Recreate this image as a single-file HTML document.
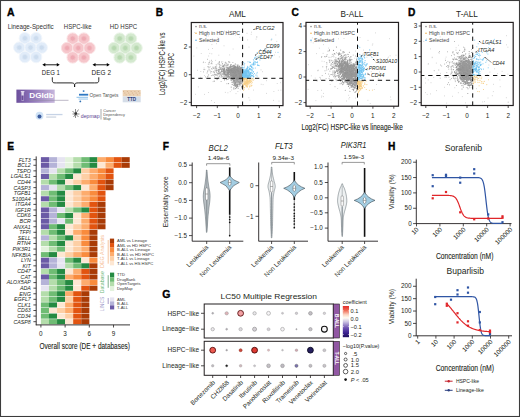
<!DOCTYPE html>
<html><head><meta charset="utf-8"><style>
html,body{margin:0;padding:0;background:#fff;}
svg{display:block;}
text{font-family:"Liberation Sans", sans-serif;}
</style></head><body>
<svg width="520" height="417" viewBox="0 0 520 417" font-family='"Liberation Sans", sans-serif'>
<rect x="0" y="0" width="520" height="417" fill="#fff"/>
<text x="7.00" y="16.00" font-size="10.4" fill="#000" font-weight="bold" stroke="#000" stroke-width="0.35">A</text>
<text x="7.70" y="28.60" font-size="6.6" fill="#333" textLength="46" lengthAdjust="spacingAndGlyphs">Lineage-Specific</text>
<text x="63.80" y="28.60" font-size="6.6" fill="#333" textLength="27.8" lengthAdjust="spacingAndGlyphs">HSPC-like</text>
<text x="109.80" y="28.60" font-size="6.6" fill="#333" textLength="27.5" lengthAdjust="spacingAndGlyphs">HD HSPC</text>
<circle cx="24.9" cy="38.2" r="5.7" fill="#e1ecf9" stroke="#f1f6fc" stroke-width="1.0"/>
<circle cx="36.1" cy="38.2" r="5.7" fill="#e1ecf9" stroke="#f1f6fc" stroke-width="1.0"/>
<circle cx="19.3" cy="47.6" r="5.7" fill="#e1ecf9" stroke="#f1f6fc" stroke-width="1.0"/>
<circle cx="30.5" cy="47.6" r="5.7" fill="#e1ecf9" stroke="#f1f6fc" stroke-width="1.0"/>
<circle cx="41.7" cy="47.6" r="5.7" fill="#e1ecf9" stroke="#f1f6fc" stroke-width="1.0"/>
<circle cx="24.9" cy="57.0" r="5.7" fill="#e1ecf9" stroke="#f1f6fc" stroke-width="1.0"/>
<circle cx="36.1" cy="57.0" r="5.7" fill="#e1ecf9" stroke="#f1f6fc" stroke-width="1.0"/>
<circle cx="24.9" cy="38.2" r="2.5" fill="#ccdcee" stroke="#dbe6f4" stroke-width="0.8"/>
<circle cx="36.1" cy="38.2" r="2.5" fill="#ccdcee" stroke="#dbe6f4" stroke-width="0.8"/>
<circle cx="19.3" cy="47.6" r="2.5" fill="#ccdcee" stroke="#dbe6f4" stroke-width="0.8"/>
<circle cx="30.5" cy="47.6" r="2.5" fill="#ccdcee" stroke="#dbe6f4" stroke-width="0.8"/>
<circle cx="41.7" cy="47.6" r="2.5" fill="#ccdcee" stroke="#dbe6f4" stroke-width="0.8"/>
<circle cx="24.9" cy="57.0" r="2.5" fill="#ccdcee" stroke="#dbe6f4" stroke-width="0.8"/>
<circle cx="36.1" cy="57.0" r="2.5" fill="#ccdcee" stroke="#dbe6f4" stroke-width="0.8"/>
<circle cx="72.7" cy="38.6" r="5.7" fill="#f6c6cb" stroke="#fbe1e3" stroke-width="1.0"/>
<circle cx="83.9" cy="38.6" r="5.7" fill="#f6c6cb" stroke="#fbe1e3" stroke-width="1.0"/>
<circle cx="67.1" cy="48.0" r="5.7" fill="#f6c6cb" stroke="#fbe1e3" stroke-width="1.0"/>
<circle cx="78.3" cy="48.0" r="5.7" fill="#f6c6cb" stroke="#fbe1e3" stroke-width="1.0"/>
<circle cx="89.5" cy="48.0" r="5.7" fill="#f6c6cb" stroke="#fbe1e3" stroke-width="1.0"/>
<circle cx="72.7" cy="57.4" r="5.7" fill="#f6c6cb" stroke="#fbe1e3" stroke-width="1.0"/>
<circle cx="83.9" cy="57.4" r="5.7" fill="#f6c6cb" stroke="#fbe1e3" stroke-width="1.0"/>
<circle cx="72.7" cy="38.6" r="2.5" fill="#eeaab3" stroke="#f3bec4" stroke-width="0.8"/>
<circle cx="83.9" cy="38.6" r="2.5" fill="#eeaab3" stroke="#f3bec4" stroke-width="0.8"/>
<circle cx="67.1" cy="48.0" r="2.5" fill="#eeaab3" stroke="#f3bec4" stroke-width="0.8"/>
<circle cx="78.3" cy="48.0" r="2.5" fill="#eeaab3" stroke="#f3bec4" stroke-width="0.8"/>
<circle cx="89.5" cy="48.0" r="2.5" fill="#eeaab3" stroke="#f3bec4" stroke-width="0.8"/>
<circle cx="72.7" cy="57.4" r="2.5" fill="#eeaab3" stroke="#f3bec4" stroke-width="0.8"/>
<circle cx="83.9" cy="57.4" r="2.5" fill="#eeaab3" stroke="#f3bec4" stroke-width="0.8"/>
<circle cx="119.7" cy="38.6" r="5.7" fill="#d4e9cf" stroke="#e9f4e6" stroke-width="1.0"/>
<circle cx="130.9" cy="38.6" r="5.7" fill="#d4e9cf" stroke="#e9f4e6" stroke-width="1.0"/>
<circle cx="114.1" cy="48.0" r="5.7" fill="#d4e9cf" stroke="#e9f4e6" stroke-width="1.0"/>
<circle cx="125.3" cy="48.0" r="5.7" fill="#d4e9cf" stroke="#e9f4e6" stroke-width="1.0"/>
<circle cx="136.5" cy="48.0" r="5.7" fill="#d4e9cf" stroke="#e9f4e6" stroke-width="1.0"/>
<circle cx="119.7" cy="57.4" r="5.7" fill="#d4e9cf" stroke="#e9f4e6" stroke-width="1.0"/>
<circle cx="130.9" cy="57.4" r="5.7" fill="#d4e9cf" stroke="#e9f4e6" stroke-width="1.0"/>
<circle cx="119.7" cy="38.6" r="2.5" fill="#b7d8b0" stroke="#c9e2c3" stroke-width="0.8"/>
<circle cx="130.9" cy="38.6" r="2.5" fill="#b7d8b0" stroke="#c9e2c3" stroke-width="0.8"/>
<circle cx="114.1" cy="48.0" r="2.5" fill="#b7d8b0" stroke="#c9e2c3" stroke-width="0.8"/>
<circle cx="125.3" cy="48.0" r="2.5" fill="#b7d8b0" stroke="#c9e2c3" stroke-width="0.8"/>
<circle cx="136.5" cy="48.0" r="2.5" fill="#b7d8b0" stroke="#c9e2c3" stroke-width="0.8"/>
<circle cx="119.7" cy="57.4" r="2.5" fill="#b7d8b0" stroke="#c9e2c3" stroke-width="0.8"/>
<circle cx="130.9" cy="57.4" r="2.5" fill="#b7d8b0" stroke="#c9e2c3" stroke-width="0.8"/>
<line x1="44.30" y1="64.80" x2="57.80" y2="64.80" stroke="#000" stroke-width="0.9"/>
<path d="M42.3 64.8 l3 -1.8 v3.6z M59.8 64.8 l-3 -1.8 v3.6z" fill="#000"/>
<line x1="94.50" y1="64.80" x2="107.80" y2="64.80" stroke="#000" stroke-width="0.9"/>
<path d="M92.5 64.8 l3 -1.8 v3.6z M109.8 64.8 l-3 -1.8 v3.6z" fill="#000"/>
<text x="41.80" y="74.80" font-size="6.6" fill="#222" textLength="18" lengthAdjust="spacingAndGlyphs">DEG 1</text>
<text x="91.60" y="74.80" font-size="6.6" fill="#222" textLength="19.4" lengthAdjust="spacingAndGlyphs">DEG 2</text>
<path d="M52.3 77.3 C52.3 82.9 52.3 82.9 56.5 82.9 L71 82.9 C74.6 82.9 74.6 84 74.6 87 C74.6 84 74.6 82.9 78.2 82.9 L94.6 82.9 C98.8 82.9 98.8 82.9 98.8 77.3" fill="none" stroke="#111" stroke-width="0.9"/>
<defs><linearGradient id="dg" x1="0" x2="1" y1="0" y2="0"><stop offset="0" stop-color="#6c4f9c"/><stop offset="0.35" stop-color="#8a6fb5"/><stop offset="1" stop-color="#c6b6dc"/></linearGradient></defs>
<rect x="16.40" y="89.60" width="38.30" height="13.20" fill="url(#dg)"/>
<path d="M20.8 91 h3.6 v1.2 h-0.6 v7.5 a1.2 1.2 0 0 1 -2.4 0 v-7.5 h-0.6z" fill="#ece6f4" opacity="0.9"/>
<path d="M21.4 95.5 h2.2 v4 a1.1 1.1 0 0 1 -2.2 0z" fill="#6c4f9c"/>
<text x="29.30" y="98.00" font-size="6.8" fill="#fff" font-weight="bold" textLength="24.5" lengthAdjust="spacingAndGlyphs">DGIdb</text>
<line x1="29.00" y1="100.30" x2="68.50" y2="100.30" stroke="#8e86a0" stroke-width="0.6"/>
<rect x="82.80" y="90.30" width="1.60" height="1.60" fill="#3a7fc4"/>
<rect x="79.00" y="93.80" width="9.20" height="1.80" fill="#2f78c2"/>
<rect x="76.50" y="96.80" width="11.50" height="1.00" fill="#8cc0ea"/>
<rect x="78.50" y="98.60" width="9.50" height="0.90" fill="#8cc0ea"/>
<circle cx="80.3" cy="101.4" r="0.9" fill="#2f6fb2"/>
<text x="89.50" y="97.40" font-size="4.6" fill="#555" textLength="28.8" lengthAdjust="spacingAndGlyphs">Open Targets</text>
<rect x="122.70" y="90.00" width="18.00" height="6.50" fill="#ecd2b4"/>
<circle cx="123.60" cy="91.50" r="0.5" fill="#c99b70" opacity="0.7"/>
<circle cx="124.85" cy="93.10" r="0.5" fill="#c99b70" opacity="0.7"/>
<circle cx="126.10" cy="94.70" r="0.5" fill="#c99b70" opacity="0.7"/>
<circle cx="127.35" cy="91.50" r="0.5" fill="#c99b70" opacity="0.7"/>
<circle cx="128.60" cy="93.10" r="0.5" fill="#c99b70" opacity="0.7"/>
<circle cx="129.85" cy="94.70" r="0.5" fill="#c99b70" opacity="0.7"/>
<circle cx="131.10" cy="91.50" r="0.5" fill="#c99b70" opacity="0.7"/>
<circle cx="132.35" cy="93.10" r="0.5" fill="#c99b70" opacity="0.7"/>
<circle cx="133.60" cy="94.70" r="0.5" fill="#c99b70" opacity="0.7"/>
<circle cx="134.85" cy="91.50" r="0.5" fill="#c99b70" opacity="0.7"/>
<circle cx="136.10" cy="93.10" r="0.5" fill="#c99b70" opacity="0.7"/>
<circle cx="137.35" cy="94.70" r="0.5" fill="#c99b70" opacity="0.7"/>
<circle cx="138.60" cy="91.50" r="0.5" fill="#c99b70" opacity="0.7"/>
<circle cx="139.85" cy="93.10" r="0.5" fill="#c99b70" opacity="0.7"/>
<rect x="122.70" y="96.50" width="18.00" height="5.80" fill="#d5dde8"/>
<text x="131.70" y="101.30" font-size="4.6" fill="#2c3f78" text-anchor="middle" font-weight="bold">TTD</text>
<circle cx="39.5" cy="115.7" r="3.9" fill="#cfe2f5"/>
<circle cx="39.5" cy="116.6" r="2.0" fill="#3d5d9e"/>
<rect x="46.20" y="113.90" width="16.30" height="1.30" fill="#c6d3e6"/>
<rect x="46.20" y="116.60" width="10.00" height="0.90" fill="#b8c3d3"/>
<g stroke="#444" stroke-width="0.6" fill="none"><path d="M72.5 111 l6 6 M78.5 109.5 l-5 7.5 M75.5 109 v9 M72.5 114 h7"/></g>
<circle cx="75.8" cy="113.5" r="1.3" fill="#333"/>
<text x="80.80" y="117.60" font-size="6.0" fill="#5b3f8f" textLength="18.8" lengthAdjust="spacingAndGlyphs">depmap</text>
<line x1="101.00" y1="109.00" x2="101.00" y2="119.50" stroke="#555" stroke-width="0.5"/>
<text x="103.20" y="112.30" font-size="3.9" fill="#555">Cancer</text>
<text x="103.20" y="116.30" font-size="3.9" fill="#555">Dependency</text>
<text x="103.20" y="120.30" font-size="3.9" fill="#555">Map</text>
<text x="155.80" y="15.80" font-size="10.2" fill="#000" font-weight="bold" stroke="#000" stroke-width="0.35">B</text>
<text x="237.50" y="17.40" font-size="8.2" fill="#231f20" text-anchor="middle">AML</text>
<path d="M277.2 83.5h0M217.9 37.9h0M208.5 49.4h0M243.3 54.1h0M206.3 36.8h0M253.4 90.1h0M204.1 68.0h0M279.3 56.9h0M240.2 89.8h0M195.4 94.3h0M261.2 84.3h0M223.4 66.4h0M275.8 35.0h0M200.5 77.3h0M276.8 41.4h0M209.8 64.1h0M262.5 71.7h0M251.2 34.3h0M210.8 73.3h0M256.8 37.2h0M201.2 53.5h0M229.7 54.9h0M208.2 35.9h0M249.9 100.2h0M248.9 97.7h0M204.4 75.5h0M225.3 92.4h0M245.8 75.4h0M273.5 100.4h0M205.3 62.5h0M200.8 71.5h0M213.0 81.6h0M224.5 31.1h0M271.2 39.7h0M216.8 68.5h0M198.3 86.9h0M256.1 39.1h0M247.7 39.9h0M239.8 37.3h0M218.0 63.4h0M241.1 78.3h0M274.6 55.0h0M224.0 45.8h0M258.0 57.3h0M211.9 44.6h0M230.2 91.6h0M231.7 90.0h0M234.6 73.0h0M215.7 60.4h0M256.8 36.7h0M233.1 49.0h0M218.8 55.2h0M210.7 72.6h0M196.8 47.9h0M216.4 43.7h0M266.5 80.7h0M271.2 40.2h0M209.8 53.4h0M237.9 91.5h0M266.5 93.4h0M194.8 32.5h0M222.8 61.8h0M193.9 56.1h0M204.5 94.4h0M211.8 53.8h0M208.6 92.5h0M203.2 62.6h0M212.6 48.5h0M280.5 82.7h0M257.9 56.5h0M279.0 101.1h0M249.0 47.1h0M197.6 70.3h0M236.0 93.6h0M280.9 90.2h0M214.5 102.5h0M247.0 33.3h0M211.5 100.6h0M263.1 84.6h0M251.4 32.2h0M275.5 52.3h0M261.0 69.9h0M236.1 69.0h0M273.9 91.5h0M227.9 92.8h0M208.7 56.0h0M221.4 33.9h0M228.5 30.7h0M278.3 90.3h0M235.3 35.0h0" stroke="#c4c4c4" stroke-width="0.9" stroke-linecap="round" fill="none" opacity="0.9"/>
<path d="M228.1 70.3h0M221.0 69.6h0M225.0 76.9h0M214.2 81.0h0M231.0 70.7h0M237.8 70.6h0M233.7 77.5h0M207.1 73.0h0M223.1 69.5h0M225.1 72.0h0M226.9 70.2h0M228.6 70.0h0M221.3 71.5h0M211.3 75.6h0M223.7 69.3h0M218.7 77.2h0M236.4 75.4h0M208.7 74.8h0M214.2 81.4h0M222.5 63.7h0M218.8 74.6h0M238.4 71.4h0M225.4 65.2h0M214.3 71.0h0M231.7 70.6h0M214.4 74.9h0M223.8 66.4h0M207.9 70.7h0M208.3 64.3h0M216.2 70.3h0M217.0 70.3h0M229.8 71.4h0M223.2 70.0h0M224.0 73.4h0M233.0 67.8h0M212.5 75.1h0M218.5 69.6h0M212.0 63.8h0M227.0 70.6h0M235.6 75.0h0M230.4 69.6h0M239.9 76.5h0M240.9 69.2h0M229.1 66.7h0M224.0 72.0h0M235.2 73.2h0M237.8 65.7h0M228.8 70.6h0M219.9 75.0h0M241.5 76.4h0M227.5 70.0h0M217.3 73.8h0M219.3 61.6h0M230.4 65.3h0M240.2 73.8h0M219.5 64.5h0M241.8 76.4h0M238.5 70.4h0M234.9 67.3h0M226.7 65.7h0M224.0 68.7h0M225.9 78.6h0M221.0 67.1h0M221.1 77.7h0M221.6 70.5h0M231.8 69.9h0M232.2 76.1h0M220.5 74.3h0M222.2 69.0h0M240.6 72.8h0M237.8 66.7h0M215.0 74.2h0M228.4 77.3h0M214.1 67.2h0M219.1 67.7h0M216.7 66.1h0M220.8 67.7h0M237.2 78.2h0M217.7 78.5h0M215.4 66.6h0M226.5 67.4h0M241.6 67.2h0M234.4 73.3h0M222.9 69.6h0M235.9 66.7h0M230.0 72.5h0M226.1 63.8h0M229.8 62.4h0M219.6 66.9h0M229.2 67.9h0M219.2 69.3h0M226.3 72.3h0M214.6 76.8h0M223.5 68.6h0M229.6 70.2h0M230.3 77.2h0M237.9 71.3h0M219.2 73.2h0M237.2 70.7h0M209.8 61.1h0M211.7 62.9h0M235.8 75.9h0M239.8 66.1h0M237.8 68.7h0M230.4 70.3h0M221.5 69.6h0M240.2 72.1h0M227.4 77.6h0M208.9 69.2h0M223.7 73.4h0M216.1 71.6h0M210.3 71.2h0M221.6 76.3h0M231.3 79.4h0M231.5 70.1h0M232.5 70.7h0M235.2 72.6h0M215.9 68.9h0M218.9 72.3h0M228.3 75.2h0M237.2 78.3h0M239.7 71.8h0M234.0 70.1h0M228.2 77.2h0M221.3 75.0h0M219.7 71.3h0M218.9 70.1h0M224.4 73.0h0M231.1 69.2h0M213.2 71.9h0M231.8 75.2h0M237.1 64.8h0M233.0 71.9h0M227.3 79.4h0M233.2 72.7h0M231.1 69.6h0M229.2 62.0h0M236.5 74.3h0M233.3 68.6h0M227.4 64.9h0M223.3 78.6h0M216.1 68.9h0M216.9 70.0h0M211.5 68.7h0M224.4 74.9h0M221.3 72.0h0M236.4 70.4h0M224.9 70.3h0M236.2 69.4h0M235.5 70.9h0M220.6 68.2h0M235.6 67.2h0M232.0 75.1h0M228.8 69.5h0M228.6 64.3h0M227.7 73.1h0M230.0 67.8h0M228.6 78.5h0M222.9 66.5h0M219.4 67.0h0M228.8 74.6h0M235.2 80.8h0M205.5 76.9h0M232.5 72.5h0M233.5 71.7h0M228.4 73.4h0M223.0 66.6h0M234.9 77.2h0M232.9 62.5h0M234.8 75.5h0M234.7 70.5h0M223.8 66.7h0M239.6 73.9h0M228.3 72.8h0M227.1 64.1h0M222.6 68.4h0M229.7 70.8h0M215.5 67.9h0M215.8 67.4h0M226.1 70.4h0M222.3 74.6h0M216.5 70.6h0M226.2 69.8h0M224.1 67.6h0M228.5 70.6h0M224.6 71.0h0M233.7 74.4h0M214.8 68.9h0M231.3 71.1h0M229.5 76.8h0M217.1 70.7h0M226.7 76.5h0M231.8 79.5h0M239.7 76.2h0M221.3 75.4h0M213.3 71.9h0M207.7 71.7h0M228.7 72.5h0M226.8 77.3h0M208.2 76.0h0M237.8 70.2h0M208.8 62.9h0M233.4 66.7h0M237.3 65.9h0M209.8 70.0h0M219.1 62.4h0M234.0 71.4h0M224.4 80.2h0M228.0 74.8h0M240.8 68.5h0M226.2 72.8h0M238.2 73.9h0M238.2 70.7h0M224.1 69.4h0M234.6 68.2h0M224.4 64.6h0M233.8 69.0h0M216.7 68.1h0M213.8 68.3h0M227.7 68.0h0M212.2 69.0h0M219.1 73.4h0M235.6 71.8h0M231.1 71.2h0M230.8 64.5h0M228.2 72.4h0M227.2 68.0h0M231.6 80.6h0M226.2 69.2h0M224.2 76.0h0M226.3 78.8h0M218.4 71.1h0M211.6 71.6h0M220.0 65.3h0M228.4 68.2h0M237.8 78.4h0M222.9 71.8h0M224.4 79.5h0M228.2 72.4h0M242.1 69.2h0M204.8 69.6h0M237.9 72.0h0M219.7 76.8h0M223.2 75.1h0M224.1 72.4h0M240.0 76.0h0M230.4 76.0h0M229.8 66.7h0M221.1 76.0h0M227.3 71.0h0M220.4 69.0h0M227.7 68.2h0M212.8 67.2h0M239.9 75.2h0M213.6 75.2h0M219.3 73.6h0M224.5 69.7h0M224.8 72.4h0M217.1 79.6h0M219.6 76.2h0M236.0 82.1h0M238.7 84.1h0M224.9 71.0h0M215.5 74.9h0M235.9 76.2h0M226.0 70.9h0M233.6 76.9h0M240.4 72.4h0M237.3 77.8h0M238.1 72.0h0M234.9 74.3h0M235.8 71.4h0M207.4 59.3h0M220.1 68.8h0M224.9 73.0h0M223.1 66.9h0M236.5 67.5h0M210.1 66.8h0M211.4 60.3h0M230.9 66.3h0M226.9 70.5h0M219.6 62.1h0M223.5 66.2h0M218.6 71.4h0M222.9 71.4h0M221.7 68.1h0M233.7 78.5h0M222.4 76.7h0M238.0 77.1h0M231.8 70.7h0M226.4 79.7h0M233.9 66.8h0M216.6 75.0h0M218.4 71.1h0M236.7 72.2h0M240.5 69.0h0M226.2 68.1h0M222.0 65.3h0M220.1 65.1h0M226.2 63.0h0M238.2 68.6h0M230.8 70.5h0M231.7 72.2h0M224.0 76.4h0M231.7 76.1h0M224.3 70.8h0M225.7 72.4h0M203.4 71.9h0M224.4 73.1h0M223.7 77.9h0M218.1 64.2h0M217.2 73.0h0M218.4 71.5h0M221.6 62.0h0M216.2 64.7h0M222.1 68.9h0M226.9 83.7h0M223.5 71.9h0M228.3 70.1h0M215.6 74.8h0M235.0 72.6h0M227.4 68.2h0M228.1 70.5h0M215.8 70.6h0M209.4 62.5h0M219.1 63.3h0M221.9 71.5h0M240.6 70.7h0M229.0 72.3h0M224.4 74.2h0M219.1 78.6h0M225.5 74.5h0M241.7 62.3h0M223.4 71.5h0M211.2 63.5h0M234.5 70.1h0M224.0 69.7h0M222.3 68.7h0M213.5 68.2h0M224.1 72.8h0M223.2 71.4h0M209.1 67.6h0M225.1 63.0h0M227.0 66.8h0M226.8 71.6h0M214.5 72.5h0M221.1 81.5h0M224.1 74.1h0M230.3 66.6h0M224.0 65.6h0M240.1 68.2h0M223.7 70.4h0M239.1 79.2h0M203.6 62.1h0M234.6 65.4h0M233.2 72.6h0M232.0 71.4h0M217.4 73.9h0M237.8 67.5h0M230.2 69.6h0M214.3 74.2h0M232.7 79.3h0M232.4 68.6h0M234.1 67.5h0M218.8 78.2h0M203.9 69.6h0M236.5 78.8h0M229.1 74.2h0M224.6 69.9h0M227.7 76.3h0M235.1 71.9h0M207.8 66.7h0M224.7 65.1h0M240.9 69.3h0M238.4 73.3h0M234.8 67.0h0M237.2 69.7h0M236.0 69.4h0M233.6 78.1h0M233.5 75.4h0M223.4 70.6h0M229.9 76.9h0M221.8 69.7h0M223.0 70.7h0M229.7 70.1h0M221.6 69.9h0M233.2 76.9h0M235.4 75.8h0M231.1 68.4h0M233.9 76.5h0M217.7 75.8h0M233.2 70.6h0M208.5 66.9h0M239.6 73.8h0M226.4 69.9h0M216.7 72.4h0M233.0 72.8h0M227.1 70.5h0M230.7 73.3h0M240.1 71.3h0M226.9 65.2h0M241.2 75.7h0M224.0 65.2h0M222.3 63.8h0M225.5 62.3h0M217.1 79.2h0M212.1 61.6h0M219.7 72.6h0M221.2 74.0h0M228.8 70.5h0M220.7 73.1h0M241.1 67.4h0M237.5 65.9h0M225.2 67.0h0M241.3 82.5h0M207.4 76.7h0M216.8 74.9h0M240.8 76.2h0M239.3 73.0h0M236.7 74.7h0" stroke="#a3a3a3" stroke-width="1.0" stroke-linecap="round" fill="none" opacity="0.9"/>
<path d="M230.9 71.3h0M230.3 72.5h0M240.8 70.4h0M231.0 76.2h0M242.1 72.5h0M237.4 74.0h0M233.5 76.1h0M238.6 73.0h0M236.0 73.2h0M239.6 71.5h0M227.6 69.9h0M229.8 72.7h0M229.5 72.2h0M233.5 72.1h0M236.3 71.1h0M237.5 72.2h0M238.6 76.4h0M241.3 76.1h0M242.0 73.8h0M238.8 75.7h0M242.5 72.5h0M241.2 72.2h0M239.6 72.9h0M239.1 75.2h0M232.1 73.7h0M241.4 69.3h0M242.5 71.8h0M239.1 71.2h0M234.0 67.0h0M239.4 70.6h0M239.0 71.2h0M238.7 76.0h0M237.4 72.1h0M238.3 69.4h0M233.6 70.4h0M227.6 74.6h0M239.4 71.9h0M238.0 71.4h0M237.1 80.2h0M235.6 72.3h0M238.7 68.8h0M237.5 67.8h0M234.0 74.2h0M242.2 69.7h0M241.8 72.9h0M227.4 74.0h0M234.5 74.4h0M241.4 74.8h0M242.6 73.7h0M236.1 72.7h0M240.5 71.1h0M235.2 73.6h0M230.1 67.5h0M235.2 76.6h0M239.0 72.8h0M233.5 79.9h0M228.7 71.6h0M228.7 61.8h0M237.0 79.5h0M237.3 77.8h0M241.5 80.1h0M232.7 69.0h0M229.1 69.6h0M234.0 74.8h0M231.1 74.4h0M237.2 76.1h0M237.3 77.1h0M227.7 69.9h0M233.8 72.5h0M235.8 76.3h0M228.2 76.4h0M238.0 72.9h0M235.2 68.7h0M239.0 71.7h0M226.6 69.6h0M234.0 68.9h0M240.0 70.6h0M242.4 80.0h0M242.2 75.8h0M233.6 74.0h0M242.5 71.3h0M234.6 79.9h0M237.4 71.5h0M233.6 72.0h0M239.3 70.5h0M233.2 75.1h0M233.6 67.6h0M239.3 73.1h0M239.2 74.1h0M236.1 76.8h0M234.3 68.0h0M241.1 73.5h0M236.8 73.0h0M240.0 75.5h0M239.1 72.8h0M233.7 75.1h0M232.2 75.7h0M236.5 74.9h0M234.4 72.6h0M237.2 75.0h0M237.3 70.5h0M235.7 76.4h0M230.7 75.6h0M229.9 69.0h0M240.1 74.3h0M242.4 71.5h0M229.0 76.7h0M232.6 69.9h0M235.7 74.6h0M236.1 78.4h0M232.2 76.2h0M240.8 67.5h0M228.0 73.2h0M232.6 66.7h0M241.3 75.9h0M228.6 73.6h0M236.6 73.1h0M238.8 74.4h0M239.1 75.2h0M232.8 68.2h0M240.1 72.3h0M228.8 72.6h0M240.3 74.0h0M239.3 69.9h0M235.7 68.4h0M233.5 75.5h0M242.1 77.0h0M235.9 70.4h0M240.9 68.1h0M234.5 73.7h0M231.3 73.2h0M236.9 73.6h0M229.6 69.1h0M231.8 73.8h0M237.2 74.2h0M232.2 73.3h0M237.2 69.9h0M242.3 71.6h0M233.0 72.3h0M240.9 69.9h0M240.7 74.4h0M238.2 74.0h0M239.4 71.5h0M236.0 75.5h0M233.0 69.4h0M238.0 71.4h0M231.9 73.1h0M233.7 70.6h0M234.6 73.2h0M240.3 69.6h0M233.4 75.5h0M240.6 75.3h0M237.4 78.6h0M242.1 75.3h0M232.8 66.5h0M242.1 63.5h0M240.4 74.7h0M238.6 68.7h0M237.8 72.0h0M241.0 76.4h0M238.7 74.9h0M230.8 69.8h0M241.9 73.6h0M232.7 78.5h0M240.8 74.0h0M228.2 72.2h0M229.2 72.2h0M238.8 72.4h0M239.3 73.0h0M231.4 73.6h0M235.0 73.6h0M239.6 71.7h0M240.3 74.2h0M228.4 70.9h0M235.0 70.0h0M231.9 72.8h0M237.2 73.5h0M234.6 78.3h0M240.7 70.7h0M237.6 76.3h0M239.2 71.8h0M237.0 73.2h0M234.8 78.5h0M233.9 75.0h0M232.4 74.6h0M237.3 66.7h0M237.6 78.4h0M240.3 76.4h0M234.6 77.6h0M238.6 76.4h0M237.6 74.4h0M234.4 70.1h0M232.8 75.8h0M239.6 66.5h0M235.4 75.3h0M234.0 76.0h0M232.4 73.2h0M235.0 77.7h0M239.2 73.6h0M230.9 75.6h0M237.8 70.3h0M241.6 73.2h0M236.1 72.1h0M237.9 66.9h0M231.4 73.5h0M238.8 74.5h0M230.0 75.1h0M241.5 71.0h0M241.3 70.7h0M236.5 73.8h0M230.3 73.0h0M234.8 71.1h0M233.8 75.9h0M236.1 68.5h0M237.7 72.8h0M238.1 72.5h0M228.5 68.0h0M238.0 74.3h0M232.0 71.1h0M242.3 74.2h0M224.5 72.6h0M236.9 76.4h0M235.7 73.9h0M233.5 75.0h0M238.5 72.5h0M235.1 73.2h0M229.9 70.7h0M233.7 72.1h0M232.7 74.1h0M239.2 77.1h0M237.6 75.4h0M239.7 77.6h0M235.1 71.1h0M235.0 76.4h0M231.1 74.7h0M238.1 75.2h0M238.1 65.1h0M240.0 73.3h0M237.2 70.1h0M236.1 74.0h0M235.8 73.3h0M230.2 73.6h0M233.4 70.3h0M239.3 70.9h0M237.6 78.9h0M240.6 73.0h0M240.9 77.5h0M238.5 75.4h0M234.0 71.7h0M240.0 76.2h0M228.1 79.3h0M234.7 69.6h0M237.7 79.9h0M233.0 71.4h0M240.1 73.0h0M231.9 73.8h0M236.1 75.3h0M238.4 74.5h0M240.0 69.3h0M242.3 72.6h0M236.6 77.6h0M237.3 71.6h0M232.2 68.8h0M236.1 72.0h0M236.1 76.8h0M239.6 75.9h0M235.6 70.3h0M238.1 70.5h0M234.3 70.7h0M233.5 70.9h0M240.5 70.1h0M240.1 77.1h0M241.9 77.1h0M242.4 69.4h0M241.5 75.4h0M230.8 73.4h0M238.7 74.4h0M228.2 73.5h0M240.1 73.0h0M237.0 79.5h0M235.4 74.8h0M239.8 68.6h0M228.2 72.7h0M233.9 71.1h0M230.8 72.2h0M236.3 77.7h0M242.0 77.7h0M229.0 72.8h0M240.0 76.5h0M235.1 72.1h0M237.0 82.2h0M235.5 71.7h0M239.7 70.6h0M234.0 65.3h0M238.6 75.2h0M227.0 75.1h0M240.7 73.4h0M239.6 71.6h0M238.8 68.8h0M234.6 74.0h0M239.9 71.4h0M242.6 69.5h0M235.2 69.5h0M240.7 76.7h0M237.2 67.1h0M242.6 75.3h0M224.1 73.7h0M233.9 72.6h0M239.8 76.3h0M231.1 73.0h0M235.3 64.1h0M235.7 74.8h0M230.8 68.6h0M236.2 77.0h0M239.9 72.1h0M236.0 71.0h0M226.1 78.8h0M237.3 69.6h0M242.0 72.7h0M237.5 74.5h0M231.5 72.1h0M241.1 75.7h0M239.5 76.5h0M240.2 74.2h0M239.8 75.3h0M231.2 73.4h0M236.1 70.7h0M242.4 72.7h0M229.0 71.2h0M232.4 69.1h0M242.6 72.1h0M223.3 69.6h0M242.1 77.6h0M236.9 75.3h0M232.1 73.8h0M239.2 75.4h0M234.4 74.5h0M232.9 70.1h0M236.4 70.6h0M231.3 69.7h0M237.8 71.3h0M237.4 75.9h0M237.1 75.8h0M239.2 74.6h0M239.6 72.5h0M234.0 77.0h0M240.5 70.9h0M242.0 77.2h0M241.5 72.6h0M239.6 72.3h0M236.1 72.4h0M229.7 72.5h0M239.1 78.9h0M234.1 71.1h0M237.1 72.9h0M230.7 69.7h0M233.8 76.2h0M233.4 69.1h0M242.4 72.1h0M227.8 72.3h0M241.6 77.4h0M233.9 70.0h0M235.6 78.5h0M242.5 67.2h0M235.3 74.4h0M241.8 72.7h0M230.1 74.4h0M231.6 66.5h0M233.8 70.2h0M230.8 73.4h0M233.8 73.6h0M241.2 77.4h0M235.0 66.8h0M238.4 69.5h0M239.8 75.2h0M235.8 73.4h0M241.6 73.4h0M235.3 75.1h0M233.5 77.0h0M232.3 69.9h0M238.3 73.9h0M240.0 70.4h0M241.6 71.5h0M234.8 73.7h0M233.5 73.0h0M233.3 73.8h0M237.0 73.8h0M236.5 74.6h0M232.1 72.0h0M231.7 75.7h0M238.5 78.3h0M219.3 70.0h0M232.8 70.9h0M226.5 74.4h0M231.0 73.0h0M226.6 69.2h0M237.2 72.3h0M236.1 79.3h0M237.1 77.2h0M238.1 75.8h0M236.2 73.7h0M242.5 71.6h0M232.2 72.6h0M233.8 73.1h0M236.0 70.3h0M238.2 72.2h0M232.1 77.7h0M228.8 69.6h0M239.7 68.7h0M226.6 74.4h0M238.2 73.4h0M238.2 70.9h0M237.1 72.2h0M233.7 71.1h0M236.5 73.6h0M235.6 69.8h0M234.1 72.5h0M234.3 66.4h0M241.0 74.9h0M240.8 76.0h0M234.5 72.5h0M240.4 69.6h0M242.3 68.2h0M240.6 73.2h0M237.2 75.7h0M237.3 74.8h0M233.4 79.3h0M235.8 72.6h0M238.8 70.9h0M237.1 75.1h0M239.8 71.6h0M232.8 77.1h0M232.1 69.4h0M238.6 70.9h0M236.6 69.0h0M231.4 71.1h0M236.3 73.3h0M234.2 74.2h0M237.9 68.0h0M242.1 72.6h0M238.2 75.6h0M236.7 69.5h0M239.5 73.6h0M228.6 70.9h0M228.0 67.5h0M234.3 72.8h0M230.2 73.7h0M232.6 69.3h0M239.4 77.0h0M226.8 72.0h0M235.2 76.2h0M241.4 74.3h0M238.6 75.1h0M234.7 74.2h0M228.7 70.2h0M240.3 78.7h0M238.6 70.0h0M239.4 69.7h0M236.4 73.1h0M230.5 75.0h0M227.4 74.6h0M239.4 72.0h0M232.3 71.3h0M237.2 67.9h0M231.4 74.0h0M239.1 75.6h0M241.0 71.7h0M232.9 75.1h0M237.3 69.3h0M240.1 71.6h0M235.3 71.4h0M239.7 73.7h0M228.2 71.7h0M241.2 73.9h0M228.8 70.8h0M242.2 73.3h0M240.5 74.7h0M234.2 71.3h0M235.9 72.5h0M238.8 78.2h0M238.6 71.2h0M233.9 73.5h0M224.9 70.0h0M234.5 70.8h0M236.8 74.0h0M233.1 68.9h0M229.3 68.6h0M230.6 68.8h0M239.2 70.8h0M241.0 70.3h0M240.0 71.9h0M239.4 70.3h0M235.7 70.0h0M240.6 75.2h0M236.3 72.3h0M236.0 75.7h0M237.8 72.7h0M239.9 71.5h0M227.7 67.8h0M237.0 75.5h0M235.8 71.7h0M238.9 78.1h0M239.0 73.8h0M235.5 70.4h0M233.5 68.2h0M236.1 73.2h0M234.6 71.5h0M241.2 73.3h0M236.8 73.6h0M235.7 70.1h0M235.0 73.4h0M236.8 75.4h0M236.7 77.5h0M240.4 72.0h0M236.3 68.5h0M233.3 71.1h0M240.8 75.3h0M236.6 70.5h0M238.4 72.5h0M228.3 74.2h0M231.8 78.3h0M239.9 69.2h0M230.8 78.7h0M240.9 75.3h0M236.3 74.0h0M232.8 71.3h0M234.8 69.8h0M237.4 71.5h0M232.6 70.7h0M242.3 70.1h0M238.2 72.0h0M234.7 70.3h0M242.5 70.7h0M235.8 76.6h0M237.6 73.9h0M233.7 71.0h0M232.4 74.3h0M236.0 71.0h0M237.4 68.9h0M240.6 70.6h0M227.2 76.8h0M233.1 69.7h0M232.4 75.5h0M232.9 71.0h0M236.2 67.6h0M242.1 75.8h0M239.4 73.9h0M242.5 71.3h0M236.0 70.5h0M241.3 74.0h0M239.5 71.5h0M236.2 75.0h0M234.6 71.5h0M229.6 72.0h0M230.3 73.5h0M227.9 74.1h0M231.1 67.4h0M234.4 68.5h0M235.0 77.2h0M242.4 70.4h0M230.5 72.1h0M234.8 71.1h0M238.0 77.0h0M238.4 71.1h0M236.4 71.5h0M235.0 73.1h0M240.0 73.1h0M238.9 76.8h0M239.3 74.2h0M237.8 69.8h0M239.7 76.4h0M237.1 75.4h0M236.9 75.7h0M233.1 68.4h0M232.5 73.9h0M235.8 77.0h0M242.0 71.8h0M236.0 74.9h0M238.4 72.9h0M226.2 75.4h0M241.1 74.0h0M235.7 75.9h0M234.1 75.0h0M239.3 72.9h0M235.9 68.4h0M240.9 73.8h0M237.4 72.6h0M231.6 73.4h0M234.5 71.0h0M241.5 79.1h0M236.8 70.3h0M230.7 75.7h0M235.5 76.5h0M239.0 75.0h0M239.3 72.2h0M242.0 74.8h0M235.1 72.8h0M237.5 72.7h0M235.0 73.6h0M234.7 74.6h0M238.9 70.1h0M235.0 71.2h0M240.0 73.2h0M241.9 75.4h0M241.2 72.9h0M218.3 69.7h0M241.4 68.1h0M232.0 72.2h0M240.0 76.4h0M233.5 76.2h0M235.7 66.1h0M227.7 70.0h0M237.4 75.1h0M241.5 73.5h0M239.7 72.7h0M231.9 68.7h0M235.4 69.7h0M242.0 73.7h0M238.8 73.5h0M227.6 72.9h0M240.5 78.3h0M229.6 69.1h0M240.7 73.8h0M236.8 75.3h0M239.1 73.8h0M234.3 73.8h0M233.7 70.9h0M232.2 77.0h0M232.5 69.4h0M235.1 71.0h0M242.2 75.3h0M242.3 72.4h0M237.8 75.3h0M237.7 77.0h0M236.5 74.8h0M240.5 72.6h0M234.4 70.3h0M233.8 71.3h0M224.1 73.2h0M241.4 67.9h0M233.8 68.3h0M224.5 68.3h0M239.1 70.5h0M237.0 75.0h0M236.7 68.8h0M240.2 71.1h0M241.3 73.9h0M234.3 75.0h0M235.5 74.6h0M229.0 76.2h0M230.5 72.4h0M235.6 76.0h0M234.9 75.6h0M234.9 71.5h0M231.9 74.8h0M236.5 73.2h0M233.6 75.0h0M231.5 74.7h0M241.0 74.4h0M220.1 69.2h0M237.6 75.8h0M236.5 82.0h0M228.5 68.6h0M233.8 72.6h0M242.5 77.5h0M240.0 77.0h0M240.1 73.6h0M238.0 68.0h0M231.1 71.4h0M240.5 75.1h0M236.5 68.9h0M239.6 76.9h0M238.5 68.1h0M226.0 73.7h0M239.0 75.1h0M236.2 72.1h0M240.7 72.4h0M229.4 68.5h0M228.7 76.4h0M240.2 69.6h0M240.8 69.5h0M237.1 73.0h0M235.3 70.8h0M234.8 74.6h0M230.9 75.1h0M239.3 72.1h0M235.8 76.1h0M240.0 72.5h0M235.6 71.5h0M237.5 76.0h0M235.8 70.2h0M228.4 69.6h0M232.6 70.8h0M224.2 71.8h0M232.9 68.9h0M238.7 69.5h0M235.4 67.1h0M235.4 67.3h0M235.2 75.9h0M237.7 77.3h0M236.0 72.7h0M233.9 71.6h0M224.6 68.9h0M235.6 68.6h0M236.0 75.0h0M235.4 72.1h0M241.5 75.1h0M233.3 71.4h0M231.9 74.5h0M231.5 69.1h0M235.4 75.3h0M232.6 72.1h0M233.1 72.1h0M234.2 76.4h0M242.0 77.6h0M231.9 82.3h0M231.1 69.9h0M241.5 65.0h0M239.4 70.8h0M241.6 71.5h0M237.9 74.5h0M242.2 70.2h0M231.2 75.8h0M237.8 67.9h0M236.8 78.2h0M231.0 73.2h0M235.8 69.7h0M239.7 72.6h0M233.2 72.9h0M238.7 75.6h0M236.3 72.6h0M239.3 70.3h0M232.0 73.7h0M239.6 74.6h0M240.0 75.0h0M231.4 70.2h0M237.3 73.0h0M237.1 77.8h0M242.0 70.8h0M240.8 73.4h0M233.3 65.4h0M231.0 76.9h0M242.0 72.8h0M234.8 69.9h0M231.1 77.5h0M225.5 71.7h0M234.1 71.3h0M237.7 75.6h0M233.9 70.5h0M232.6 72.2h0M232.2 71.2h0M232.4 73.5h0M238.5 72.0h0M234.5 71.0h0M233.8 72.6h0M238.0 76.7h0M238.7 73.5h0M225.7 75.9h0M232.8 69.7h0M234.7 71.0h0M232.0 75.0h0M235.3 69.8h0M228.3 72.5h0M240.4 73.2h0M237.9 71.0h0M239.7 76.5h0M241.7 76.1h0M236.1 68.7h0M240.5 75.9h0M233.6 67.8h0M240.0 77.7h0M225.4 73.8h0M237.2 73.7h0M237.5 73.4h0M237.5 76.3h0M230.9 80.0h0M240.0 74.2h0M239.2 76.6h0M238.1 76.2h0M232.1 71.5h0M241.8 72.1h0M237.8 74.4h0M234.3 76.0h0M240.2 72.6h0M232.7 65.8h0M225.8 74.2h0M239.5 70.5h0M227.2 73.2h0M236.6 73.0h0M232.9 71.4h0M231.9 78.5h0M229.1 72.0h0M230.3 69.0h0M241.9 70.4h0M239.6 70.9h0M240.8 71.3h0M232.1 74.5h0M232.2 70.1h0M241.0 76.0h0M232.3 74.3h0M236.6 75.2h0M237.3 68.5h0M234.0 73.8h0M231.4 69.2h0M230.7 70.7h0M223.3 74.3h0M233.8 72.6h0M238.1 74.7h0M234.1 67.4h0M231.3 74.0h0M236.3 71.6h0M238.9 74.7h0M238.9 75.5h0M240.2 70.1h0M235.7 74.0h0M238.7 77.3h0M235.9 75.7h0M235.1 67.3h0M237.3 75.5h0M238.0 72.7h0M233.7 73.3h0M236.8 71.0h0M242.5 71.4h0M237.3 70.8h0M236.8 69.7h0M240.4 74.9h0M232.4 74.9h0M237.3 76.9h0M231.0 78.0h0M238.7 75.7h0M231.4 68.5h0M238.7 70.2h0M231.6 69.0h0M233.1 73.8h0M239.6 66.3h0M236.8 74.1h0M240.2 74.4h0M235.3 73.6h0M239.4 74.3h0M236.9 74.1h0M235.7 73.2h0M234.4 73.2h0M232.7 73.1h0M234.2 72.8h0M236.3 76.0h0M235.7 72.9h0M230.6 72.0h0M241.2 71.9h0M233.4 68.8h0M230.6 74.8h0M231.9 75.2h0M240.3 74.1h0M223.4 72.3h0M240.8 73.4h0M239.5 73.4h0M242.3 77.8h0M230.4 72.8h0M238.5 78.7h0M240.2 73.6h0M242.3 81.6h0M241.0 76.3h0M235.3 70.6h0M237.4 69.3h0M232.8 73.1h0M235.1 75.8h0M239.2 67.4h0M239.5 72.0h0M237.9 69.9h0M239.1 76.1h0M238.6 69.1h0M237.5 69.7h0M237.6 67.2h0M239.7 71.6h0M236.4 70.6h0M236.7 77.5h0M239.8 77.1h0M238.1 71.3h0M222.9 66.8h0M234.3 70.8h0M235.6 72.0h0M240.5 78.6h0M232.6 68.2h0M234.5 71.2h0M230.1 75.0h0M227.4 71.1h0M236.4 72.4h0M240.8 74.5h0M241.3 67.9h0M230.7 66.6h0M241.6 74.4h0M236.0 72.0h0M236.0 66.2h0M241.3 72.9h0M236.9 72.4h0M236.7 71.4h0M230.7 73.3h0M238.5 77.0h0M240.3 74.0h0M238.4 72.2h0M234.4 68.2h0M240.8 71.4h0M233.6 73.8h0M242.1 81.5h0M230.4 71.3h0M241.7 76.5h0M239.3 73.6h0M238.5 76.4h0M241.3 73.2h0M242.4 69.6h0M238.3 72.8h0M240.0 68.4h0M229.6 72.2h0M234.4 72.4h0M242.4 73.3h0M233.9 74.7h0M230.0 71.6h0M235.8 70.5h0M231.7 70.7h0M233.0 72.0h0M241.6 74.9h0M240.5 74.8h0M221.3 71.6h0M237.1 71.4h0M237.3 75.4h0M235.1 73.8h0M242.5 74.7h0M233.7 69.7h0M224.9 71.5h0M232.4 72.8h0M237.1 69.4h0M233.6 75.2h0M229.8 71.7h0M235.7 72.6h0M239.3 75.5h0M237.6 66.9h0M231.9 72.6h0M224.8 74.0h0M231.4 72.2h0M235.2 67.5h0M232.7 72.7h0M239.3 71.6h0M233.9 77.6h0M235.5 78.2h0M239.1 75.2h0M239.9 75.9h0M238.5 66.8h0M232.3 68.2h0M228.2 76.2h0M241.5 75.6h0M241.5 69.6h0M238.9 82.0h0M235.9 74.1h0M237.7 74.3h0M240.6 79.5h0M225.4 74.6h0M233.7 75.4h0M234.0 71.0h0M241.4 73.5h0M239.2 75.5h0M232.3 76.8h0M235.6 76.3h0M236.1 70.9h0M241.2 69.8h0M232.6 79.1h0M231.6 66.6h0M242.1 75.1h0M235.7 70.9h0M231.4 72.9h0M231.6 73.2h0M237.9 75.5h0M240.4 69.9h0M238.3 70.7h0M239.7 73.1h0M233.6 69.9h0M232.9 71.1h0M238.6 70.1h0M240.9 74.1h0M230.0 70.4h0M238.6 77.1h0M229.4 77.6h0M241.6 75.1h0M218.7 73.4h0M234.3 73.2h0M238.2 74.3h0M242.3 70.9h0M236.7 68.5h0M237.3 75.8h0M238.9 77.7h0M236.3 76.2h0M235.5 72.4h0M223.8 70.3h0M239.5 74.2h0M242.1 72.9h0M235.9 76.0h0M242.2 71.6h0M229.4 74.3h0M231.1 70.0h0M234.6 76.6h0M239.3 72.8h0M236.9 73.1h0M235.3 72.7h0M230.3 72.0h0M231.3 64.7h0M241.6 72.1h0M240.1 67.8h0M232.1 72.7h0M228.3 68.4h0M237.5 68.0h0M236.4 76.2h0M233.9 70.4h0M233.2 71.9h0M233.8 74.9h0M234.7 68.1h0M231.7 71.6h0M229.2 67.7h0M231.0 69.8h0M237.7 75.7h0M235.7 80.1h0M233.2 76.3h0M230.3 70.6h0M239.5 68.5h0M222.3 73.3h0M233.0 68.8h0M238.5 75.7h0M234.9 74.3h0M223.2 65.8h0M242.2 67.7h0M232.0 70.0h0M235.7 77.9h0M237.8 77.2h0M237.9 68.7h0M231.3 73.8h0M241.1 73.9h0M239.0 76.0h0M235.9 80.2h0M236.9 69.4h0M231.3 73.0h0M242.0 70.3h0M235.4 67.8h0M235.2 72.1h0M232.9 74.7h0M220.5 72.7h0M225.0 74.7h0M232.1 68.6h0M242.4 72.8h0M234.8 77.1h0M240.7 76.2h0M237.2 70.5h0M236.8 73.3h0M232.0 69.5h0M241.0 71.7h0M238.0 71.5h0M239.8 72.7h0M240.6 78.3h0M237.4 69.8h0M237.5 73.9h0M240.2 69.1h0M236.4 75.6h0M240.9 75.1h0M233.0 72.2h0M228.1 70.1h0M230.8 74.1h0M242.1 74.0h0M239.4 69.5h0M234.6 70.2h0M228.1 69.7h0M240.6 71.2h0M236.9 75.2h0M238.8 70.6h0M239.2 68.8h0M230.6 73.4h0M239.4 73.0h0M227.9 65.2h0M228.7 75.5h0M240.5 73.1h0M240.1 71.5h0M233.5 76.7h0M235.1 70.0h0M236.2 69.4h0M234.6 70.7h0M238.0 70.9h0M237.9 72.8h0M235.1 69.3h0M237.7 71.8h0M241.7 76.5h0M233.0 72.8h0M231.9 75.5h0M235.6 76.2h0M233.1 71.1h0M231.5 72.5h0M231.0 73.0h0M240.9 79.8h0M238.2 72.7h0M237.5 72.5h0M240.3 77.6h0M237.2 71.3h0M234.4 77.0h0M237.8 76.5h0M232.1 70.3h0M241.9 72.8h0M233.0 72.9h0M242.5 76.6h0M240.3 73.7h0M239.0 73.5h0M241.4 71.4h0M236.2 74.2h0M225.3 74.3h0M229.0 70.2h0M231.6 74.6h0M241.0 70.8h0M239.3 70.3h0M232.9 73.4h0M230.8 74.3h0M242.1 73.6h0M235.8 74.7h0M230.7 65.9h0M235.5 73.5h0M235.0 74.7h0M241.7 78.1h0M238.1 74.3h0M240.5 72.1h0M241.4 73.4h0M223.6 70.2h0M236.1 71.0h0M239.7 75.2h0M232.7 75.7h0M239.6 73.9h0M232.7 73.7h0M240.0 75.6h0M237.2 75.1h0M222.8 71.1h0M238.3 71.0h0M241.4 73.0h0M238.4 70.9h0M234.0 74.9h0M236.6 76.5h0M232.7 70.2h0M239.3 73.3h0M236.4 71.6h0M227.3 75.5h0M240.9 70.5h0M228.1 72.0h0M234.1 73.7h0M241.4 69.4h0M241.7 73.4h0M227.1 70.7h0M231.0 75.7h0M238.6 78.1h0M240.1 72.2h0M239.4 73.3h0M242.1 75.9h0M239.5 73.0h0M242.5 77.2h0M239.4 73.9h0M241.6 72.2h0M239.0 72.1h0M240.5 69.6h0M239.7 72.0h0M232.5 73.2h0M242.4 70.8h0M232.3 72.7h0M236.4 73.0h0M235.2 74.2h0M237.6 72.9h0M232.4 70.3h0M240.9 74.3h0M231.2 69.3h0M231.7 69.2h0M239.4 74.0h0M237.0 70.8h0M238.0 78.5h0M233.9 79.1h0M240.3 70.9h0M237.3 79.1h0M232.9 69.6h0M227.2 74.8h0M229.8 78.5h0M241.6 71.4h0M235.2 73.6h0M238.4 74.4h0M234.8 74.6h0M234.5 69.2h0M240.3 70.6h0M237.6 70.5h0M236.7 74.9h0M240.3 75.2h0M233.1 73.6h0M238.3 73.3h0M235.2 64.0h0M236.6 74.0h0M237.1 75.3h0M228.8 71.6h0M233.5 71.5h0M234.0 71.3h0M237.7 76.6h0M236.7 74.7h0M241.1 81.3h0M240.3 69.7h0M235.9 79.3h0M235.3 83.4h0M233.9 87.7h0M236.6 84.7h0M239.3 81.7h0M232.6 79.6h0M234.1 83.5h0M234.5 85.0h0M235.6 86.3h0M235.2 83.1h0M238.9 79.7h0M241.5 87.8h0M236.1 78.0h0M234.3 82.8h0M238.9 76.8h0M238.5 81.0h0M236.7 80.0h0M237.3 81.0h0M235.5 82.6h0M234.9 86.0h0M235.0 85.1h0M235.4 84.2h0M233.3 81.1h0M237.8 76.8h0M231.2 87.1h0M234.6 85.2h0M237.2 85.2h0M235.1 79.7h0M236.6 87.8h0M239.4 74.4h0M239.9 82.8h0M240.4 82.5h0M236.2 81.3h0M240.3 81.8h0M236.3 87.0h0M237.5 85.9h0M236.8 87.0h0M234.9 85.6h0M235.4 86.2h0M240.1 79.5h0M236.2 85.8h0M239.8 83.1h0M238.5 78.7h0M236.0 80.7h0M238.2 83.7h0M236.6 84.4h0M228.6 83.6h0M241.1 78.7h0M239.2 84.4h0M235.2 85.2h0M238.2 79.5h0M232.3 79.8h0M239.3 79.5h0M233.9 81.5h0M237.8 86.8h0M234.2 74.6h0M235.4 83.9h0M232.2 84.4h0M240.4 80.9h0M234.9 82.1h0M237.9 80.2h0M234.6 80.9h0M235.4 84.0h0M234.9 85.0h0M238.2 88.3h0M237.5 72.8h0M234.8 83.2h0M236.9 76.9h0M233.5 80.3h0M236.8 75.5h0M236.5 75.4h0M234.6 81.0h0M234.3 84.3h0M233.9 83.6h0M240.9 84.1h0M237.8 82.2h0M237.8 84.8h0M238.5 81.9h0M232.2 82.1h0M238.4 82.1h0M237.8 82.2h0M235.8 78.6h0M240.5 83.3h0M239.0 86.0h0M240.1 85.1h0M237.1 79.0h0M235.8 82.1h0M239.5 84.1h0M237.9 78.5h0M237.6 84.9h0M236.0 83.1h0M237.1 80.1h0M233.2 82.5h0M237.5 77.1h0M233.4 85.3h0M239.2 82.4h0M239.7 82.4h0M235.4 82.4h0M240.0 79.8h0M237.5 81.8h0M239.6 80.1h0M237.6 79.8h0M237.3 86.1h0M239.2 78.1h0M240.4 82.5h0M234.1 80.9h0M235.6 88.6h0M237.4 84.9h0M237.2 83.9h0M239.0 79.3h0M238.2 78.2h0M235.7 74.2h0M232.8 79.7h0M239.5 83.6h0M237.3 86.3h0M235.9 81.3h0M233.9 88.9h0M236.1 85.1h0M242.4 82.6h0M242.3 86.3h0M242.5 78.2h0M239.7 81.4h0M242.6 84.4h0M241.4 83.3h0M241.8 81.3h0M241.4 86.3h0" stroke="#8e8e8e" stroke-width="1.1" stroke-linecap="round" fill="none" opacity="0.9"/>
<path d="M243.8 75.6h0M246.9 71.6h0M252.9 76.1h0M244.4 73.5h0M257.1 76.0h0M242.9 77.9h0M248.8 76.2h0M243.5 75.8h0M243.8 74.4h0M245.3 72.4h0M247.5 75.7h0M243.7 71.0h0M248.3 75.6h0M243.1 77.3h0M252.1 69.9h0M244.5 72.1h0M244.4 75.0h0M247.0 77.5h0M242.7 67.1h0M243.8 76.8h0M252.4 73.4h0M246.4 74.9h0M250.6 74.3h0M246.2 73.8h0M244.5 72.5h0M247.5 78.1h0M242.9 76.9h0M245.2 72.2h0M249.9 75.1h0M246.3 71.9h0M245.7 73.6h0M245.1 76.7h0M244.3 74.5h0M244.5 73.9h0M246.5 76.4h0M245.5 77.9h0M244.1 75.2h0M253.8 76.4h0M243.4 72.4h0M242.7 77.7h0M244.4 75.3h0M244.9 74.9h0M244.9 74.9h0M250.7 76.8h0M245.4 71.4h0M243.0 71.5h0M242.7 77.2h0M251.2 72.3h0M246.2 77.7h0M248.4 75.3h0M247.5 78.2h0M243.4 73.8h0M246.3 74.4h0M245.3 75.1h0M246.3 74.5h0M250.8 73.1h0M243.7 75.1h0M243.4 69.9h0M251.9 75.6h0M249.3 71.9h0M248.6 75.4h0M252.3 75.3h0M247.2 70.4h0M248.3 77.7h0M245.5 72.0h0M247.7 71.1h0M243.3 75.7h0M249.3 77.3h0M244.9 73.7h0M246.2 75.3h0M245.1 72.1h0M243.9 70.3h0M246.5 75.3h0M243.1 75.5h0M246.0 75.5h0M242.6 73.0h0M244.3 71.3h0M243.9 72.8h0M251.4 72.9h0M244.5 73.9h0M242.8 76.5h0M243.8 70.0h0M248.8 74.7h0M245.4 75.4h0M244.0 69.4h0M243.6 73.8h0M255.9 75.1h0M245.0 75.5h0M243.4 75.5h0M248.2 75.2h0M243.2 73.7h0M243.4 69.8h0M244.0 76.2h0M243.8 70.4h0M245.0 74.5h0M249.1 69.2h0M246.3 69.6h0M245.8 70.5h0M251.7 75.7h0M245.6 75.3h0M246.5 73.0h0M246.4 71.4h0M243.1 71.4h0M246.4 77.7h0M250.2 73.7h0M247.5 78.1h0M243.8 76.7h0M245.7 76.3h0M252.0 70.6h0M242.8 68.2h0M244.7 73.8h0M249.4 72.0h0M242.9 73.3h0M247.1 71.6h0M242.8 70.1h0M243.5 72.9h0M256.9 73.7h0M245.9 74.8h0M243.7 73.3h0M243.1 77.0h0M242.9 76.1h0M246.7 74.6h0M243.0 75.1h0M248.4 71.6h0M246.1 73.7h0M242.8 74.3h0M243.3 72.9h0M243.4 72.9h0M244.4 73.0h0M243.3 73.6h0M243.8 76.5h0M247.3 76.3h0M245.3 74.2h0M243.1 74.5h0M248.5 75.9h0M245.2 71.5h0M242.8 71.8h0M244.1 69.1h0M246.7 73.1h0M243.7 74.4h0M244.9 72.9h0M243.6 75.0h0M244.8 74.0h0M251.3 69.6h0M242.8 74.8h0M243.1 77.2h0M246.3 70.7h0M250.3 68.5h0M248.1 76.8h0M244.3 77.5h0M244.6 72.5h0M244.1 78.1h0M243.2 73.4h0M253.5 71.5h0M244.7 77.5h0M245.4 75.8h0M246.9 74.6h0M243.0 70.7h0M243.2 75.2h0M248.0 71.0h0M242.7 72.5h0M246.1 73.8h0M253.6 76.9h0M243.8 74.2h0M243.9 72.8h0M242.8 71.7h0M249.4 74.2h0M249.6 77.0h0M243.3 73.6h0M245.8 71.0h0M243.3 71.3h0M244.9 74.9h0M244.1 69.6h0M243.8 73.2h0M247.9 70.3h0M245.1 75.5h0M248.5 73.0h0M244.6 72.8h0M243.9 73.9h0M252.3 70.9h0M247.2 72.8h0M245.7 73.1h0M246.9 76.5h0M246.2 70.7h0M246.4 70.2h0M245.5 71.3h0M243.1 74.3h0M248.0 72.5h0M243.4 75.8h0M246.8 73.5h0M247.4 76.1h0M246.8 75.9h0M250.8 72.7h0M244.5 75.4h0M248.6 70.2h0M243.0 74.1h0M245.4 73.6h0M246.8 74.9h0M244.2 78.2h0M245.3 74.9h0M252.7 78.3h0M250.6 77.0h0M244.7 73.8h0M247.9 74.1h0M246.7 72.1h0M244.8 73.9h0M251.0 76.7h0M243.8 70.4h0M243.7 70.7h0M244.9 77.4h0M244.1 75.1h0M243.1 71.5h0M244.1 75.7h0M243.1 67.4h0M242.9 73.7h0M243.7 76.7h0M248.4 77.0h0M245.2 71.7h0M244.8 74.2h0M243.7 72.2h0M242.6 74.4h0M250.8 75.9h0M244.9 73.7h0M245.6 76.1h0M245.9 72.6h0M250.7 69.7h0M244.7 77.9h0M245.7 75.5h0M247.7 75.8h0M249.3 73.5h0M245.9 75.7h0M246.7 73.1h0M243.2 72.7h0M248.9 76.4h0M242.6 76.2h0M248.1 75.4h0M244.0 73.8h0M245.1 72.8h0M244.7 76.9h0M246.8 68.3h0M245.5 76.6h0M246.6 73.1h0M248.3 72.5h0M246.9 73.9h0M245.4 77.5h0M247.5 77.4h0M245.1 74.9h0M245.0 76.8h0M246.8 72.3h0M248.1 73.5h0M245.5 76.5h0M243.0 77.8h0M246.6 75.0h0M244.3 72.9h0M243.6 74.3h0M248.2 71.9h0M248.3 72.9h0M243.9 76.6h0M243.9 78.1h0M250.3 69.6h0M250.0 76.5h0M249.1 74.8h0M243.2 74.0h0M244.9 72.5h0M247.6 67.7h0M246.3 74.8h0M244.5 67.0h0M257.2 72.3h0M245.1 75.0h0M244.2 71.3h0M248.9 75.9h0M242.9 76.5h0M253.6 74.8h0M243.2 62.6h0M251.2 75.0h0M244.3 75.8h0M247.3 71.0h0M244.5 72.5h0M244.7 63.3h0M245.0 72.0h0M246.7 68.7h0M253.2 72.3h0M246.9 77.2h0M247.2 69.7h0M244.2 64.9h0M242.8 67.9h0M247.1 70.5h0M243.7 73.4h0M245.1 70.6h0M244.3 75.4h0M243.1 76.7h0M250.4 62.4h0M254.8 61.7h0M242.6 75.4h0M252.0 67.4h0M248.5 72.3h0M246.0 78.0h0M242.8 77.7h0M249.6 75.5h0M257.8 64.3h0M245.1 76.0h0M245.5 76.4h0M261.2 54.2h0M246.0 73.1h0M251.5 66.8h0M252.0 70.9h0M269.5 51.1h0M248.5 70.0h0M245.4 73.6h0M252.7 64.2h0M250.1 66.4h0M251.8 66.2h0M253.7 64.6h0M246.0 71.5h0M243.8 73.8h0M254.5 73.5h0M250.6 74.1h0M255.3 68.0h0M254.1 63.5h0M247.8 66.2h0M248.5 71.2h0M253.8 62.1h0M266.0 51.6h0M247.4 68.8h0M265.9 50.0h0M256.3 59.5h0M256.9 59.1h0M253.8 60.0h0M248.8 70.9h0M257.2 52.5h0M254.9 57.4h0M256.1 56.9h0M245.9 75.1h0M250.3 65.6h0M253.0 68.0h0M248.0 61.7h0M259.1 65.6h0M253.0 65.0h0M249.6 69.5h0M254.2 64.3h0M249.5 62.1h0M244.5 72.2h0M245.6 69.3h0M260.1 57.1h0M249.4 68.0h0M247.5 75.5h0M246.8 75.2h0M246.6 70.7h0M243.7 74.2h0M260.4 49.7h0M251.3 66.2h0M278.0 52.2h0M258.7 57.2h0M247.4 67.0h0M255.5 64.0h0M253.0 68.7h0M246.9 74.0h0M273.7 44.8h0M255.9 62.3h0M254.5 58.3h0M253.1 64.0h0M257.4 61.7h0M258.3 65.5h0M251.9 67.4h0M248.3 67.8h0M251.5 67.7h0M255.1 61.9h0M255.6 62.0h0M250.3 72.2h0M253.8 63.1h0M247.4 70.3h0M244.3 76.0h0M253.4 59.8h0M257.5 65.2h0M261.5 56.8h0M259.9 59.9h0M259.1 57.2h0M257.0 62.4h0M246.3 76.2h0M253.0 64.9h0M254.0 65.0h0M244.2 75.8h0M248.3 71.0h0M248.2 74.7h0M266.7 48.0h0M271.8 39.0h0M251.2 64.2h0M248.1 74.8h0M253.8 62.6h0M260.3 58.0h0M249.7 68.4h0M253.2 63.4h0M262.1 58.5h0M243.6 74.1h0M249.5 69.6h0M250.0 72.7h0M257.3 62.6h0M253.0 64.6h0M250.8 65.9h0M245.5 70.9h0M247.1 75.9h0M272.2 47.8h0M247.9 71.4h0M244.0 76.4h0M259.1 55.7h0M248.6 72.8h0" stroke="#5cbcf0" stroke-width="1.1" stroke-linecap="round" fill="none" opacity="0.85"/>
<path d="M243.9 79.0h0M243.2 81.0h0M245.0 79.5h0M243.0 79.8h0M247.5 82.1h0M250.0 78.3h0M244.4 78.4h0M244.1 79.5h0M244.1 78.6h0M253.2 80.3h0M244.0 79.0h0M250.8 79.1h0M252.6 78.5h0M251.8 81.8h0M243.0 78.5h0M244.0 78.7h0M243.1 78.6h0M253.9 79.0h0M250.3 82.1h0M242.6 78.4h0M245.3 78.5h0M242.8 79.1h0M249.4 79.1h0M247.8 80.3h0M248.6 78.7h0M245.2 78.7h0M246.5 79.8h0M247.9 80.0h0M253.0 80.1h0M242.9 78.6h0M243.3 78.6h0M242.8 79.0h0M247.4 79.5h0M242.8 79.3h0M246.7 78.5h0M245.5 78.4h0M251.1 81.2h0M248.6 81.5h0M246.4 79.8h0M246.1 80.2h0M247.3 78.8h0M244.8 78.8h0M252.9 79.9h0M244.5 78.4h0M244.0 78.7h0M243.8 82.0h0M244.5 80.2h0M246.3 79.3h0M246.2 82.9h0M248.9 83.6h0M246.7 86.3h0M247.4 83.5h0M252.2 82.3h0M244.1 79.7h0M247.2 82.8h0M250.3 80.8h0M251.9 85.5h0M245.1 83.5h0M246.8 86.5h0M247.1 87.1h0M244.8 84.0h0M247.0 82.4h0M244.3 82.3h0M247.1 83.5h0M246.4 84.7h0M251.1 79.5h0M247.0 79.6h0M243.9 84.7h0M245.4 82.1h0M245.4 85.8h0M248.8 82.0h0M245.0 84.6h0M245.8 83.2h0M245.3 83.4h0M248.4 80.8h0M244.5 83.7h0M244.3 84.5h0M246.0 84.2h0M247.9 85.8h0M247.3 81.3h0M245.4 84.2h0M247.9 84.3h0M245.4 82.7h0M246.9 81.7h0M247.5 81.8h0M244.7 84.5h0M250.4 82.5h0M249.6 87.0h0M247.4 84.8h0M244.9 79.8h0M243.5 85.9h0M244.4 83.9h0M246.4 82.1h0M249.6 82.0h0M251.0 80.4h0M247.7 83.7h0M250.0 84.1h0M248.9 83.2h0M244.8 81.5h0M248.1 82.4h0M249.2 83.0h0M244.3 83.1h0M251.3 85.9h0M243.6 79.6h0M246.7 85.8h0M246.1 85.9h0M247.6 80.7h0M249.5 80.4h0M246.2 80.0h0M247.6 86.8h0M249.9 85.7h0M244.7 87.5h0M244.1 89.1h0M243.0 85.6h0M243.1 84.3h0M248.4 84.1h0M247.4 80.2h0M244.7 79.2h0M246.2 83.4h0M247.2 79.6h0M243.1 80.7h0M245.0 83.0h0M243.6 90.2h0M249.4 81.2h0M243.5 85.8h0M243.1 83.4h0M251.7 83.7h0M243.9 87.6h0M247.3 83.3h0M246.7 81.3h0M248.8 89.0h0M246.7 80.1h0M249.6 86.1h0M247.3 83.8h0M248.5 83.8h0M242.9 86.3h0M245.7 81.0h0M250.2 86.0h0M247.5 83.5h0M243.2 86.5h0" stroke="#f6c570" stroke-width="1.1" stroke-linecap="round" fill="none" opacity="0.85"/>
<rect x="191.30" y="22.50" width="91.70" height="83.10" fill="none" stroke="#231f20" stroke-width="1.2"/>
<line x1="242.60" y1="22.50" x2="242.60" y2="105.60" stroke="#111" stroke-width="1.0" stroke-dasharray="4.3 3.8" stroke-dashoffset="2"/>
<line x1="191.30" y1="78.30" x2="283.00" y2="78.30" stroke="#111" stroke-width="1.0" stroke-dasharray="4.3 3.8" stroke-dashoffset="1.1"/>
<line x1="196.60" y1="105.60" x2="196.60" y2="108.10" stroke="#231f20" stroke-width="0.8"/>
<text x="196.60" y="117.80" font-size="6.4" fill="#231f20" text-anchor="middle">−2</text>
<line x1="217.30" y1="105.60" x2="217.30" y2="108.10" stroke="#231f20" stroke-width="0.8"/>
<text x="217.30" y="117.80" font-size="6.4" fill="#231f20" text-anchor="middle">−1</text>
<line x1="238.00" y1="105.60" x2="238.00" y2="108.10" stroke="#231f20" stroke-width="0.8"/>
<text x="238.00" y="117.80" font-size="6.4" fill="#231f20" text-anchor="middle">0</text>
<line x1="258.70" y1="105.60" x2="258.70" y2="108.10" stroke="#231f20" stroke-width="0.8"/>
<text x="258.70" y="117.80" font-size="6.4" fill="#231f20" text-anchor="middle">1</text>
<line x1="279.40" y1="105.60" x2="279.40" y2="108.10" stroke="#231f20" stroke-width="0.8"/>
<text x="279.40" y="117.80" font-size="6.4" fill="#231f20" text-anchor="middle">2</text>
<line x1="188.80" y1="47.00" x2="191.30" y2="47.00" stroke="#231f20" stroke-width="0.8"/>
<text x="187.30" y="49.20" font-size="6.4" fill="#231f20" text-anchor="end">2</text>
<line x1="188.80" y1="74.70" x2="191.30" y2="74.70" stroke="#231f20" stroke-width="0.8"/>
<text x="187.30" y="76.90" font-size="6.4" fill="#231f20" text-anchor="end">0</text>
<line x1="188.80" y1="102.40" x2="191.30" y2="102.40" stroke="#231f20" stroke-width="0.8"/>
<text x="187.30" y="104.60" font-size="6.4" fill="#231f20" text-anchor="end">−2</text>
<path d="M196.0 26.6h0" stroke="#8f8f8f" stroke-width="1.6" stroke-linecap="round" fill="none" opacity="1.0"/>
<path d="M196.0 33.3h0" stroke="#f3b24a" stroke-width="1.6" stroke-linecap="round" fill="none" opacity="1.0"/>
<path d="M196.0 40.2h0" stroke="#5aaee8" stroke-width="1.6" stroke-linecap="round" fill="none" opacity="1.0"/>
<text x="199.00" y="28.30" font-size="5.0" fill="#444">n.s.</text>
<text x="199.00" y="35.00" font-size="5.0" fill="#444" textLength="41" lengthAdjust="spacingAndGlyphs">High in HD HSPC</text>
<text x="199.00" y="41.90" font-size="5.0" fill="#444" textLength="20" lengthAdjust="spacingAndGlyphs">Selected</text>
<text x="255.50" y="30.00" font-size="5.2" fill="#231f20" font-style="italic" textLength="19" lengthAdjust="spacingAndGlyphs">PLCG2</text>
<line x1="255.00" y1="28.50" x2="254.00" y2="29.50" stroke="#222" stroke-width="0.5"/>
<path d="M254.0 29.5h0" stroke="#222" stroke-width="1.2" stroke-linecap="round" fill="none" opacity="1.0"/>
<text x="266.00" y="48.30" font-size="5.2" fill="#231f20" font-style="italic" textLength="13.5" lengthAdjust="spacingAndGlyphs">CD99</text>
<line x1="265.50" y1="48.00" x2="264.00" y2="51.00" stroke="#222" stroke-width="0.5"/>
<path d="M264.0 51.0h0" stroke="#222" stroke-width="1.2" stroke-linecap="round" fill="none" opacity="1.0"/>
<text x="258.60" y="53.90" font-size="5.2" fill="#231f20" font-style="italic" textLength="13" lengthAdjust="spacingAndGlyphs">CD44</text>
<line x1="258.00" y1="53.00" x2="255.50" y2="55.00" stroke="#222" stroke-width="0.5"/>
<path d="M255.5 55.0h0" stroke="#222" stroke-width="1.2" stroke-linecap="round" fill="none" opacity="1.0"/>
<text x="259.50" y="58.60" font-size="5.2" fill="#231f20" font-style="italic" textLength="13" lengthAdjust="spacingAndGlyphs">CD47</text>
<line x1="259.00" y1="57.50" x2="256.00" y2="59.00" stroke="#222" stroke-width="0.5"/>
<path d="M256.0 59.0h0" stroke="#222" stroke-width="1.2" stroke-linecap="round" fill="none" opacity="1.0"/>
<text x="291.50" y="15.80" font-size="10.2" fill="#000" font-weight="bold" stroke="#000" stroke-width="0.35">C</text>
<text x="352.00" y="17.40" font-size="8.2" fill="#231f20" text-anchor="middle">B-ALL</text>
<path d="M349.7 97.5h0M376.1 74.4h0M324.2 61.6h0M360.0 37.5h0M311.1 41.9h0M355.6 51.1h0M315.2 78.1h0M378.8 78.7h0M362.6 80.2h0M374.3 89.5h0M319.3 48.2h0M318.2 70.1h0M351.4 81.1h0M335.6 79.6h0M388.5 57.2h0M338.5 34.0h0M312.3 37.9h0M375.5 32.9h0M316.4 53.6h0M366.9 57.2h0M323.4 44.6h0M330.2 84.5h0M363.5 50.1h0M363.5 77.9h0M367.6 73.2h0M321.6 97.1h0M350.8 87.2h0M350.0 59.4h0M317.8 90.5h0M356.6 56.9h0M322.0 61.2h0M368.0 40.4h0M308.1 89.4h0M390.6 97.0h0M311.3 75.8h0M313.2 42.9h0M379.6 71.9h0M357.2 64.3h0M344.0 38.5h0M321.4 90.3h0M372.8 43.9h0M371.3 56.6h0M375.4 61.9h0M331.2 102.6h0M358.7 71.1h0M389.4 38.7h0M376.4 84.5h0M348.7 95.3h0M390.9 99.8h0M359.6 60.3h0M323.1 53.4h0M337.7 88.5h0M353.1 74.5h0M390.1 55.8h0M323.6 96.6h0M353.8 81.6h0M333.3 67.4h0M379.9 63.0h0M363.1 53.6h0M371.2 71.7h0M336.3 46.6h0M315.2 40.4h0M355.6 98.1h0M357.7 104.0h0M372.3 45.1h0M387.5 58.2h0M315.9 100.6h0M348.9 98.9h0M323.6 93.4h0M331.0 57.4h0M343.8 79.6h0M396.0 55.2h0M370.0 80.4h0M346.4 101.0h0M339.4 34.5h0M354.8 58.2h0M380.2 58.7h0M341.3 53.5h0M321.9 96.0h0M377.7 68.2h0M317.1 81.3h0M328.7 48.1h0M331.9 68.4h0M339.8 54.4h0M370.2 103.5h0M338.6 38.8h0M325.7 34.5h0M308.6 64.7h0M367.9 100.3h0M333.4 74.2h0" stroke="#c4c4c4" stroke-width="0.9" stroke-linecap="round" fill="none" opacity="0.9"/>
<path d="M338.9 58.2h0M333.4 67.2h0M350.4 65.8h0M339.5 78.0h0M341.0 70.6h0M345.9 68.1h0M335.9 75.9h0M339.1 68.4h0M345.8 66.4h0M339.1 65.1h0M355.5 77.5h0M356.4 66.2h0M334.3 75.9h0M336.8 65.6h0M342.5 73.8h0M339.4 64.0h0M341.6 65.0h0M338.3 68.9h0M354.3 85.7h0M336.8 65.7h0M326.1 78.6h0M335.4 72.9h0M334.3 72.8h0M342.1 68.9h0M346.8 72.7h0M344.1 73.5h0M338.0 70.6h0M332.4 62.5h0M335.5 60.7h0M356.0 66.7h0M342.0 78.2h0M338.3 75.2h0M325.4 73.4h0M338.9 68.6h0M342.9 65.4h0M343.1 75.6h0M332.9 64.6h0M346.8 65.0h0M329.0 78.4h0M325.3 56.8h0M334.9 64.0h0M346.3 69.4h0M342.3 71.3h0M337.8 75.9h0M343.0 70.1h0M351.6 68.7h0M344.1 67.4h0M346.2 56.0h0M350.1 62.3h0M333.5 76.7h0M333.1 66.8h0M335.3 71.3h0M343.6 69.2h0M346.9 73.2h0M345.9 82.3h0M341.2 68.3h0M351.4 62.3h0M333.6 55.1h0M336.3 79.2h0M341.9 68.7h0M339.4 79.5h0M355.2 67.2h0M337.9 75.6h0M342.2 69.1h0M332.1 56.4h0M321.8 56.6h0M343.0 53.2h0M332.9 75.1h0M348.5 54.6h0M350.6 64.6h0M347.5 65.9h0M351.3 76.7h0M339.3 72.1h0M352.5 76.2h0M338.3 76.0h0M340.1 56.9h0M331.7 68.8h0M344.8 75.4h0M320.0 77.4h0M344.7 62.4h0M354.9 65.4h0M341.7 67.7h0M339.3 78.9h0M331.3 68.5h0M342.1 65.9h0M328.4 69.2h0M334.3 62.4h0M337.8 63.8h0M333.0 72.5h0M351.9 73.8h0M336.6 70.9h0M346.0 62.2h0M341.5 67.5h0M339.0 66.9h0M344.3 81.4h0M336.4 70.4h0M339.2 76.5h0M333.2 61.2h0M335.6 76.8h0M345.3 64.2h0M351.4 75.2h0M327.1 54.6h0M344.8 70.7h0M322.8 66.8h0M338.7 71.0h0M345.4 72.8h0M346.6 74.0h0M339.1 73.1h0M335.9 57.8h0M329.9 61.8h0M343.6 71.5h0M335.6 63.3h0M334.3 67.8h0M343.1 71.7h0M326.4 68.0h0M334.7 72.1h0M335.0 86.7h0M334.5 61.1h0M326.8 70.0h0M329.5 76.2h0M345.6 76.8h0M335.0 66.5h0M347.4 72.5h0M348.1 67.1h0M328.0 51.2h0M342.4 74.9h0M351.0 73.4h0M324.6 56.6h0M337.4 71.3h0M344.3 68.3h0M339.2 52.5h0M325.0 70.8h0M343.7 61.2h0M343.2 55.8h0M355.0 68.7h0M350.0 67.4h0M350.9 63.2h0M330.4 65.2h0M343.3 67.6h0M344.9 64.2h0M339.4 61.5h0M317.9 70.7h0M330.8 68.9h0M326.8 62.5h0M336.3 80.7h0M329.0 57.3h0M346.8 68.4h0M335.1 72.0h0M353.7 65.8h0M348.0 74.0h0M343.1 79.2h0M326.8 56.2h0M333.9 56.8h0M342.3 74.1h0M332.3 54.4h0M336.8 66.4h0M331.0 60.2h0M344.1 63.9h0M332.5 74.1h0M341.3 72.4h0M335.3 68.2h0M355.2 74.1h0M338.4 67.5h0M357.1 68.9h0M331.7 74.5h0M334.6 75.9h0M335.4 76.6h0M340.9 64.8h0M331.2 63.9h0M356.4 68.1h0M345.4 73.3h0M349.3 64.0h0M353.4 68.2h0M331.1 68.3h0M347.2 67.1h0M338.6 55.2h0M342.3 66.1h0M334.9 78.0h0M353.5 64.4h0M347.8 70.5h0M329.5 60.6h0M347.3 66.4h0M335.8 59.3h0M331.9 81.4h0M344.6 77.6h0M347.4 64.9h0M337.1 66.6h0M347.8 64.1h0M337.3 72.3h0M349.7 69.8h0M355.7 72.4h0M353.3 64.2h0M337.1 67.1h0M329.2 60.0h0M326.5 56.4h0M339.7 74.2h0M321.6 57.3h0M337.0 70.1h0M336.1 64.6h0M340.4 58.4h0M336.5 47.3h0M330.8 69.3h0M337.6 70.6h0M336.4 75.9h0M337.6 69.3h0M326.8 66.4h0M336.8 60.4h0M343.1 70.4h0M329.7 62.3h0M347.2 63.8h0M350.6 72.1h0M336.5 62.7h0M335.7 60.2h0M334.8 59.7h0M330.8 74.6h0M342.9 73.4h0M350.0 68.2h0M336.0 65.5h0M331.6 66.0h0M334.3 70.9h0M338.6 66.2h0M347.0 62.5h0M353.2 55.1h0M357.2 54.2h0M343.8 76.4h0M331.5 64.0h0M337.0 62.7h0M335.3 61.8h0M344.5 79.1h0M338.4 58.5h0M337.5 64.6h0M341.6 70.7h0M336.4 52.7h0M349.1 71.2h0M351.7 74.8h0M348.1 75.3h0M342.3 81.0h0M320.6 79.0h0M342.6 60.3h0M341.5 67.2h0M326.9 64.0h0M350.2 75.1h0M328.7 74.1h0M341.2 71.7h0M357.3 62.6h0M344.4 63.1h0M339.2 75.4h0M338.4 70.6h0M335.6 65.0h0M338.8 72.7h0M351.6 71.2h0M345.3 74.0h0M357.0 74.7h0M352.4 74.1h0M344.3 75.5h0M337.5 71.5h0M342.4 63.4h0M355.6 76.7h0M352.0 59.6h0M332.5 68.5h0M337.9 65.2h0M341.5 83.6h0M334.0 65.2h0M341.9 65.1h0M342.4 81.1h0M339.2 70.3h0M347.0 77.3h0M345.4 80.9h0M343.3 59.2h0M326.3 66.9h0M335.0 72.1h0M345.2 70.4h0M352.7 70.7h0M343.8 65.3h0M340.6 72.5h0M339.6 62.6h0M349.5 79.3h0M339.3 62.3h0M354.1 76.1h0M341.5 67.2h0M339.7 71.8h0M335.0 74.6h0M350.0 71.4h0M351.2 81.7h0M343.5 64.5h0M322.2 75.6h0M349.7 74.4h0M336.4 70.2h0M341.2 60.9h0M340.3 71.2h0M329.9 71.2h0M356.1 79.9h0M355.9 73.4h0" stroke="#a3a3a3" stroke-width="1.0" stroke-linecap="round" fill="none" opacity="0.9"/>
<path d="M350.7 75.3h0M343.9 72.9h0M345.9 71.3h0M351.0 67.7h0M350.0 66.7h0M351.2 73.6h0M347.4 77.8h0M339.7 67.6h0M347.6 70.2h0M350.4 81.4h0M344.6 76.9h0M354.1 76.9h0M349.2 78.6h0M341.4 71.8h0M347.9 69.6h0M340.0 65.5h0M343.7 72.9h0M346.6 74.1h0M351.0 69.0h0M350.4 77.1h0M350.8 71.9h0M353.3 74.1h0M339.5 71.7h0M346.2 65.8h0M347.7 66.8h0M350.1 80.8h0M348.7 69.6h0M350.7 83.0h0M350.8 77.7h0M336.7 68.8h0M337.5 73.5h0M356.5 63.0h0M354.4 73.8h0M343.0 84.0h0M353.5 89.4h0M332.5 66.7h0M348.8 78.1h0M354.3 76.9h0M349.6 70.8h0M345.2 69.4h0M349.4 70.1h0M345.5 71.1h0M338.9 69.4h0M348.8 66.1h0M353.8 79.5h0M342.3 57.8h0M353.5 87.3h0M346.6 77.0h0M345.1 80.9h0M346.2 74.3h0M347.2 65.5h0M349.8 80.8h0M338.8 69.8h0M355.1 71.0h0M345.3 63.6h0M351.0 77.8h0M351.0 74.6h0M342.3 71.4h0M349.5 65.2h0M342.8 67.6h0M348.8 73.0h0M341.8 60.7h0M356.0 67.5h0M351.3 65.3h0M351.7 68.4h0M346.8 70.1h0M346.9 77.9h0M346.2 77.9h0M342.4 71.1h0M345.3 57.9h0M353.2 80.6h0M350.3 82.4h0M345.2 73.3h0M346.6 66.1h0M344.3 55.1h0M345.8 65.6h0M339.8 61.5h0M341.8 67.1h0M348.7 67.5h0M352.2 72.4h0M347.9 60.1h0M346.1 70.9h0M346.1 70.1h0M343.3 71.7h0M351.6 77.9h0M351.4 77.8h0M356.8 78.4h0M348.0 66.3h0M355.4 67.4h0M356.7 72.0h0M342.1 62.8h0M348.3 69.8h0M356.0 81.4h0M356.3 62.6h0M351.9 76.5h0M356.6 76.3h0M354.7 68.6h0M340.2 65.3h0M340.1 71.5h0M352.2 82.0h0M344.6 72.9h0M350.5 71.6h0M351.3 77.2h0M344.5 67.4h0M343.8 74.5h0M352.7 79.9h0M343.6 62.5h0M348.4 86.1h0M344.4 58.0h0M352.7 70.6h0M350.5 84.9h0M354.3 74.4h0M347.3 81.7h0M345.1 71.1h0M347.2 70.4h0M346.5 65.2h0M352.2 81.9h0M345.2 67.9h0M345.5 62.2h0M345.6 69.2h0M352.1 81.7h0M355.7 78.3h0M344.6 74.4h0M339.0 75.0h0M357.1 78.7h0M347.0 70.5h0M351.9 79.5h0M347.4 70.2h0M354.4 74.7h0M346.7 79.9h0M348.4 68.6h0M347.2 72.8h0M343.1 72.8h0M346.1 71.6h0M354.7 73.3h0M353.8 68.7h0M346.0 62.9h0M348.9 80.8h0M345.2 71.1h0M339.9 53.2h0M348.3 67.3h0M341.8 67.8h0M350.1 78.2h0M350.0 73.6h0M350.7 81.3h0M351.5 76.2h0M343.8 83.0h0M347.5 74.3h0M357.0 70.3h0M350.9 72.6h0M351.4 83.4h0M356.6 79.6h0M344.4 70.1h0M333.0 71.1h0M341.9 78.1h0M351.8 65.0h0M348.6 74.7h0M350.4 76.9h0M349.3 70.7h0M347.2 74.4h0M348.9 72.6h0M352.3 84.2h0M342.2 71.7h0M351.2 82.3h0M355.3 68.2h0M344.3 63.3h0M336.7 66.0h0M339.4 60.5h0M353.2 72.6h0M345.1 77.6h0M350.8 77.3h0M352.2 84.8h0M350.8 71.1h0M335.5 72.5h0M344.4 73.9h0M338.6 66.6h0M341.9 69.3h0M338.0 73.6h0M352.2 85.7h0M348.1 63.9h0M352.8 83.7h0M353.5 70.2h0M346.5 67.8h0M332.7 62.6h0M349.2 75.5h0M348.9 66.8h0M353.6 79.9h0M352.7 68.5h0M348.9 70.9h0M334.4 73.8h0M350.4 83.2h0M353.0 68.7h0M342.7 76.4h0M347.1 70.8h0M352.8 77.1h0M348.4 79.0h0M349.8 78.5h0M353.9 72.1h0M338.9 65.0h0M342.0 63.1h0M342.3 61.6h0M354.2 64.7h0M350.0 73.7h0M355.0 84.6h0M347.9 74.6h0M347.8 82.3h0M338.7 77.4h0M356.4 80.0h0M351.7 75.8h0M346.8 64.1h0M335.1 66.1h0M343.7 75.7h0M339.0 76.5h0M341.4 62.0h0M344.2 73.3h0M347.1 68.5h0M354.0 75.3h0M348.1 69.7h0M343.6 68.8h0M343.3 79.2h0M348.4 69.3h0M345.7 73.4h0M354.8 76.8h0M352.1 77.5h0M355.5 71.9h0M347.3 76.0h0M342.7 84.6h0M352.0 74.9h0M347.7 81.8h0M348.3 77.7h0M341.6 70.2h0M349.9 74.8h0M345.4 66.6h0M349.6 75.9h0M351.5 73.0h0M353.4 71.0h0M352.4 79.0h0M355.6 71.4h0M345.2 63.4h0M348.8 79.2h0M348.0 80.4h0M354.6 84.3h0M356.5 83.1h0M347.5 64.7h0M350.2 83.9h0M347.5 83.3h0M352.0 81.3h0M347.8 73.3h0M339.9 65.6h0M345.1 68.6h0M355.1 82.3h0M349.4 71.3h0M354.2 81.4h0M340.7 72.8h0M350.4 77.9h0M345.4 70.9h0M344.3 73.9h0M349.6 75.9h0M350.4 67.7h0M354.6 76.1h0M353.4 65.0h0M349.5 68.5h0M345.8 74.5h0M349.6 70.5h0M350.5 70.0h0M350.3 74.3h0M345.1 71.2h0M348.8 73.0h0M342.5 61.4h0M354.6 75.1h0M345.9 64.5h0M347.3 73.3h0M351.8 78.0h0M349.3 76.0h0M351.9 72.2h0M352.5 72.5h0M350.4 71.5h0M353.0 81.1h0M342.1 68.2h0M349.5 74.7h0M356.9 75.0h0M355.6 76.4h0M341.1 76.1h0M354.6 76.1h0M346.0 63.4h0M355.7 78.8h0M343.5 79.2h0M354.7 85.5h0M346.5 70.8h0M351.9 85.6h0M347.4 76.6h0M356.6 78.7h0M345.1 60.3h0M349.5 68.5h0M350.4 74.7h0M352.7 79.4h0M341.1 71.8h0M352.1 77.0h0M354.5 72.0h0M349.8 66.8h0M350.8 72.0h0M347.2 72.3h0M348.3 66.2h0M357.3 71.6h0M350.0 74.2h0M350.1 76.8h0M348.6 74.5h0M348.5 86.4h0M348.7 68.8h0M342.8 58.7h0M349.5 76.4h0M356.4 83.0h0M353.8 67.4h0M352.5 74.2h0M344.9 71.1h0M349.9 67.6h0M336.7 61.5h0M342.6 72.4h0M348.2 76.0h0M352.0 84.2h0M351.3 80.2h0M346.7 71.8h0M341.0 65.4h0M343.8 60.8h0M346.7 76.1h0M349.6 73.8h0M343.2 71.8h0M354.7 81.8h0M349.9 69.7h0M350.0 79.0h0M350.1 65.6h0M351.2 67.0h0M346.1 66.4h0M347.3 75.9h0M345.3 63.5h0M351.9 75.6h0M347.3 67.0h0M346.3 64.5h0M350.4 77.0h0M347.7 78.1h0M342.9 71.9h0M346.0 73.1h0M344.6 74.0h0M350.5 81.5h0M334.9 54.1h0M349.3 71.9h0M355.0 69.9h0M356.6 71.9h0M352.9 72.4h0M348.0 72.9h0M329.2 50.8h0M348.1 78.0h0M355.0 80.6h0M350.8 78.9h0M342.4 62.1h0M349.5 82.2h0M352.3 69.5h0M347.2 67.5h0M355.8 70.1h0M352.2 70.2h0M347.3 73.3h0M348.9 83.5h0M348.5 73.6h0M348.3 67.7h0M356.8 76.3h0M344.4 72.9h0M348.8 76.9h0M348.3 69.3h0M349.9 61.4h0M339.7 66.2h0M354.5 82.7h0M339.4 54.5h0M354.0 72.7h0M355.3 82.6h0M342.5 59.5h0M349.3 82.5h0M348.0 62.9h0M342.8 78.4h0M335.9 65.6h0M348.1 76.2h0M345.6 72.4h0M345.2 73.9h0M354.0 75.8h0M351.5 85.4h0M343.6 63.5h0M349.5 67.0h0M340.6 63.8h0M345.5 70.6h0M344.8 75.9h0M342.8 69.8h0M354.4 82.5h0M345.4 76.4h0M344.0 65.8h0M346.2 76.8h0M352.5 73.0h0M350.6 73.0h0M345.4 65.8h0M345.2 69.2h0M349.5 66.4h0M347.8 67.3h0M339.3 66.0h0M349.7 72.7h0M337.5 61.4h0M345.2 74.5h0M357.2 79.3h0M353.8 86.0h0M352.5 73.8h0M350.3 79.3h0M350.6 75.0h0M356.1 80.3h0M339.9 60.9h0M342.8 70.2h0M352.8 65.3h0M351.8 70.3h0M349.7 72.5h0M348.4 70.5h0M343.8 68.3h0M355.1 75.7h0M347.9 67.7h0M344.0 70.9h0M352.9 75.9h0M344.8 76.8h0M348.9 65.0h0M348.4 67.4h0M347.2 71.0h0M350.9 56.5h0M349.5 78.3h0M353.9 75.8h0M351.8 78.7h0M353.7 79.7h0M351.0 76.2h0M344.8 66.6h0M351.1 85.9h0M352.7 70.2h0M349.8 71.2h0M350.4 71.7h0M347.0 65.2h0M355.6 81.7h0M349.2 78.2h0M346.3 65.3h0M349.0 71.4h0M346.8 57.5h0M355.2 74.2h0M349.9 63.0h0M355.4 74.9h0M347.9 78.6h0M356.2 67.1h0M353.7 87.0h0M352.5 79.1h0M344.4 74.6h0M344.1 72.6h0M351.8 78.5h0M346.9 72.2h0M345.5 65.8h0M352.8 68.7h0M341.2 66.9h0M348.2 67.3h0M356.0 79.8h0M340.6 70.4h0M348.9 76.4h0M350.2 80.2h0M351.7 70.0h0M354.3 80.0h0M345.2 74.8h0M348.2 79.6h0M339.1 53.5h0M347.2 71.5h0M349.9 75.7h0M347.7 65.3h0M350.3 67.0h0M342.4 65.8h0M343.9 77.0h0M352.8 73.6h0M352.6 71.2h0M338.2 62.8h0M354.0 67.5h0M347.2 72.4h0M347.5 65.3h0M342.1 82.5h0M350.3 75.0h0M354.5 69.7h0M350.9 66.0h0M341.8 68.6h0M341.6 57.2h0M347.4 66.1h0M351.3 69.8h0M354.3 69.5h0M353.0 74.5h0M352.8 86.1h0M344.0 61.1h0M351.9 82.6h0M342.0 75.3h0M346.7 66.3h0M348.7 68.0h0M341.9 68.8h0M349.7 70.7h0M352.7 74.3h0M353.2 68.2h0M351.5 81.1h0M345.2 75.3h0M357.2 73.2h0M349.2 76.2h0M345.7 62.0h0M347.9 75.5h0M344.6 66.0h0M338.8 69.5h0M352.2 69.9h0M352.0 76.2h0M353.3 65.7h0M344.3 74.5h0M346.9 70.8h0M346.1 74.5h0M336.8 60.0h0M343.2 68.9h0M346.1 66.8h0M342.3 74.9h0M349.3 72.4h0M346.2 68.6h0M346.1 72.9h0M342.5 68.7h0M353.8 76.5h0M348.5 66.8h0M346.6 74.9h0M349.3 63.3h0M346.7 71.6h0M350.5 76.2h0M346.8 64.0h0M339.6 64.0h0M353.8 68.5h0M350.1 70.6h0M345.8 80.6h0M350.0 72.3h0M351.1 66.4h0M350.7 79.3h0M350.3 76.9h0M350.0 81.1h0M354.8 84.9h0M351.5 86.0h0M348.8 71.0h0M353.3 66.4h0M342.3 69.3h0M347.6 71.5h0M355.4 80.1h0M343.2 72.6h0M353.6 80.1h0M339.1 69.1h0M355.2 67.3h0M345.3 74.2h0M352.9 69.2h0M348.8 72.1h0M353.1 84.2h0M356.6 83.4h0M338.5 58.6h0M349.1 68.0h0M340.5 65.6h0M350.4 72.3h0M349.7 73.5h0M348.6 79.2h0M341.9 66.5h0M347.4 76.1h0M339.1 69.4h0M346.7 71.8h0M352.2 71.9h0M347.2 65.2h0M355.4 78.0h0M346.0 64.0h0M352.4 67.9h0M355.0 73.2h0M350.1 72.2h0M349.1 79.9h0M351.9 69.3h0M352.9 78.8h0M347.9 65.1h0M355.0 81.5h0M341.0 66.3h0M340.9 56.3h0M348.3 68.0h0M338.8 65.4h0M350.0 82.1h0M351.4 75.7h0M350.2 69.3h0M351.0 71.4h0M340.2 67.3h0M342.0 66.6h0M344.8 80.5h0M346.9 71.3h0M347.8 68.1h0M352.4 70.8h0M341.9 64.2h0M353.9 76.5h0M347.0 77.3h0M354.4 80.0h0M349.6 81.0h0M347.1 81.4h0M344.1 65.4h0M342.4 75.1h0M344.4 72.9h0M342.1 67.9h0M345.2 66.6h0M350.8 72.8h0M350.2 71.2h0M338.5 54.6h0M338.8 58.4h0M344.0 82.5h0M340.6 79.9h0M349.6 75.3h0M344.4 62.3h0M343.9 70.3h0M341.5 73.0h0M357.3 71.7h0M354.5 75.9h0M355.4 87.2h0M356.2 86.3h0M343.2 67.2h0M342.1 67.4h0M350.0 67.5h0M347.8 71.7h0M347.0 72.4h0M347.0 72.2h0M351.3 67.9h0M349.9 91.3h0M349.9 84.3h0M342.6 65.8h0M334.6 68.3h0M349.4 73.7h0M345.6 79.5h0M344.2 65.8h0M349.2 68.8h0M355.6 83.6h0M351.3 78.7h0M349.0 73.7h0M344.0 69.4h0M343.6 51.9h0M340.1 83.8h0M338.8 59.0h0M341.9 70.7h0M345.8 74.0h0M346.1 73.1h0M350.7 60.4h0M345.7 61.6h0M344.3 61.7h0M350.6 69.6h0M347.2 54.3h0M353.4 78.8h0M353.8 69.0h0M350.1 67.9h0M347.5 67.6h0M345.5 72.6h0M347.3 68.7h0M347.8 61.5h0M345.4 54.8h0M349.9 72.3h0M348.9 65.3h0M346.7 65.5h0M348.8 81.4h0M349.5 60.5h0M344.2 63.6h0M342.8 60.9h0M343.0 72.3h0M349.9 71.0h0M348.1 60.3h0M354.0 78.5h0M352.2 72.9h0M351.6 75.5h0M347.0 70.2h0M343.7 69.2h0M338.1 66.1h0M346.0 76.7h0M349.1 74.2h0M354.0 65.9h0M340.4 68.3h0M340.3 74.4h0M348.8 68.7h0M346.1 59.0h0M339.3 66.8h0M349.6 78.5h0M348.1 82.7h0M342.0 68.7h0M342.8 67.5h0M350.7 66.0h0M351.6 77.9h0M344.1 66.7h0M345.2 57.0h0M348.5 74.9h0M343.7 69.9h0M347.1 69.2h0M344.6 73.3h0M347.6 74.5h0M342.8 69.5h0M347.6 73.4h0M350.5 80.8h0M348.8 68.8h0M349.2 73.7h0M344.7 72.7h0M340.8 54.3h0M351.2 71.0h0M354.2 75.5h0M350.4 72.6h0M343.4 82.5h0M352.6 67.7h0M352.3 75.5h0M352.6 68.9h0M355.9 74.3h0M354.7 87.0h0M354.3 70.8h0M342.7 68.9h0M352.0 66.9h0M353.8 68.1h0M349.1 72.5h0M352.0 78.8h0M343.2 65.0h0M347.8 71.7h0M355.4 91.9h0M347.3 66.9h0M347.4 62.9h0M341.7 69.4h0M345.5 73.5h0M342.0 69.2h0M343.2 75.2h0M351.8 74.8h0M341.3 68.4h0M351.7 69.4h0M349.1 65.0h0M347.6 76.3h0M345.1 69.3h0M334.3 53.5h0M352.9 78.8h0M346.9 68.1h0M354.8 74.3h0M345.5 67.8h0M343.5 79.0h0M338.1 53.2h0M345.6 73.4h0M347.7 74.8h0M342.5 64.4h0M349.9 70.6h0M340.8 59.3h0M350.7 67.1h0M346.1 73.3h0M340.9 58.9h0M350.7 81.2h0M348.4 72.8h0M349.3 67.1h0M354.6 73.8h0M342.5 74.5h0M343.6 73.9h0M351.1 77.8h0M347.6 67.5h0M345.6 58.8h0M336.9 61.5h0M343.3 68.5h0M347.8 72.9h0M343.7 68.6h0M343.1 68.3h0M344.6 77.5h0M355.7 76.8h0M344.2 66.7h0M352.9 64.9h0M350.8 69.5h0M343.0 57.0h0M345.6 70.1h0M350.0 68.2h0M349.1 73.2h0M349.3 63.1h0M355.3 72.4h0M352.2 80.3h0M346.5 78.4h0M341.3 73.2h0M345.9 81.6h0M342.1 63.5h0M339.3 60.5h0M351.0 78.8h0M332.9 67.4h0M348.5 76.6h0M346.6 70.8h0M347.6 60.9h0M352.3 67.1h0M349.7 88.1h0M347.1 70.5h0M341.7 63.9h0M349.6 84.9h0M354.4 73.4h0M348.3 77.0h0M354.9 92.3h0M345.2 62.9h0M356.9 74.9h0M343.0 56.5h0M356.1 76.9h0M354.3 73.6h0M348.5 69.2h0M356.3 84.9h0M345.6 71.3h0M344.8 70.3h0M340.8 70.3h0M352.9 76.6h0M348.5 68.4h0M345.3 65.1h0M352.1 81.8h0M343.9 72.7h0M348.7 72.6h0M353.8 65.3h0M355.3 80.2h0M345.6 76.0h0M344.1 63.4h0M351.3 87.1h0M348.7 65.7h0M340.1 63.4h0M345.1 77.5h0M350.4 72.1h0M356.6 76.2h0M347.5 72.5h0M355.3 82.7h0M347.3 75.8h0M346.5 63.8h0M345.3 63.8h0M344.5 76.6h0M340.7 50.1h0M348.6 64.6h0M347.7 70.7h0M343.9 62.4h0M352.7 79.4h0M353.2 68.0h0M355.3 74.4h0M355.4 70.3h0M349.5 83.4h0M343.4 60.2h0M344.8 70.4h0M347.8 76.0h0M357.5 77.2h0M347.1 70.9h0M341.4 66.5h0M352.1 74.0h0M349.3 77.5h0M352.6 79.4h0M345.9 75.6h0M357.2 76.7h0M347.0 63.9h0M346.7 78.5h0M350.1 70.0h0M354.6 87.5h0M344.8 62.8h0M352.0 75.3h0M339.0 66.8h0M344.7 76.4h0M350.3 79.1h0M349.7 67.8h0M346.4 65.0h0M356.7 69.4h0M343.5 76.7h0M343.6 78.0h0M344.7 68.4h0M349.4 69.9h0M357.2 79.6h0M343.8 75.6h0M342.6 65.6h0M357.2 75.4h0M346.7 70.1h0M355.2 79.1h0M353.1 74.7h0M346.0 64.3h0M354.6 76.1h0M344.4 77.4h0M344.0 61.3h0M349.9 71.7h0M352.3 74.2h0M351.0 78.6h0M356.5 82.7h0M353.6 90.6h0M343.9 76.8h0M352.0 82.8h0M341.2 63.7h0M357.5 72.6h0M342.6 81.4h0M345.2 75.0h0M342.7 68.8h0M350.8 70.0h0M344.8 61.8h0M344.8 67.2h0M344.7 72.6h0M353.1 65.3h0M340.6 64.7h0M351.8 67.4h0M351.2 69.2h0M350.1 80.5h0M351.6 74.6h0M343.2 56.9h0M347.5 62.3h0M345.5 64.0h0M341.3 76.4h0M347.8 69.7h0M347.1 61.7h0M345.6 64.8h0M345.6 75.6h0M353.1 79.3h0M337.5 64.2h0M354.1 73.8h0M344.9 77.9h0M343.2 66.7h0M348.4 65.8h0M351.6 74.0h0M345.7 65.9h0M347.9 75.1h0M338.5 62.6h0M351.7 71.4h0M344.3 63.4h0M352.4 76.2h0M341.5 65.7h0M354.4 88.2h0M351.6 76.4h0M348.0 70.4h0M354.4 74.7h0M341.7 64.8h0M351.5 75.2h0M354.6 69.2h0M350.4 71.9h0M347.2 74.3h0M345.8 76.1h0M346.4 75.6h0M346.9 73.1h0M355.4 84.8h0M343.5 62.6h0M355.5 71.9h0M349.9 57.7h0M349.9 72.2h0M355.5 82.5h0M347.1 73.2h0M340.4 63.7h0M346.4 72.7h0M343.1 69.8h0M351.0 81.4h0M353.7 84.4h0M345.1 70.2h0M353.8 75.9h0M341.5 76.4h0M349.6 71.2h0M351.1 83.5h0M351.4 69.7h0M343.5 74.6h0M352.7 80.5h0M352.5 65.2h0M345.0 67.7h0M351.6 70.6h0M351.2 71.5h0M346.1 71.2h0M352.7 66.4h0M352.9 65.8h0M353.7 74.9h0M353.1 69.1h0M339.5 65.8h0M338.7 61.5h0M356.0 74.0h0M353.7 73.5h0M352.3 77.1h0M356.5 76.6h0M353.4 68.7h0M350.2 76.1h0M356.3 81.6h0M351.5 71.5h0M341.2 61.0h0M351.3 76.9h0M354.2 82.0h0M355.7 75.1h0M347.4 63.9h0M349.3 75.8h0M350.6 72.6h0M339.9 69.3h0M347.7 62.2h0M353.3 80.4h0M349.6 72.4h0M356.2 70.8h0M349.2 73.4h0M340.6 77.6h0M344.7 55.2h0M349.7 76.9h0M353.0 64.4h0M348.5 70.8h0M357.3 76.8h0M347.4 75.0h0M353.3 78.4h0M348.9 68.0h0M343.3 77.5h0M350.2 75.2h0M345.5 74.4h0M355.9 72.4h0M350.0 71.0h0M350.7 74.0h0M343.3 68.5h0M356.3 61.4h0M350.7 72.8h0M345.6 63.2h0M340.6 71.0h0M343.2 72.1h0M351.6 74.6h0M344.0 68.4h0M355.4 77.5h0M338.9 66.4h0M357.2 78.4h0M352.0 73.7h0M350.1 71.9h0M341.0 62.2h0M348.6 68.2h0M351.2 74.3h0M350.2 75.0h0M342.8 67.9h0M341.8 71.5h0M356.8 68.8h0M350.1 68.9h0M352.7 73.5h0M343.4 72.6h0M345.9 66.6h0M344.3 69.8h0M343.7 62.5h0M351.0 59.4h0M355.1 82.5h0M345.3 90.3h0M343.1 68.1h0M343.1 77.4h0M345.2 68.7h0M347.8 74.2h0M342.3 63.9h0M352.2 78.4h0M356.6 72.2h0M353.4 81.3h0M347.7 77.1h0M347.7 69.1h0M356.8 71.0h0M351.9 81.6h0M342.4 70.6h0M349.6 75.4h0M349.5 69.6h0M355.4 77.4h0M347.6 76.7h0M352.5 84.6h0M333.5 50.4h0M341.5 55.6h0M356.0 78.6h0M343.8 62.9h0M347.7 69.1h0M347.0 65.7h0M341.9 67.4h0M356.2 81.0h0M342.7 66.6h0M351.0 82.2h0M344.1 66.7h0M348.4 81.1h0M347.1 68.6h0M349.5 71.7h0M346.7 82.6h0M347.6 72.4h0M346.4 67.6h0M355.2 71.7h0M355.5 85.9h0M350.5 77.8h0M348.4 77.3h0M343.3 60.6h0M356.6 76.3h0M346.2 64.7h0M349.4 68.8h0M355.0 77.9h0M350.8 65.2h0M353.7 80.4h0M339.9 72.7h0M353.6 80.0h0M345.9 72.1h0M357.0 64.6h0M349.2 65.2h0M349.4 70.0h0M348.3 65.8h0M349.3 59.1h0M345.4 57.5h0M342.2 79.4h0M347.8 71.6h0M350.2 71.4h0M350.1 71.9h0M349.1 65.6h0M347.0 74.8h0M341.0 62.4h0M355.7 71.0h0M349.7 72.5h0M350.0 80.7h0M345.1 73.2h0M353.1 68.8h0M342.9 51.9h0M352.2 87.0h0M351.2 68.7h0M346.8 69.1h0M341.3 66.8h0M347.8 68.3h0M352.9 74.3h0M331.9 60.7h0M347.9 76.4h0M348.5 68.2h0M349.3 73.3h0M357.1 83.2h0M346.7 63.8h0M355.6 70.6h0M342.0 63.8h0M352.3 82.2h0M344.0 64.2h0M349.0 77.9h0M356.1 80.1h0M351.7 75.9h0M342.1 68.2h0M346.8 63.8h0M343.5 69.2h0M348.4 65.0h0M345.6 67.6h0M354.8 74.1h0M347.5 74.6h0M351.3 76.0h0M350.3 72.2h0M350.2 77.0h0M356.9 74.0h0M349.2 67.1h0M344.7 72.2h0M353.3 79.5h0M343.3 75.7h0M339.9 70.0h0M347.8 68.4h0M338.7 62.9h0M342.5 67.6h0M357.5 85.0h0M357.4 80.8h0M346.3 76.6h0M349.9 61.2h0M340.5 80.9h0M349.7 59.3h0M351.3 64.4h0M339.0 62.0h0M345.3 73.6h0M350.1 77.0h0M348.0 80.6h0M348.5 84.4h0M356.3 67.7h0M349.1 83.6h0M356.2 78.9h0M350.1 80.2h0M355.1 78.8h0M347.8 72.1h0M346.4 69.4h0M355.7 76.4h0M351.2 72.8h0M352.7 75.8h0M344.2 61.2h0M346.7 70.8h0M352.9 72.0h0M345.3 76.5h0M348.1 69.9h0M348.1 76.6h0M343.2 67.2h0M336.7 71.2h0M352.4 86.9h0M347.7 63.2h0M344.5 79.0h0M337.8 58.8h0M337.3 63.9h0M340.0 65.4h0M349.6 68.7h0M341.2 69.8h0M338.0 66.2h0M352.7 79.9h0M353.7 72.9h0M354.6 66.5h0M347.8 62.9h0M347.9 78.6h0M352.8 79.0h0M335.6 61.2h0M351.9 65.7h0M353.0 74.2h0M336.0 63.6h0M355.7 84.5h0M353.7 69.5h0M348.4 69.6h0M348.2 83.3h0M342.0 65.2h0M345.9 66.2h0M357.0 72.8h0M348.0 77.0h0M344.3 52.2h0M350.2 66.3h0M349.2 80.2h0M346.6 68.6h0M353.1 67.6h0M343.7 68.0h0M345.1 71.2h0M352.5 82.2h0M352.5 70.6h0M353.8 70.8h0M345.2 69.0h0M343.3 63.2h0M347.3 73.6h0M341.3 68.7h0M347.2 65.8h0M344.1 76.7h0M351.8 76.8h0M341.4 58.5h0M350.9 72.5h0M353.0 73.2h0M351.8 69.4h0M344.6 69.6h0M341.2 72.3h0M347.5 68.7h0M354.8 76.9h0M351.3 72.6h0M347.9 78.4h0M357.1 72.6h0M353.5 82.3h0M344.8 67.6h0M351.3 73.8h0M347.0 69.8h0M353.1 70.2h0M348.3 56.5h0M351.7 67.2h0M343.1 69.8h0M352.3 89.2h0M349.9 75.1h0M345.3 65.3h0M356.2 82.0h0M342.6 61.7h0M351.2 74.4h0M351.4 74.6h0M350.6 73.5h0M352.0 78.5h0M354.2 82.0h0M356.1 64.6h0M354.3 80.8h0M351.0 72.6h0M349.3 68.8h0M348.8 76.7h0M346.6 70.1h0M351.7 78.9h0M346.3 77.6h0M349.1 78.1h0M352.5 85.1h0M339.5 64.9h0M346.8 64.0h0M347.5 73.1h0M340.5 73.8h0M342.4 64.3h0M356.6 74.8h0M339.1 63.1h0M351.5 73.8h0M340.6 66.3h0M355.2 85.4h0M348.9 79.4h0M350.0 69.2h0M348.9 77.9h0M356.5 73.3h0M341.4 72.3h0M344.7 69.3h0M355.4 77.9h0M341.4 71.7h0M352.4 74.5h0M341.4 55.6h0M344.2 73.5h0M348.1 84.5h0M349.1 73.7h0M352.3 79.0h0M352.5 80.7h0M350.2 75.1h0M338.2 66.0h0M344.6 59.4h0M353.2 69.1h0M347.9 62.8h0M353.9 72.3h0M345.8 71.9h0M346.2 62.1h0M341.7 70.9h0M341.1 66.7h0M355.6 74.8h0M345.0 67.7h0M352.3 72.0h0M350.1 76.7h0M338.9 59.6h0M345.9 59.4h0M352.6 71.2h0M347.5 70.2h0M352.9 68.4h0M348.6 72.1h0M348.9 67.8h0M342.7 64.7h0M338.8 61.8h0M353.7 83.5h0M336.6 61.2h0M347.4 65.5h0M353.9 72.2h0M346.7 64.9h0M349.1 65.8h0M349.7 77.9h0M348.8 75.9h0M356.6 79.0h0M348.5 67.7h0M350.9 76.7h0M345.5 70.5h0M353.2 63.6h0M354.9 81.4h0M346.2 67.9h0M351.4 72.5h0M348.4 70.2h0M348.0 68.7h0M344.4 78.2h0M352.1 75.4h0M353.9 85.7h0M355.4 82.2h0M352.6 85.8h0M356.9 88.9h0M344.7 74.9h0M343.8 64.0h0M344.3 65.8h0M353.3 83.6h0M340.6 64.0h0M343.5 68.7h0M353.1 75.4h0M350.8 56.8h0M349.0 77.3h0M347.2 84.3h0M345.5 73.5h0M347.9 64.7h0M329.5 49.9h0M342.4 61.8h0M348.1 70.6h0M341.3 63.1h0M346.3 68.2h0M343.9 62.7h0M342.8 70.2h0M342.9 68.7h0M350.8 76.3h0M348.3 70.2h0M352.3 78.5h0M349.0 74.0h0M348.9 75.5h0M346.1 65.8h0M338.9 69.5h0M357.1 82.3h0M341.6 78.9h0M345.0 66.3h0M355.0 73.4h0M349.5 75.2h0M340.6 68.9h0M344.8 68.5h0M353.2 73.8h0M343.1 68.6h0M346.3 75.6h0M348.9 68.3h0M339.4 60.4h0M345.0 70.8h0M345.6 69.8h0M350.9 66.4h0M356.9 85.0h0M348.6 70.9h0M352.0 72.1h0M347.3 60.9h0M348.7 69.1h0M352.1 75.4h0M353.8 89.3h0M344.4 66.6h0M353.4 71.8h0M349.1 77.2h0M355.1 69.9h0M349.7 77.2h0M347.2 77.6h0M344.3 66.7h0M351.0 56.8h0M342.7 74.4h0M355.9 81.8h0M352.6 73.3h0M350.2 72.4h0M355.5 71.1h0M345.6 74.8h0M350.5 74.3h0M334.2 63.4h0M344.9 78.3h0M350.3 75.7h0M343.3 67.3h0M357.3 82.4h0M349.8 68.9h0M347.6 72.2h0M347.4 64.6h0M352.3 75.8h0M347.6 79.4h0M346.2 80.9h0M352.2 83.6h0M349.4 52.2h0M351.9 68.8h0M347.0 68.2h0M354.7 65.9h0M357.3 88.9h0M342.8 60.8h0M341.9 67.2h0M355.1 70.5h0M350.0 60.0h0M347.5 61.5h0M355.9 80.9h0M354.0 79.8h0M335.3 62.8h0M350.0 70.7h0M349.9 76.9h0M354.7 82.2h0M354.4 84.3h0M341.3 70.9h0M347.0 80.3h0M352.0 72.2h0M341.6 62.0h0M345.6 66.2h0M344.8 70.7h0M349.7 73.0h0M353.9 78.4h0M356.6 79.4h0M355.6 78.4h0M355.5 79.2h0M355.1 85.6h0M356.4 81.0h0M357.3 83.4h0M356.7 88.4h0M356.4 80.1h0M357.1 84.0h0M357.2 85.5h0M357.3 88.8h0M356.2 86.8h0M357.2 82.1h0M357.2 84.9h0M357.1 89.8h0M357.3 79.7h0M356.6 90.9h0M356.4 85.0h0M355.9 88.3h0M353.4 79.8h0M356.5 75.3h0M356.7 67.1h0M355.3 69.6h0M356.4 73.2h0M355.8 56.0h0M355.3 69.0h0M356.8 82.1h0M356.2 78.9h0M354.8 63.8h0M355.8 62.4h0M356.6 70.3h0M357.1 69.2h0M354.5 83.0h0M356.6 61.8h0M356.3 67.3h0M354.9 65.0h0M356.6 68.9h0M357.0 68.3h0M356.0 72.7h0M357.3 64.3h0M356.6 59.0h0M356.0 73.3h0M356.7 60.1h0M354.9 64.5h0M356.0 63.7h0" stroke="#8e8e8e" stroke-width="1.1" stroke-linecap="round" fill="none" opacity="0.9"/>
<path d="M359.0 77.2h0M358.7 72.3h0M358.7 75.8h0M358.0 79.8h0M362.1 69.1h0M358.1 76.2h0M358.1 76.0h0M357.6 76.9h0M361.2 75.5h0M361.7 78.8h0M359.8 74.8h0M357.9 79.0h0M359.7 80.0h0M359.1 77.9h0M362.4 78.0h0M358.1 77.1h0M359.0 78.7h0M357.6 79.6h0M357.7 76.1h0M361.4 78.1h0M361.4 74.7h0M357.8 71.7h0M364.7 79.3h0M357.5 79.9h0M357.9 73.5h0M363.7 75.4h0M362.4 77.6h0M357.8 78.3h0M358.3 79.4h0M360.6 70.1h0M359.8 76.7h0M360.4 73.7h0M357.6 79.0h0M362.8 76.2h0M357.9 76.6h0M361.5 70.3h0M362.1 76.8h0M358.1 76.9h0M357.9 75.3h0M361.1 77.9h0M362.4 74.3h0M357.8 74.9h0M358.0 75.4h0M361.5 74.3h0M362.6 78.1h0M358.7 77.5h0M359.4 62.6h0M359.1 73.0h0M359.1 68.6h0M359.7 75.9h0M358.0 73.1h0M359.2 64.7h0M359.3 62.8h0M363.9 77.1h0M369.9 55.5h0M366.4 65.1h0M361.3 71.5h0M362.2 71.3h0M363.4 66.3h0M359.5 72.0h0M366.9 63.7h0M373.4 59.4h0M364.3 68.2h0M359.5 74.6h0M359.1 71.0h0M362.5 65.0h0M364.4 64.7h0M372.0 57.5h0M358.2 72.2h0M360.5 76.6h0M361.5 69.4h0M359.3 73.8h0M363.5 68.5h0M361.3 76.5h0M360.6 74.5h0M361.9 69.7h0M362.4 74.8h0M360.7 65.8h0M369.7 49.9h0M362.6 67.9h0M374.2 52.5h0M359.6 75.8h0M365.1 60.6h0M359.9 73.1h0M362.3 67.3h0M363.5 69.6h0M364.6 68.1h0M359.6 64.9h0M358.7 67.5h0M358.3 74.3h0M360.1 68.3h0M361.9 67.4h0M365.7 65.6h0M360.0 70.1h0M364.2 70.1h0M360.8 72.8h0M358.2 75.3h0M363.1 76.1h0M367.3 63.9h0M364.2 55.4h0M360.9 80.2h0M357.9 77.3h0M360.5 78.4h0M358.8 78.6h0M357.6 79.3h0M358.5 77.8h0M364.6 80.2h0M359.2 80.1h0M358.8 79.8h0M359.6 77.9h0M362.9 66.8h0M359.4 71.1h0M359.5 67.6h0M359.2 70.8h0M360.9 57.6h0M357.8 63.0h0M359.7 68.0h0M362.8 64.3h0M358.9 66.8h0M357.5 71.6h0M360.2 64.6h0M363.6 76.4h0M360.8 62.1h0M361.7 69.8h0M359.9 71.8h0M360.9 78.2h0M358.2 46.1h0M358.2 65.1h0M357.9 60.1h0M362.7 61.2h0M361.5 72.6h0M363.9 56.8h0M359.7 71.0h0M364.7 57.5h0M358.8 64.0h0M358.4 67.4h0M361.4 68.0h0M362.0 58.4h0M361.6 71.0h0M360.1 61.3h0M357.8 71.3h0M359.6 64.4h0M360.8 71.7h0M364.0 77.4h0M364.4 68.0h0M361.9 58.2h0M360.1 70.7h0M357.9 64.2h0M362.8 66.9h0M367.0 69.9h0M360.0 62.0h0M359.1 79.9h0M358.8 73.7h0M365.2 77.9h0M362.8 73.1h0M357.8 72.1h0M362.3 61.7h0M361.2 71.5h0M358.8 66.3h0M362.4 74.8h0M359.8 58.7h0M362.5 65.2h0M358.9 64.6h0M359.6 66.1h0M362.0 58.4h0M359.0 71.7h0M359.5 72.7h0M358.5 67.5h0M360.9 57.2h0M360.0 69.4h0M361.0 71.8h0M361.8 65.4h0M359.0 73.8h0M359.8 65.5h0M363.9 63.6h0M362.5 59.6h0M363.5 74.8h0M363.9 63.7h0M360.3 61.4h0M362.0 63.0h0M360.1 67.0h0M359.8 69.9h0M361.0 75.8h0M358.4 69.0h0M361.9 69.1h0M361.2 61.9h0M363.4 68.0h0M358.1 71.4h0M358.7 62.2h0M357.6 64.1h0M359.8 59.9h0M359.9 67.7h0M359.9 68.0h0M357.8 66.7h0M359.3 58.0h0M362.0 65.4h0M360.0 58.8h0M362.9 69.6h0M359.8 47.2h0M364.7 57.9h0M358.4 59.5h0M358.1 58.4h0M358.5 71.0h0M361.0 70.8h0M359.2 69.8h0M360.8 58.2h0M362.5 58.2h0M364.2 77.7h0M362.1 60.2h0M363.3 70.6h0M358.7 64.6h0M359.8 54.5h0M362.1 71.8h0M359.5 67.6h0M361.5 59.7h0M361.2 75.2h0M360.3 67.5h0M362.2 72.3h0M357.7 62.6h0M358.9 65.0h0M358.7 69.1h0M357.6 71.0h0M365.9 64.2h0M357.9 63.9h0M362.3 70.9h0M362.2 63.6h0M360.3 56.1h0M361.4 68.6h0M360.8 68.4h0M365.5 73.2h0M360.1 60.6h0M361.9 72.5h0M359.8 67.5h0M359.7 70.4h0M357.8 68.1h0M359.3 65.8h0M361.3 66.8h0M363.8 70.2h0M359.7 73.7h0M364.2 55.8h0M361.1 60.3h0M364.9 74.2h0M361.5 59.8h0M362.7 62.4h0M358.6 57.2h0M363.5 71.5h0M361.0 64.8h0M359.5 61.4h0M365.4 74.6h0M365.8 66.1h0M360.7 75.4h0M361.0 61.7h0M358.3 75.5h0M359.1 65.6h0M358.5 61.7h0M360.8 58.0h0M357.9 74.6h0M361.2 66.2h0M362.1 74.2h0M364.2 68.7h0M360.3 70.0h0M362.9 59.3h0M361.6 56.7h0M360.8 65.6h0M360.1 60.4h0M359.5 64.8h0M364.8 62.4h0M362.0 55.5h0" stroke="#5cbcf0" stroke-width="1.1" stroke-linecap="round" fill="none" opacity="0.85"/>
<path d="M361.1 86.9h0M361.5 86.4h0M364.8 84.4h0M362.0 88.3h0M360.8 84.0h0M357.6 82.7h0M362.5 88.2h0M358.2 84.5h0M359.9 82.2h0M363.5 85.9h0M360.3 83.6h0M357.8 90.2h0M366.3 89.5h0M358.4 93.0h0M359.7 82.3h0M366.1 80.9h0M359.0 81.2h0M357.7 80.5h0M363.3 81.2h0M364.7 87.5h0M358.9 87.7h0M362.9 81.0h0M361.6 84.2h0M364.9 84.3h0M358.4 87.8h0M359.8 90.2h0M358.2 81.4h0M358.4 82.3h0M359.4 90.8h0M358.8 82.1h0M357.6 87.3h0M359.0 85.9h0M358.9 82.0h0M360.7 82.8h0M357.5 81.8h0M369.4 90.2h0M357.7 83.2h0M372.4 90.1h0M360.6 85.9h0M361.1 82.3h0M364.8 82.9h0M366.9 84.6h0M357.7 82.4h0M360.3 84.8h0M358.4 86.5h0M358.1 84.6h0M361.0 88.6h0M359.2 84.2h0M357.6 84.4h0M359.8 84.7h0M360.6 85.4h0M361.1 82.9h0M358.2 87.6h0M359.6 83.7h0M358.7 87.4h0M358.4 82.3h0M359.6 83.9h0M360.0 81.6h0M358.4 89.4h0M359.7 85.4h0M359.0 91.2h0M358.0 87.7h0M360.3 85.1h0M357.6 81.6h0M358.1 81.2h0M361.0 80.8h0M357.6 89.8h0M359.8 85.9h0M358.9 87.2h0M357.6 87.7h0M358.9 86.0h0M359.0 81.4h0M361.2 81.6h0M359.5 84.6h0M360.6 86.5h0M360.3 89.2h0M358.8 81.7h0M360.0 88.4h0M358.0 88.2h0M360.1 85.4h0M358.5 82.7h0M360.1 83.4h0M358.5 92.0h0M359.0 82.6h0M360.0 84.5h0M359.0 83.3h0M358.8 94.8h0M360.0 85.1h0M358.9 81.7h0M357.8 86.7h0M360.8 89.7h0M358.3 83.9h0M359.3 87.3h0M360.2 82.5h0M358.3 84.7h0M361.4 81.2h0M358.2 80.6h0M358.2 92.3h0M358.9 84.1h0M360.6 86.6h0M358.1 85.0h0M359.5 86.9h0M360.2 84.6h0M359.6 84.6h0M360.8 82.5h0M359.8 87.0h0M361.4 87.0h0M357.7 81.9h0M359.4 88.8h0M360.3 82.5h0M359.9 83.8h0M359.7 81.1h0M359.3 86.0h0M362.2 82.9h0M361.8 85.3h0M362.7 81.4h0M362.3 87.2h0" stroke="#f6c570" stroke-width="1.1" stroke-linecap="round" fill="none" opacity="0.85"/>
<rect x="306.00" y="22.40" width="92.50" height="83.80" fill="none" stroke="#231f20" stroke-width="1.2"/>
<line x1="357.50" y1="22.40" x2="357.50" y2="106.20" stroke="#111" stroke-width="1.0" stroke-dasharray="4.3 3.8" stroke-dashoffset="2"/>
<line x1="306.00" y1="80.30" x2="398.50" y2="80.30" stroke="#111" stroke-width="1.0" stroke-dasharray="4.3 3.8" stroke-dashoffset="1.1"/>
<line x1="310.20" y1="106.20" x2="310.20" y2="108.70" stroke="#231f20" stroke-width="0.8"/>
<text x="310.20" y="117.80" font-size="6.4" fill="#231f20" text-anchor="middle">−2</text>
<line x1="331.10" y1="106.20" x2="331.10" y2="108.70" stroke="#231f20" stroke-width="0.8"/>
<text x="331.10" y="117.80" font-size="6.4" fill="#231f20" text-anchor="middle">−1</text>
<line x1="352.00" y1="106.20" x2="352.00" y2="108.70" stroke="#231f20" stroke-width="0.8"/>
<text x="352.00" y="117.80" font-size="6.4" fill="#231f20" text-anchor="middle">0</text>
<line x1="372.90" y1="106.20" x2="372.90" y2="108.70" stroke="#231f20" stroke-width="0.8"/>
<text x="372.90" y="117.80" font-size="6.4" fill="#231f20" text-anchor="middle">1</text>
<line x1="393.80" y1="106.20" x2="393.80" y2="108.70" stroke="#231f20" stroke-width="0.8"/>
<text x="393.80" y="117.80" font-size="6.4" fill="#231f20" text-anchor="middle">2</text>
<line x1="303.50" y1="26.10" x2="306.00" y2="26.10" stroke="#231f20" stroke-width="0.8"/>
<text x="302.00" y="28.30" font-size="6.4" fill="#231f20" text-anchor="end">4</text>
<line x1="303.50" y1="51.60" x2="306.00" y2="51.60" stroke="#231f20" stroke-width="0.8"/>
<text x="302.00" y="53.80" font-size="6.4" fill="#231f20" text-anchor="end">2</text>
<line x1="303.50" y1="77.00" x2="306.00" y2="77.00" stroke="#231f20" stroke-width="0.8"/>
<text x="302.00" y="79.20" font-size="6.4" fill="#231f20" text-anchor="end">0</text>
<line x1="303.50" y1="102.60" x2="306.00" y2="102.60" stroke="#231f20" stroke-width="0.8"/>
<text x="302.00" y="104.80" font-size="6.4" fill="#231f20" text-anchor="end">−2</text>
<path d="M311.0 26.6h0" stroke="#8f8f8f" stroke-width="1.6" stroke-linecap="round" fill="none" opacity="1.0"/>
<path d="M311.0 33.3h0" stroke="#f3b24a" stroke-width="1.6" stroke-linecap="round" fill="none" opacity="1.0"/>
<path d="M311.0 40.2h0" stroke="#5aaee8" stroke-width="1.6" stroke-linecap="round" fill="none" opacity="1.0"/>
<text x="314.00" y="28.30" font-size="5.0" fill="#444">n.s.</text>
<text x="314.00" y="35.00" font-size="5.0" fill="#444" textLength="41" lengthAdjust="spacingAndGlyphs">High in HD HSPC</text>
<text x="314.00" y="41.90" font-size="5.0" fill="#444" textLength="20" lengthAdjust="spacingAndGlyphs">Selected</text>
<text x="363.40" y="55.60" font-size="5.2" fill="#231f20" font-style="italic" textLength="15.5" lengthAdjust="spacingAndGlyphs">TGFB1</text>
<line x1="363.00" y1="54.50" x2="361.50" y2="56.00" stroke="#222" stroke-width="0.5"/>
<path d="M361.5 56.0h0" stroke="#222" stroke-width="1.2" stroke-linecap="round" fill="none" opacity="1.0"/>
<text x="376.00" y="62.80" font-size="5.2" fill="#231f20" font-style="italic" textLength="21" lengthAdjust="spacingAndGlyphs">S100A10</text>
<line x1="375.00" y1="60.50" x2="373.50" y2="59.50" stroke="#222" stroke-width="0.5"/>
<path d="M373.5 59.5h0" stroke="#222" stroke-width="1.2" stroke-linecap="round" fill="none" opacity="1.0"/>
<text x="368.80" y="70.00" font-size="5.2" fill="#231f20" font-style="italic" textLength="17.4" lengthAdjust="spacingAndGlyphs">PROM1</text>
<line x1="368.00" y1="68.50" x2="366.00" y2="69.50" stroke="#222" stroke-width="0.5"/>
<path d="M366.0 69.5h0" stroke="#222" stroke-width="1.2" stroke-linecap="round" fill="none" opacity="1.0"/>
<text x="371.00" y="76.60" font-size="5.2" fill="#231f20" font-style="italic" textLength="13.4" lengthAdjust="spacingAndGlyphs">CD44</text>
<line x1="370.00" y1="75.00" x2="368.00" y2="74.00" stroke="#222" stroke-width="0.5"/>
<path d="M368.0 74.0h0" stroke="#222" stroke-width="1.2" stroke-linecap="round" fill="none" opacity="1.0"/>
<text x="408.00" y="15.80" font-size="10.2" fill="#000" font-weight="bold" stroke="#000" stroke-width="0.35">D</text>
<text x="467.00" y="17.40" font-size="8.2" fill="#231f20" text-anchor="middle">T-ALL</text>
<path d="M432.2 57.7h0M462.3 96.6h0M423.8 41.5h0M444.5 95.9h0M457.3 79.8h0M500.2 86.7h0M458.4 45.3h0M502.1 71.4h0M484.6 101.6h0M446.1 57.1h0M487.2 51.3h0M476.6 88.7h0M458.1 54.1h0M432.2 57.2h0M436.5 90.6h0M473.3 83.6h0M476.5 66.7h0M488.0 98.0h0M425.6 92.6h0M508.2 102.1h0M425.7 78.2h0M436.3 63.1h0M455.4 63.3h0M495.7 64.5h0M438.4 52.7h0M477.3 78.8h0M431.0 82.7h0M428.3 63.5h0M494.7 68.8h0M486.9 58.1h0M427.2 94.4h0M430.6 93.9h0M444.5 87.3h0M456.1 47.7h0M439.4 53.1h0M479.6 72.2h0M499.9 79.9h0M498.6 64.2h0M494.5 44.4h0M426.5 38.9h0M425.6 83.0h0M465.6 102.9h0M428.2 79.9h0M448.7 31.1h0M506.4 35.7h0M470.9 79.7h0M457.1 56.9h0M458.3 92.7h0M456.7 75.6h0M452.4 96.3h0M467.0 60.4h0M465.7 49.9h0M437.0 73.2h0M497.4 73.6h0M506.3 97.7h0M462.8 70.4h0M482.7 101.9h0M466.3 87.5h0M445.3 59.0h0M489.9 72.1h0M507.9 74.2h0M473.4 47.5h0M492.3 95.7h0M459.4 58.8h0M488.9 65.0h0M440.6 73.4h0M467.1 70.5h0M449.6 64.1h0M463.3 83.4h0M454.8 87.7h0M459.8 60.9h0M428.2 64.4h0M440.1 36.9h0M475.7 78.1h0M433.8 77.4h0M466.6 67.0h0M473.0 93.9h0M446.7 103.1h0M493.5 84.3h0M430.4 48.9h0M507.9 47.2h0M473.4 65.7h0M506.4 44.8h0M479.5 57.1h0M458.4 82.3h0M487.2 74.6h0M493.3 91.6h0M486.1 49.6h0M478.8 70.9h0M508.2 102.3h0" stroke="#c4c4c4" stroke-width="0.9" stroke-linecap="round" fill="none" opacity="0.9"/>
<path d="M462.1 68.5h0M463.5 73.3h0M467.2 73.9h0M453.8 63.7h0M470.0 67.2h0M459.9 69.0h0M456.1 64.7h0M459.9 69.1h0M460.5 70.6h0M452.6 61.5h0M464.9 70.7h0M468.3 76.2h0M464.8 65.6h0M459.9 73.3h0M457.7 66.1h0M454.3 78.9h0M466.6 76.3h0M456.7 72.9h0M450.1 79.7h0M464.2 58.1h0M448.8 69.2h0M455.3 81.6h0M465.9 73.1h0M451.5 66.3h0M461.0 60.9h0M470.1 71.5h0M469.2 74.2h0M463.2 72.6h0M464.9 75.2h0M461.0 69.4h0M469.6 75.8h0M451.6 78.5h0M452.4 65.9h0M463.4 47.2h0M472.2 61.0h0M454.0 63.2h0M466.0 82.7h0M462.6 77.1h0M467.5 71.4h0M456.5 69.1h0M451.7 69.0h0M459.3 62.3h0M462.8 79.4h0M466.8 60.4h0M466.1 81.7h0M467.7 58.5h0M445.4 60.5h0M446.4 77.0h0M471.5 84.4h0M453.7 59.2h0M454.6 54.9h0M460.6 63.3h0M462.3 67.4h0M454.9 64.6h0M466.5 80.7h0M467.7 73.8h0M449.4 62.8h0M451.4 71.1h0M466.4 76.9h0M466.5 73.7h0M470.8 80.6h0M471.8 75.7h0M461.6 80.2h0M463.0 67.3h0M467.7 74.8h0M448.2 65.5h0M459.1 60.9h0M464.8 79.0h0M461.7 65.4h0M465.3 74.6h0M460.7 56.3h0M457.2 65.7h0M458.6 67.9h0M459.0 73.6h0M461.3 59.2h0M462.5 75.0h0M446.4 66.5h0M463.1 85.2h0M466.8 70.7h0M457.7 53.3h0M469.8 75.6h0M457.1 73.2h0M453.8 67.4h0M470.3 65.0h0M461.9 70.0h0M456.3 67.0h0M449.3 62.2h0M469.4 66.0h0M472.5 54.0h0M462.0 77.4h0M470.5 71.0h0M463.2 71.0h0M459.9 69.4h0M462.9 62.3h0M458.3 71.1h0M449.0 66.1h0M469.1 55.4h0M454.1 63.0h0M453.6 69.5h0M459.5 75.3h0M457.5 68.2h0M459.9 69.0h0M465.8 77.4h0M463.0 79.3h0M469.6 78.4h0M461.3 73.4h0M446.6 62.7h0M445.5 75.9h0M467.3 87.6h0M463.9 55.2h0M454.4 41.5h0M461.7 66.6h0M456.8 62.5h0M463.3 68.0h0M451.1 67.8h0M463.1 79.7h0M457.2 74.4h0M440.4 65.0h0M458.3 65.8h0M459.1 72.7h0M462.7 66.7h0M470.0 68.1h0M464.1 68.0h0M461.2 69.6h0M456.0 50.2h0M439.4 51.5h0M441.7 66.0h0M459.3 75.4h0M464.2 50.8h0M467.4 75.3h0M445.0 77.2h0M454.5 57.9h0M457.5 59.7h0M456.5 69.7h0M458.3 71.8h0M447.5 65.7h0M468.0 70.8h0M453.9 59.3h0M459.3 63.8h0M453.4 78.4h0M458.6 65.1h0M451.2 69.4h0M455.3 65.5h0M452.2 75.2h0M458.1 73.3h0M463.0 69.1h0M434.2 70.7h0M457.3 77.4h0M454.4 71.9h0M467.5 61.0h0M464.3 72.7h0M461.9 76.8h0M469.9 69.0h0M458.4 65.5h0M469.8 87.7h0M456.2 59.4h0M451.0 66.8h0M447.4 84.4h0M459.5 63.0h0M457.8 66.2h0M447.6 51.8h0M452.3 62.9h0M459.5 66.1h0M455.5 70.9h0M468.5 75.4h0M440.2 78.2h0M464.1 61.9h0M452.6 59.1h0M449.0 77.2h0M466.3 63.1h0M448.4 82.6h0M463.9 73.0h0M448.5 66.8h0M454.8 75.8h0M468.6 59.5h0M465.8 73.1h0M472.4 54.6h0M459.5 66.7h0M458.2 73.7h0M460.5 69.5h0M465.4 72.8h0M438.8 70.0h0M450.7 74.1h0M447.9 61.4h0M460.0 69.2h0M462.6 59.3h0M454.0 54.3h0M448.1 67.5h0M471.5 63.9h0M460.1 72.9h0M451.0 62.1h0M451.4 55.6h0M455.2 72.8h0M463.3 78.2h0M462.5 71.9h0M465.2 74.7h0M460.7 58.8h0M456.4 52.8h0M460.5 83.6h0M458.2 52.4h0M455.2 80.2h0M452.9 65.8h0M452.5 72.1h0M462.5 77.5h0M452.8 52.2h0M457.6 53.4h0M466.8 69.1h0M460.5 61.0h0M453.1 51.8h0M454.4 71.5h0M459.7 69.0h0M472.0 57.3h0M464.0 69.8h0M469.0 83.2h0M446.8 72.6h0M455.9 59.0h0M449.5 84.8h0M451.7 73.4h0M453.1 66.1h0M467.3 70.0h0M452.8 52.9h0M471.5 49.6h0M466.2 57.5h0M456.4 74.9h0M451.3 72.7h0M466.7 76.2h0M454.0 75.1h0M459.6 76.4h0M456.6 85.5h0M463.9 78.7h0M458.3 64.4h0M444.7 64.1h0M467.0 61.3h0M471.1 79.5h0M472.5 62.7h0M469.9 69.0h0M471.3 69.7h0M472.3 73.4h0M471.7 70.3h0" stroke="#a3a3a3" stroke-width="1.0" stroke-linecap="round" fill="none" opacity="0.9"/>
<path d="M465.2 72.8h0M460.1 77.3h0M468.5 77.6h0M463.3 74.3h0M464.0 70.5h0M463.7 77.8h0M465.2 64.2h0M465.6 77.2h0M466.9 73.1h0M469.0 68.8h0M461.8 61.9h0M468.4 78.3h0M462.5 76.0h0M470.9 70.0h0M466.9 64.3h0M472.0 71.4h0M467.3 72.1h0M465.2 71.0h0M464.5 67.1h0M470.2 79.3h0M468.3 73.7h0M464.7 79.8h0M456.8 69.3h0M463.6 73.6h0M465.0 77.4h0M467.3 62.2h0M470.3 69.4h0M465.7 70.6h0M464.9 72.4h0M463.8 74.6h0M468.2 69.5h0M462.9 69.9h0M461.4 70.8h0M461.4 73.1h0M465.2 66.1h0M464.5 76.4h0M456.9 70.2h0M469.3 71.0h0M464.7 71.0h0M466.1 76.9h0M464.9 66.4h0M467.2 71.2h0M468.8 80.1h0M471.1 77.6h0M463.0 63.2h0M467.0 71.6h0M469.6 79.0h0M469.5 55.6h0M465.8 69.9h0M465.4 62.7h0M471.4 70.3h0M462.5 67.7h0M466.2 79.3h0M472.1 83.3h0M468.8 77.1h0M470.0 68.5h0M458.0 80.1h0M462.9 76.6h0M471.1 66.9h0M468.2 70.2h0M472.4 69.2h0M471.1 74.8h0M471.7 66.4h0M468.9 62.3h0M461.5 83.1h0M467.5 66.8h0M465.3 68.0h0M471.4 74.7h0M469.7 66.8h0M465.8 70.1h0M465.7 76.1h0M461.7 78.4h0M470.6 67.9h0M468.8 72.5h0M466.0 61.0h0M469.2 85.8h0M468.7 78.4h0M461.0 67.4h0M458.6 81.9h0M468.7 65.0h0M463.0 68.3h0M469.7 61.8h0M460.5 74.1h0M465.8 63.2h0M467.2 67.7h0M469.9 64.5h0M469.1 78.0h0M466.3 73.1h0M463.7 70.3h0M462.9 70.5h0M465.8 56.2h0M463.0 71.2h0M462.6 69.4h0M467.1 76.9h0M469.0 78.3h0M462.7 76.8h0M464.7 71.4h0M467.4 79.3h0M466.8 63.3h0M471.7 74.6h0M461.2 71.9h0M470.3 68.4h0M460.6 65.5h0M464.5 67.4h0M467.8 74.8h0M466.6 63.9h0M472.0 75.3h0M467.1 68.5h0M464.5 70.1h0M466.3 67.5h0M471.6 81.8h0M470.1 78.2h0M469.2 70.0h0M466.5 72.2h0M458.6 68.6h0M465.8 64.6h0M462.0 76.5h0M470.1 62.2h0M468.1 69.1h0M464.9 66.3h0M462.3 68.0h0M464.8 81.8h0M467.1 83.2h0M465.9 61.2h0M467.9 82.7h0M458.3 62.2h0M460.5 58.9h0M465.3 72.3h0M472.1 77.4h0M456.0 72.6h0M471.6 79.3h0M466.5 80.7h0M470.0 65.8h0M470.9 71.3h0M469.0 62.4h0M468.4 73.2h0M462.8 71.7h0M470.7 72.7h0M468.7 63.0h0M461.1 67.7h0M463.7 68.8h0M470.1 65.6h0M468.8 66.6h0M459.3 73.4h0M468.2 65.8h0M468.3 67.9h0M472.5 74.1h0M463.2 62.7h0M466.7 75.0h0M465.1 64.9h0M457.1 78.2h0M472.0 57.9h0M461.8 72.7h0M471.8 67.4h0M465.0 58.6h0M466.0 76.6h0M464.7 62.2h0M461.9 68.1h0M469.7 71.6h0M462.0 61.1h0M463.0 68.1h0M464.2 68.5h0M469.8 61.3h0M461.5 68.0h0M463.5 68.7h0M466.4 69.9h0M463.0 72.8h0M464.3 75.0h0M467.8 85.2h0M462.0 63.2h0M468.7 63.7h0M465.0 63.5h0M469.7 82.8h0M460.6 64.4h0M462.1 71.6h0M467.1 69.7h0M468.6 65.8h0M465.3 66.4h0M464.9 64.6h0M466.5 82.1h0M467.4 78.7h0M466.4 73.6h0M466.2 63.6h0M469.2 51.6h0M462.3 75.6h0M466.0 64.1h0M459.2 72.1h0M463.7 64.3h0M463.6 63.6h0M464.7 65.9h0M457.7 73.7h0M459.8 56.5h0M468.1 67.3h0M467.4 62.2h0M465.8 65.1h0M470.6 64.8h0M462.9 74.9h0M459.9 77.8h0M468.8 72.3h0M469.4 78.3h0M465.4 73.8h0M469.9 72.7h0M470.1 67.1h0M462.9 60.7h0M460.9 78.0h0M471.0 79.7h0M462.6 64.1h0M459.5 68.9h0M461.8 74.9h0M463.5 63.6h0M460.5 61.8h0M471.9 74.5h0M464.0 66.1h0M470.5 82.8h0M459.5 72.0h0M464.8 70.2h0M454.5 72.2h0M461.6 62.8h0M470.2 64.7h0M458.1 56.6h0M459.7 70.5h0M464.2 65.0h0M467.1 78.1h0M459.9 78.3h0M469.0 67.5h0M470.6 77.4h0M467.8 79.3h0M465.8 72.9h0M471.5 65.1h0M465.5 75.8h0M458.0 64.7h0M468.5 73.9h0M462.9 63.7h0M468.1 65.1h0M467.0 65.8h0M461.1 78.6h0M455.9 59.5h0M471.1 66.3h0M468.0 71.0h0M466.8 63.8h0M466.3 57.9h0M465.6 70.5h0M464.0 64.2h0M464.0 73.1h0M466.7 77.2h0M462.2 73.2h0M467.4 71.9h0M465.5 82.4h0M467.0 71.1h0M467.0 65.0h0M470.1 78.6h0M460.1 67.8h0M457.5 69.6h0M461.8 68.4h0M468.9 62.2h0M469.6 66.9h0M469.9 67.0h0M461.3 79.3h0M460.5 74.4h0M468.3 65.9h0M471.0 70.2h0M462.7 63.9h0M467.4 74.2h0M469.1 78.0h0M464.3 77.8h0M468.0 71.9h0M470.3 79.6h0M462.0 89.0h0M466.3 70.7h0M466.2 60.8h0M461.4 73.8h0M459.6 71.5h0M468.1 68.2h0M465.1 63.0h0M461.8 71.5h0M462.8 62.3h0M468.1 68.1h0M472.3 73.1h0M467.6 64.9h0M464.6 63.3h0M470.4 80.4h0M471.9 70.6h0M470.0 73.3h0M464.8 66.7h0M462.7 56.2h0M464.5 65.9h0M458.8 60.8h0M466.1 70.5h0M465.6 72.0h0M465.7 63.8h0M462.6 67.9h0M464.2 74.5h0M458.6 75.2h0M466.3 83.7h0M468.9 66.6h0M463.4 73.9h0M465.2 67.6h0M459.6 56.9h0M464.7 68.9h0M465.6 69.5h0M466.2 74.7h0M457.7 76.5h0M456.6 67.2h0M463.5 70.3h0M464.6 69.3h0M462.7 73.5h0M463.6 71.5h0M463.0 58.1h0M462.2 77.1h0M465.0 65.3h0M464.2 68.9h0M467.0 74.9h0M467.7 68.5h0M464.2 65.8h0M468.7 78.7h0M458.1 74.0h0M464.6 65.6h0M464.9 78.0h0M464.3 69.4h0M468.4 79.8h0M464.1 57.8h0M464.9 66.2h0M466.3 73.3h0M468.4 68.8h0M461.3 69.4h0M470.5 82.6h0M469.1 74.4h0M463.6 68.9h0M468.2 65.3h0M465.1 67.6h0M460.5 68.7h0M468.3 73.8h0M468.1 72.8h0M463.5 69.0h0M467.8 74.1h0M465.0 68.0h0M472.0 80.9h0M468.1 62.0h0M471.7 59.9h0M464.3 72.0h0M468.4 59.7h0M461.3 74.4h0M469.3 57.5h0M468.3 72.2h0M460.6 62.0h0M470.1 78.4h0M468.4 71.2h0M461.1 63.7h0M468.6 82.5h0M468.9 74.8h0M472.3 77.3h0M470.6 76.0h0M472.4 64.1h0M470.5 67.7h0M458.6 69.4h0M465.4 84.3h0M469.5 75.3h0M468.4 63.1h0M461.0 69.5h0M464.0 69.8h0M465.4 79.6h0M472.5 72.1h0M460.2 63.9h0M463.3 70.8h0M466.5 66.9h0M463.4 55.4h0M464.6 71.5h0M468.9 63.9h0M468.4 78.5h0M467.0 63.7h0M467.2 75.3h0M469.8 65.3h0M466.8 65.5h0M467.5 67.1h0M460.8 76.4h0M466.7 71.7h0M469.3 73.4h0M468.6 69.2h0M460.6 67.9h0M467.2 66.4h0M458.1 68.8h0M466.4 71.9h0M468.6 75.1h0M468.1 76.0h0M469.1 59.8h0M458.3 63.8h0M460.6 67.1h0M463.4 74.7h0M463.9 59.7h0M463.6 73.6h0M468.7 68.2h0M469.3 65.7h0M463.8 74.1h0M469.7 61.6h0M462.7 77.2h0M465.3 71.3h0M465.0 58.0h0M464.4 68.0h0M465.8 63.3h0M463.4 76.9h0M465.9 68.0h0M470.4 64.3h0M459.3 63.6h0M470.3 82.8h0M464.5 75.4h0M459.8 66.5h0M465.2 63.5h0M462.7 68.1h0M461.9 73.0h0M468.1 59.3h0M467.0 67.4h0M466.4 61.5h0M469.2 75.6h0M467.8 93.5h0M456.9 73.9h0M460.2 72.8h0M468.4 69.7h0M464.1 51.5h0M462.1 77.9h0M462.2 79.2h0M462.9 71.1h0M468.2 68.8h0M453.3 76.9h0M465.4 73.0h0M468.5 77.3h0M461.4 65.3h0M467.5 65.3h0M471.6 80.8h0M465.4 84.1h0M472.7 79.9h0M466.4 70.1h0M463.4 67.4h0M460.2 69.8h0M467.9 60.9h0M465.8 70.9h0M464.2 76.0h0M463.9 80.4h0M464.2 74.2h0M464.6 69.6h0M471.2 72.0h0M468.7 73.5h0M464.7 65.7h0M466.7 75.7h0M465.8 74.1h0M459.9 63.9h0M464.1 68.5h0M463.8 76.0h0M460.4 67.2h0M463.3 75.2h0M465.4 58.9h0M461.9 61.2h0M467.6 73.7h0M467.5 69.6h0M461.8 69.8h0M471.1 72.8h0M466.0 81.7h0M461.4 74.2h0M465.1 76.5h0M462.3 79.8h0M472.1 70.7h0M465.6 67.1h0M470.5 72.2h0M466.7 61.9h0M460.5 72.6h0M469.3 68.2h0M469.2 72.2h0M461.1 80.0h0M464.8 66.0h0M456.0 63.8h0M460.8 66.6h0M463.7 70.4h0M463.2 67.5h0M472.0 79.2h0M465.9 69.0h0M471.3 63.8h0M462.7 77.8h0M462.3 71.6h0M466.9 68.2h0M464.2 75.0h0M464.8 72.4h0M460.5 72.4h0M464.2 61.8h0M465.1 64.1h0M455.2 78.1h0M462.2 64.1h0M458.3 69.1h0M467.4 64.1h0M464.2 67.0h0M467.6 81.5h0M464.3 78.5h0M460.1 66.0h0M465.9 75.5h0M468.5 85.5h0M465.2 64.4h0M463.6 66.3h0M460.3 82.7h0M459.6 50.3h0M470.9 69.9h0M466.8 74.7h0M470.1 70.1h0M469.5 61.3h0M464.4 61.8h0M468.5 72.9h0M466.7 73.6h0M470.4 64.1h0M462.2 71.3h0M463.5 59.7h0M463.8 66.1h0M458.2 74.1h0M459.9 64.9h0M467.7 75.7h0M464.1 67.6h0M467.7 70.0h0M466.8 68.7h0M468.8 71.7h0M464.9 61.9h0M466.9 70.3h0M465.0 63.9h0M470.0 74.2h0M470.6 68.3h0M462.6 73.7h0M467.5 80.0h0M469.5 85.9h0M470.1 57.4h0M464.3 79.2h0M464.6 72.9h0M466.6 66.6h0M471.1 71.7h0M467.6 69.4h0M463.3 80.9h0M468.6 75.7h0M469.8 63.0h0M468.7 68.8h0M465.3 71.7h0M466.2 70.5h0M466.2 69.4h0M465.2 64.9h0M469.1 71.8h0M470.5 73.3h0M460.6 65.7h0M465.5 82.0h0M463.5 69.4h0M465.0 71.5h0M456.2 59.0h0M466.3 69.3h0M463.2 77.6h0M470.4 59.2h0M467.8 71.7h0M464.8 73.9h0M465.9 74.9h0M462.8 55.1h0M469.1 80.0h0M463.9 69.2h0M463.9 71.4h0M463.2 70.6h0M467.9 69.7h0M470.0 67.8h0M468.8 70.0h0M467.4 68.1h0M467.7 67.6h0M467.1 73.5h0M463.8 70.5h0M470.2 64.0h0M460.0 65.6h0M466.9 72.6h0M462.8 71.5h0M462.5 72.0h0M466.7 64.6h0M467.7 71.1h0M465.4 77.9h0M465.8 69.5h0M471.1 68.7h0M463.6 74.2h0M468.2 76.2h0M467.0 74.0h0M471.4 71.9h0M466.5 68.7h0M463.6 71.4h0M466.7 57.7h0M471.0 67.4h0M469.3 67.8h0M461.9 74.0h0M465.4 75.0h0M456.5 67.4h0M467.8 83.8h0M464.0 79.5h0M464.5 61.4h0M468.5 62.9h0M459.0 68.6h0M464.1 81.8h0M464.8 70.1h0M470.5 71.0h0M459.3 67.0h0M468.4 63.8h0M466.7 73.4h0M459.8 66.2h0M472.4 65.8h0M464.7 69.6h0M465.4 67.1h0M471.4 69.5h0M463.9 76.0h0M464.2 67.2h0M459.8 57.8h0M462.7 71.6h0M462.2 64.8h0M464.9 79.1h0M471.5 81.9h0M467.2 78.4h0M465.1 74.3h0M466.5 74.4h0M464.0 72.8h0M464.2 74.7h0M466.1 60.7h0M472.3 75.7h0M469.8 68.2h0M467.4 81.7h0M462.2 65.8h0M461.9 60.8h0M462.1 71.5h0M470.8 76.5h0M464.8 72.8h0M466.1 68.6h0M464.9 63.7h0M460.6 71.5h0M462.8 69.3h0M460.7 68.4h0M465.0 65.4h0M464.1 59.1h0M463.7 73.2h0M466.4 64.6h0M467.4 76.4h0M471.7 61.8h0M464.1 79.5h0M464.4 68.4h0M463.1 75.9h0M468.0 71.4h0M463.3 78.6h0M470.7 75.7h0M465.4 74.1h0M463.0 70.1h0M467.4 78.1h0M470.5 61.6h0M470.5 84.7h0M465.5 70.3h0M469.7 63.2h0M464.7 79.5h0M470.2 65.9h0M472.3 72.3h0M467.9 71.4h0M460.7 70.4h0M461.8 70.7h0M468.1 78.1h0M463.7 61.3h0M469.0 67.2h0M465.8 71.7h0M469.6 75.0h0M471.9 71.0h0M461.8 65.6h0M471.5 68.1h0M467.2 74.5h0M466.0 57.6h0M472.2 77.0h0M470.2 74.6h0M463.1 68.1h0M465.2 68.9h0M466.7 63.5h0M462.7 57.8h0M466.3 67.1h0M458.9 64.1h0M465.2 79.3h0M464.8 60.0h0M465.5 82.2h0M467.5 76.5h0M468.8 62.2h0M465.9 65.3h0M468.2 65.7h0M466.6 73.2h0M465.5 67.0h0M470.7 69.5h0M466.9 60.8h0M464.2 64.2h0M470.8 68.3h0M466.2 77.7h0M463.2 83.4h0M468.4 65.9h0M461.3 57.2h0M470.4 75.9h0M457.1 63.5h0M465.8 68.8h0M466.6 65.8h0M462.4 70.5h0M463.2 61.6h0M464.7 67.2h0M461.0 61.7h0M465.9 65.2h0M463.3 61.7h0M465.3 67.9h0M462.8 70.5h0M460.5 64.5h0M466.2 68.5h0M467.0 72.7h0M471.4 84.0h0M461.9 69.0h0M464.6 79.3h0M464.6 70.3h0M458.7 58.0h0M464.6 67.1h0M465.6 54.0h0M464.8 81.2h0M467.7 85.0h0M469.7 65.9h0M465.1 71.0h0M471.1 62.9h0M467.9 80.2h0M464.4 68.0h0M465.7 76.7h0M465.8 69.9h0M462.3 71.9h0M465.4 60.7h0M465.3 78.4h0M471.6 73.0h0M457.5 65.2h0M466.5 74.8h0M470.1 69.9h0M464.0 63.0h0M462.7 70.2h0M465.7 61.3h0M470.1 76.7h0M463.2 74.0h0M468.0 64.1h0M468.1 71.8h0M468.7 75.1h0M466.4 75.7h0M466.6 78.7h0M466.4 64.1h0M471.4 65.1h0M469.1 68.3h0M470.9 63.4h0M461.7 79.4h0M464.9 68.3h0M465.3 73.4h0M466.4 60.1h0M470.2 61.5h0M469.7 71.9h0M467.0 62.4h0M468.9 65.9h0M460.7 66.4h0M468.8 71.9h0M468.3 71.3h0M466.3 76.9h0M463.1 68.6h0M466.1 78.3h0M466.1 65.4h0M463.4 77.0h0M468.7 64.9h0M464.7 65.6h0M458.8 70.0h0M464.7 64.9h0M467.4 72.3h0M467.9 76.5h0M468.6 66.0h0M462.4 66.9h0M465.2 73.6h0M463.9 77.8h0M455.7 73.9h0M463.6 62.2h0M462.3 70.0h0M464.1 74.4h0M463.0 70.9h0M464.0 78.2h0M469.8 69.9h0M459.9 67.6h0M463.4 77.9h0M468.6 69.0h0M460.5 73.2h0M471.0 78.4h0M467.3 67.3h0M465.8 79.8h0M461.0 74.4h0M467.7 62.4h0M464.1 76.9h0M470.1 73.3h0M470.1 73.1h0M469.0 76.7h0M457.9 68.0h0M468.1 69.1h0M463.0 73.4h0M464.0 72.8h0M470.5 77.1h0M464.7 71.9h0M463.5 62.5h0M465.6 71.6h0M465.1 63.7h0M468.9 70.8h0M465.6 72.7h0M465.0 67.8h0M469.6 71.3h0M463.5 70.8h0M462.1 73.9h0M470.7 67.3h0M462.5 52.2h0M469.3 65.4h0M470.5 74.4h0M471.1 65.8h0M467.1 71.3h0M470.5 76.3h0M469.9 84.9h0M470.0 74.0h0M461.0 57.2h0M464.7 48.0h0M469.6 74.5h0M472.2 83.1h0M462.3 70.8h0M465.3 73.2h0M469.8 77.5h0M460.6 72.9h0M463.2 67.4h0M466.9 75.1h0M466.8 69.8h0M460.1 62.5h0M469.9 65.6h0M468.8 66.8h0M468.5 68.5h0M468.9 79.7h0M472.4 77.2h0M471.1 70.7h0M461.8 66.1h0M462.6 69.0h0M467.1 71.9h0M464.1 77.4h0M461.9 66.7h0M465.2 79.7h0M453.6 76.8h0M463.3 71.5h0M461.6 58.2h0M472.7 76.2h0M467.0 80.5h0M468.9 68.6h0M464.9 75.5h0M466.7 80.6h0M467.9 76.0h0M461.8 75.2h0M464.1 55.3h0M466.1 74.3h0M465.4 83.3h0M470.3 64.3h0M469.2 61.0h0M468.7 77.2h0M460.9 68.7h0M463.9 72.2h0M456.0 67.6h0M464.1 67.8h0M462.9 65.8h0M465.0 62.4h0M459.6 64.3h0M464.4 65.4h0M455.2 73.8h0M468.7 64.1h0M469.9 70.7h0M463.5 68.9h0M468.0 67.4h0M461.5 78.4h0M463.5 71.3h0M467.7 68.4h0M464.3 73.3h0M466.6 64.8h0M463.4 66.0h0M464.0 75.2h0M469.0 66.6h0M470.1 66.1h0M468.9 66.6h0M460.1 63.1h0M470.7 81.9h0M469.0 72.7h0M464.7 67.4h0M468.1 68.9h0M466.1 67.6h0M467.4 73.4h0M467.3 65.8h0M463.4 66.8h0M471.3 83.6h0M461.9 72.1h0M465.6 66.1h0M470.8 72.7h0M471.3 80.1h0M463.8 75.3h0M465.3 75.0h0M465.9 74.7h0M460.9 61.8h0M462.3 65.4h0M465.0 63.2h0M465.6 72.6h0M467.9 68.0h0M463.2 62.2h0M462.0 71.8h0M467.3 72.4h0M461.0 77.7h0M467.6 64.8h0M462.5 68.2h0M461.9 85.6h0M470.7 69.4h0M459.3 81.3h0M462.1 70.5h0M462.3 62.3h0M463.2 69.0h0M462.9 72.8h0M467.3 65.6h0M466.1 77.6h0M462.9 77.6h0M467.6 67.4h0M465.7 74.3h0M463.8 66.2h0M462.2 68.8h0M461.0 69.0h0M466.9 75.2h0M469.6 56.9h0M470.5 67.8h0M467.6 65.7h0M466.5 66.1h0M466.2 73.9h0M466.0 60.9h0M465.7 53.7h0M472.6 67.7h0M463.4 58.6h0M463.6 72.3h0M465.0 74.5h0M469.3 83.0h0M459.1 66.3h0M468.0 74.4h0M458.7 69.5h0M464.9 60.0h0M459.8 77.5h0M471.8 57.3h0M471.7 63.5h0M467.4 68.6h0M465.7 76.4h0M469.5 75.3h0M465.4 74.2h0M462.4 75.8h0M464.1 72.5h0M462.8 71.3h0M459.9 60.4h0M471.5 64.6h0M465.6 66.8h0M471.6 62.4h0M467.7 67.1h0M471.2 61.5h0M461.1 79.3h0M469.7 70.9h0M468.5 74.6h0M466.0 70.9h0M464.2 76.5h0M463.2 68.6h0M466.1 70.1h0M468.6 71.7h0M463.2 65.6h0M458.9 70.8h0M464.9 77.7h0M466.2 71.5h0M468.7 68.4h0M468.5 69.4h0M466.9 70.4h0M469.2 74.8h0M467.5 79.5h0M468.3 79.2h0M462.0 67.6h0M466.1 65.2h0M468.6 66.8h0M461.7 60.5h0M465.3 77.5h0M457.3 64.6h0M469.2 60.4h0M461.5 71.2h0M468.6 56.8h0M471.2 69.0h0M461.2 56.2h0M467.2 72.7h0M463.7 56.0h0M463.8 75.7h0M465.9 66.8h0M463.0 71.0h0M466.8 69.2h0M460.3 73.9h0M467.5 65.6h0M466.3 75.4h0M470.3 69.3h0M456.5 64.2h0M462.8 57.5h0M461.9 62.8h0M463.1 81.6h0M468.3 83.3h0M461.6 67.6h0M463.6 78.8h0M462.9 71.0h0M466.8 77.7h0M456.6 63.3h0M471.9 84.1h0M464.1 82.2h0M456.1 75.8h0M468.3 66.6h0M466.6 61.7h0M456.5 66.5h0M465.6 81.8h0M461.4 76.5h0M469.2 78.5h0M465.4 70.0h0M462.4 71.1h0M464.5 76.2h0M465.0 68.5h0M468.3 70.6h0M465.0 74.4h0M465.5 62.1h0M461.9 60.3h0M467.3 69.8h0M465.7 64.4h0M469.9 68.0h0M470.5 76.6h0M463.5 64.6h0M465.1 83.0h0M470.3 77.0h0M464.4 72.3h0M466.3 64.0h0M463.7 71.1h0M468.9 76.9h0M462.2 70.4h0M469.1 62.4h0M461.4 73.6h0M467.1 72.9h0M463.7 62.2h0M467.3 83.2h0M453.6 59.7h0M464.4 63.9h0M469.3 74.1h0M464.6 77.0h0M466.7 69.6h0M460.9 61.2h0M464.5 78.5h0M470.5 65.8h0M470.9 77.9h0M471.8 70.1h0M465.7 68.5h0M461.6 70.1h0M464.7 74.8h0M468.3 73.1h0M464.6 74.6h0M462.7 70.5h0M466.5 79.2h0M466.1 70.2h0M470.0 62.9h0M469.3 67.5h0M465.1 74.8h0M470.7 72.9h0M465.1 69.1h0M467.3 73.2h0M456.9 71.6h0M469.1 67.8h0M458.7 81.2h0M468.6 66.2h0M468.7 84.6h0M460.3 79.0h0M460.1 74.3h0M459.0 64.8h0M470.4 56.1h0M469.5 73.8h0M460.7 78.8h0M465.3 70.7h0M456.5 74.4h0M469.1 53.8h0M465.3 66.3h0M463.0 64.7h0M469.9 67.7h0M464.4 84.3h0M470.2 63.3h0M459.2 70.8h0M459.5 70.0h0M467.1 71.9h0M467.7 69.7h0M466.0 63.4h0M466.2 72.7h0M465.8 60.9h0M463.2 65.3h0M464.4 64.6h0M453.2 69.8h0M459.5 68.7h0M469.9 70.0h0M464.6 72.1h0M461.1 64.0h0M463.6 65.7h0M467.7 60.9h0M466.8 74.9h0M463.7 73.5h0M464.6 61.6h0M468.8 64.5h0M469.9 66.6h0M470.1 74.2h0M463.5 74.4h0M465.4 67.2h0M460.7 71.3h0M468.2 72.7h0M464.3 75.7h0M462.6 75.0h0M466.1 83.9h0M463.7 66.0h0M468.5 73.6h0M466.3 68.6h0M460.6 69.3h0M466.4 68.5h0M468.0 68.9h0M469.7 63.5h0M469.4 77.8h0M465.0 82.3h0M464.8 64.6h0M463.5 64.5h0M468.5 78.4h0M467.2 70.0h0M470.4 65.7h0M460.9 77.0h0M463.0 78.7h0M458.0 79.1h0M467.4 83.6h0M465.3 67.5h0M463.6 79.0h0M471.3 67.7h0M464.3 70.7h0M459.8 66.7h0M470.3 67.7h0M460.7 63.6h0M464.8 64.2h0M469.5 72.6h0M470.0 79.4h0M466.6 76.4h0M461.5 55.3h0M472.2 84.0h0M467.6 68.2h0M470.4 78.7h0M458.0 70.3h0M470.9 72.4h0M468.5 76.9h0M462.6 64.0h0M465.6 61.2h0M461.3 64.1h0M467.1 82.1h0M466.7 80.1h0M465.3 70.8h0M459.8 73.2h0M469.7 67.5h0M468.2 79.9h0M463.1 72.2h0M463.0 70.3h0M457.6 74.3h0M463.7 79.2h0M466.7 64.8h0M464.2 69.7h0M462.9 70.3h0M463.4 72.5h0M469.8 73.8h0M470.7 67.3h0M465.6 64.9h0M469.4 83.2h0M466.5 64.6h0M460.2 68.6h0M462.3 70.7h0M467.8 74.1h0M468.5 72.0h0M460.1 72.3h0M461.9 61.0h0M470.0 77.9h0M471.7 71.9h0M465.5 75.6h0M468.6 69.1h0M466.5 68.0h0M467.2 72.1h0M468.3 57.8h0M466.4 64.3h0M468.6 57.2h0M468.4 64.7h0M469.4 77.5h0M466.2 77.1h0M465.1 75.0h0M468.9 72.3h0M470.7 78.7h0M469.7 74.7h0M468.3 76.9h0M468.0 69.9h0M468.0 63.1h0M468.1 75.5h0M461.5 72.2h0M457.7 69.2h0M469.4 85.4h0M468.6 69.9h0M460.9 68.2h0M465.3 63.0h0M466.5 71.4h0M468.3 60.9h0M461.5 78.8h0M471.9 76.3h0M469.2 62.9h0M467.0 73.2h0M470.5 75.2h0M462.1 81.5h0M466.3 72.2h0M465.4 73.4h0M468.3 63.4h0M470.3 71.8h0M467.7 76.9h0M459.9 68.3h0M469.9 73.6h0M467.2 70.5h0M460.7 69.9h0M465.1 76.1h0M465.1 73.8h0M462.5 80.7h0M462.7 70.3h0M468.0 68.3h0M457.6 80.6h0M466.8 68.7h0M468.9 69.2h0M463.7 69.6h0M467.8 73.6h0M465.1 69.4h0M462.7 64.8h0M458.7 64.3h0M465.3 74.0h0M470.7 73.4h0M463.3 78.4h0M458.7 70.7h0M464.3 70.4h0M467.4 74.2h0M464.3 78.8h0M469.3 71.7h0M462.5 66.6h0M464.7 49.6h0M470.0 85.5h0M467.2 68.3h0M470.5 64.2h0M467.2 76.1h0M465.1 74.0h0M470.2 73.5h0M467.7 69.2h0M469.0 71.4h0M468.0 88.7h0M467.9 82.3h0M463.3 87.1h0M472.5 85.5h0M471.0 74.6h0M469.0 82.2h0M472.3 87.6h0M471.2 85.5h0M472.2 66.4h0M470.8 69.1h0M472.5 68.9h0M469.8 55.9h0M470.6 64.7h0M470.3 62.8h0M471.4 69.4h0M471.9 59.4h0M470.9 64.8h0M471.5 52.5h0M471.9 65.7h0M468.7 67.2h0M472.2 52.2h0" stroke="#8e8e8e" stroke-width="1.1" stroke-linecap="round" fill="none" opacity="0.9"/>
<path d="M481.5 69.6h0M474.1 75.1h0M474.6 63.0h0M473.1 68.0h0M476.6 65.4h0M473.0 66.4h0M473.4 69.0h0M475.9 75.1h0M478.4 74.9h0M476.3 68.5h0M473.4 75.4h0M476.4 71.0h0M473.4 74.2h0M473.4 74.6h0M474.0 63.1h0M474.6 69.3h0M473.2 62.1h0M473.7 74.4h0M473.2 71.0h0M475.4 68.4h0M476.6 68.9h0M473.4 63.7h0M472.8 72.7h0M478.5 69.1h0M474.6 74.9h0M474.1 55.5h0M474.8 66.7h0M473.9 69.8h0M476.2 71.8h0M473.5 72.2h0M474.5 57.6h0M479.2 69.1h0M473.5 65.7h0M473.0 67.5h0M473.1 65.8h0M476.6 72.0h0M473.5 67.1h0M473.6 60.7h0M472.9 74.6h0M473.6 74.8h0M475.2 63.1h0M477.1 61.7h0M472.9 75.1h0M473.6 61.6h0M476.8 75.1h0M476.7 58.5h0M476.0 65.7h0M472.9 70.0h0M474.4 66.1h0M475.3 70.8h0M488.2 67.8h0M477.2 65.0h0M474.2 64.6h0M479.4 69.4h0M476.5 68.9h0M486.8 52.8h0M479.4 67.1h0M477.5 71.3h0M478.5 73.1h0M473.1 70.1h0M474.1 71.1h0M483.0 63.7h0M477.0 70.9h0M488.5 47.8h0M475.8 68.0h0M477.8 75.2h0M473.9 69.2h0M480.0 59.2h0M486.8 60.7h0M478.8 69.4h0M490.2 42.6h0M477.2 62.6h0M493.0 42.0h0M476.1 65.9h0M472.9 71.2h0M474.0 69.4h0M479.1 66.6h0M490.1 48.2h0M483.2 58.9h0M483.7 58.2h0M480.7 62.0h0M475.4 62.2h0M479.8 63.1h0M482.0 59.5h0M483.6 58.5h0M479.4 74.1h0M475.7 69.4h0M473.3 69.3h0M478.6 67.5h0M476.6 69.4h0M477.0 70.7h0M485.8 62.3h0M474.6 64.2h0M475.7 70.0h0M489.0 44.5h0M494.3 39.2h0M478.3 67.4h0M479.9 71.5h0M477.8 70.8h0M477.1 63.2h0M479.3 62.8h0M476.0 70.1h0M487.9 54.0h0M478.8 69.8h0M480.3 55.3h0M478.2 74.2h0M478.9 70.5h0M473.6 66.3h0M478.6 55.5h0M472.9 69.4h0M475.9 54.2h0M478.1 53.2h0M478.2 43.8h0M477.6 54.6h0M479.2 67.6h0M480.8 65.5h0M480.4 64.7h0M474.7 58.0h0M477.8 59.2h0M480.7 65.4h0M478.6 59.8h0M475.0 64.7h0M480.9 68.5h0M482.3 52.3h0M481.6 64.2h0M482.9 59.9h0M477.0 72.2h0M483.4 69.1h0M478.9 62.0h0M475.7 56.4h0M473.3 71.2h0M477.9 65.9h0M478.9 62.6h0M473.3 58.5h0M476.6 68.4h0M476.3 69.3h0M473.5 72.1h0M478.7 72.0h0M479.7 51.5h0M475.1 68.1h0M474.2 63.7h0M475.9 70.8h0M477.5 66.7h0M477.8 64.0h0M480.4 64.3h0M476.5 59.2h0M474.8 69.0h0M480.1 65.6h0M476.5 67.3h0M474.3 57.0h0M480.4 65.3h0M474.2 68.8h0M475.0 69.6h0M479.6 69.4h0M482.3 60.1h0M476.0 61.2h0M473.0 70.1h0M476.7 58.7h0M476.8 46.7h0M478.2 72.5h0M480.1 59.0h0M479.4 54.0h0M477.4 52.2h0M475.4 69.2h0M479.2 55.8h0M476.2 63.8h0M477.0 69.3h0M474.7 40.1h0M475.3 68.4h0M478.8 64.3h0M480.0 73.7h0M475.4 63.8h0M476.7 54.1h0" stroke="#5cbcf0" stroke-width="1.1" stroke-linecap="round" fill="none" opacity="0.85"/>
<path d="M476.6 77.2h0M475.5 77.2h0M474.2 76.2h0M474.3 76.9h0M474.7 76.7h0M473.8 82.1h0M474.2 80.0h0M478.1 75.6h0M472.9 75.6h0M473.6 83.2h0M477.8 82.3h0M476.6 76.0h0M478.7 78.3h0M473.3 83.8h0M476.8 77.0h0M474.1 79.0h0M475.4 79.7h0M477.4 77.3h0M473.9 81.8h0M473.5 78.3h0M472.8 77.2h0M474.6 79.1h0M478.3 78.5h0M481.2 78.6h0M481.7 77.0h0M474.7 75.9h0M481.4 81.5h0M474.7 80.0h0M477.7 91.5h0M477.9 80.5h0M475.5 82.1h0M475.0 82.0h0M483.0 83.5h0M479.3 91.6h0M481.3 83.1h0M488.5 79.7h0M475.8 77.2h0M483.5 89.5h0M477.1 79.2h0M483.5 83.2h0M484.5 81.3h0M479.1 85.7h0M480.0 80.4h0M483.0 81.8h0M486.8 84.6h0M479.8 76.9h0M479.2 82.3h0" stroke="#f6c570" stroke-width="1.1" stroke-linecap="round" fill="none" opacity="0.85"/>
<rect x="421.20" y="22.40" width="92.00" height="83.10" fill="none" stroke="#231f20" stroke-width="1.2"/>
<line x1="472.70" y1="22.40" x2="472.70" y2="105.50" stroke="#111" stroke-width="1.0" stroke-dasharray="4.3 3.8" stroke-dashoffset="2"/>
<line x1="421.20" y1="75.50" x2="513.20" y2="75.50" stroke="#111" stroke-width="1.0" stroke-dasharray="4.3 3.8" stroke-dashoffset="1.1"/>
<line x1="425.80" y1="105.50" x2="425.80" y2="108.00" stroke="#231f20" stroke-width="0.8"/>
<text x="425.80" y="117.80" font-size="6.4" fill="#231f20" text-anchor="middle">−2</text>
<line x1="446.40" y1="105.50" x2="446.40" y2="108.00" stroke="#231f20" stroke-width="0.8"/>
<text x="446.40" y="117.80" font-size="6.4" fill="#231f20" text-anchor="middle">−1</text>
<line x1="467.00" y1="105.50" x2="467.00" y2="108.00" stroke="#231f20" stroke-width="0.8"/>
<text x="467.00" y="117.80" font-size="6.4" fill="#231f20" text-anchor="middle">0</text>
<line x1="487.60" y1="105.50" x2="487.60" y2="108.00" stroke="#231f20" stroke-width="0.8"/>
<text x="487.60" y="117.80" font-size="6.4" fill="#231f20" text-anchor="middle">1</text>
<line x1="508.20" y1="105.50" x2="508.20" y2="108.00" stroke="#231f20" stroke-width="0.8"/>
<text x="508.20" y="117.80" font-size="6.4" fill="#231f20" text-anchor="middle">2</text>
<line x1="418.70" y1="26.00" x2="421.20" y2="26.00" stroke="#231f20" stroke-width="0.8"/>
<text x="417.20" y="28.20" font-size="6.4" fill="#231f20" text-anchor="end">3</text>
<line x1="418.70" y1="41.30" x2="421.20" y2="41.30" stroke="#231f20" stroke-width="0.8"/>
<text x="417.20" y="43.50" font-size="6.4" fill="#231f20" text-anchor="end">2</text>
<line x1="418.70" y1="56.60" x2="421.20" y2="56.60" stroke="#231f20" stroke-width="0.8"/>
<text x="417.20" y="58.80" font-size="6.4" fill="#231f20" text-anchor="end">1</text>
<line x1="418.70" y1="72.00" x2="421.20" y2="72.00" stroke="#231f20" stroke-width="0.8"/>
<text x="417.20" y="74.20" font-size="6.4" fill="#231f20" text-anchor="end">0</text>
<line x1="418.70" y1="87.30" x2="421.20" y2="87.30" stroke="#231f20" stroke-width="0.8"/>
<text x="417.20" y="89.50" font-size="6.4" fill="#231f20" text-anchor="end">−1</text>
<line x1="418.70" y1="102.60" x2="421.20" y2="102.60" stroke="#231f20" stroke-width="0.8"/>
<text x="417.20" y="104.80" font-size="6.4" fill="#231f20" text-anchor="end">−2</text>
<path d="M426.0 26.6h0" stroke="#8f8f8f" stroke-width="1.6" stroke-linecap="round" fill="none" opacity="1.0"/>
<path d="M426.0 33.3h0" stroke="#f3b24a" stroke-width="1.6" stroke-linecap="round" fill="none" opacity="1.0"/>
<path d="M426.0 40.2h0" stroke="#5aaee8" stroke-width="1.6" stroke-linecap="round" fill="none" opacity="1.0"/>
<text x="429.00" y="28.30" font-size="5.0" fill="#444">n.s.</text>
<text x="429.00" y="35.00" font-size="5.0" fill="#444" textLength="41" lengthAdjust="spacingAndGlyphs">High in HD HSPC</text>
<text x="429.00" y="41.90" font-size="5.0" fill="#444" textLength="20" lengthAdjust="spacingAndGlyphs">Selected</text>
<text x="482.20" y="44.40" font-size="5.2" fill="#231f20" font-style="italic" textLength="19.3" lengthAdjust="spacingAndGlyphs">LGALS1</text>
<line x1="481.50" y1="43.00" x2="479.50" y2="41.50" stroke="#222" stroke-width="0.5"/>
<path d="M479.5 41.5h0" stroke="#222" stroke-width="1.2" stroke-linecap="round" fill="none" opacity="1.0"/>
<text x="478.10" y="51.60" font-size="5.2" fill="#231f20" font-style="italic" textLength="16.3" lengthAdjust="spacingAndGlyphs">ITGA4</text>
<line x1="477.50" y1="50.50" x2="476.00" y2="52.00" stroke="#222" stroke-width="0.5"/>
<path d="M476.0 52.0h0" stroke="#222" stroke-width="1.2" stroke-linecap="round" fill="none" opacity="1.0"/>
<text x="492.40" y="64.80" font-size="5.2" fill="#231f20" font-style="italic" textLength="12.2" lengthAdjust="spacingAndGlyphs">CD44</text>
<line x1="491.50" y1="62.50" x2="485.00" y2="57.50" stroke="#222" stroke-width="0.5"/>
<path d="M485.0 57.5h0" stroke="#222" stroke-width="1.2" stroke-linecap="round" fill="none" opacity="1.0"/>
<text x="164.90" y="63.80" font-size="9.2" fill="#231f20" text-anchor="middle" textLength="62.5" lengthAdjust="spacingAndGlyphs" transform="rotate(-90 164.90 63.80)">Log2(FC) HSPC-like vs</text>
<text x="173.70" y="64.90" font-size="9.2" fill="#231f20" text-anchor="middle" textLength="23.8" lengthAdjust="spacingAndGlyphs" transform="rotate(-90 173.70 64.90)">HD HSPC</text>
<text x="352.20" y="129.50" font-size="9.2" fill="#231f20" text-anchor="middle" textLength="101.5" lengthAdjust="spacingAndGlyphs" stroke="#231f20" stroke-width="0.12">Log2(FC) HSPC-like vs lineage-like</text>
<text x="7.30" y="150.10" font-size="10.2" fill="#000" font-weight="bold" stroke="#000" stroke-width="0.35">E</text>
<rect x="40.90" y="157.15" width="8.12" height="5.09" fill="#6b5aa6"/>
<rect x="48.97" y="157.15" width="8.12" height="5.09" fill="#b5b3d8"/>
<rect x="57.04" y="157.15" width="8.12" height="5.09" fill="#e6e4f1"/>
<rect x="65.11" y="157.15" width="8.12" height="5.09" fill="#e3f2dd"/>
<rect x="73.18" y="157.15" width="8.12" height="5.09" fill="#b4ddab"/>
<rect x="81.25" y="157.15" width="8.12" height="5.09" fill="#6fbc74"/>
<rect x="89.32" y="157.15" width="8.12" height="5.09" fill="#258a42"/>
<rect x="97.39" y="157.15" width="8.12" height="5.09" fill="#fdac6d"/>
<rect x="105.46" y="157.15" width="8.12" height="5.09" fill="#f98b3d"/>
<rect x="113.53" y="157.15" width="8.12" height="5.09" fill="#e2540f"/>
<rect x="121.60" y="157.15" width="8.12" height="5.09" fill="#a93b06"/>
<line x1="33.40" y1="159.69" x2="36.20" y2="159.69" stroke="#231f20" stroke-width="0.8"/>
<text x="30.80" y="161.59" font-size="5.3" fill="#231f20" text-anchor="end" font-style="italic">FLT3</text>
<rect x="40.90" y="162.74" width="8.12" height="5.09" fill="#6b5aa6"/>
<rect x="48.97" y="162.74" width="8.12" height="5.09" fill="#b5b3d8"/>
<rect x="57.04" y="162.74" width="8.12" height="5.09" fill="#e6e4f1"/>
<rect x="65.11" y="162.74" width="8.12" height="5.09" fill="#e3f2dd"/>
<rect x="73.18" y="162.74" width="8.12" height="5.09" fill="#b4ddab"/>
<rect x="81.25" y="162.74" width="8.12" height="5.09" fill="#6fbc74"/>
<rect x="89.32" y="162.74" width="8.12" height="5.09" fill="#258a42"/>
<rect x="97.39" y="162.74" width="8.12" height="5.09" fill="#fde7d3"/>
<rect x="105.46" y="162.74" width="8.12" height="5.09" fill="#fdac6d"/>
<rect x="113.53" y="162.74" width="8.12" height="5.09" fill="#e2540f"/>
<rect x="121.60" y="162.74" width="8.12" height="5.09" fill="#a93b06"/>
<line x1="33.40" y1="165.28" x2="36.20" y2="165.28" stroke="#231f20" stroke-width="0.8"/>
<text x="30.80" y="167.18" font-size="5.3" fill="#231f20" text-anchor="end" font-style="italic">BCL2</text>
<rect x="40.90" y="168.32" width="8.12" height="5.09" fill="#b5b3d8"/>
<rect x="48.97" y="168.32" width="8.12" height="5.09" fill="#e6e4f1"/>
<rect x="57.04" y="168.32" width="8.12" height="5.09" fill="#b4ddab"/>
<rect x="65.11" y="168.32" width="8.12" height="5.09" fill="#6fbc74"/>
<rect x="73.18" y="168.32" width="8.12" height="5.09" fill="#258a42"/>
<rect x="81.25" y="168.32" width="8.12" height="5.09" fill="#fdcfa5"/>
<rect x="89.32" y="168.32" width="8.12" height="5.09" fill="#fdac6d"/>
<rect x="97.39" y="168.32" width="8.12" height="5.09" fill="#f98b3d"/>
<rect x="105.46" y="168.32" width="8.12" height="5.09" fill="#e2540f"/>
<line x1="33.40" y1="170.87" x2="36.20" y2="170.87" stroke="#231f20" stroke-width="0.8"/>
<text x="30.80" y="172.77" font-size="5.3" fill="#231f20" text-anchor="end" font-style="italic">TSPO</text>
<rect x="40.90" y="173.91" width="8.12" height="5.09" fill="#6b5aa6"/>
<rect x="48.97" y="173.91" width="8.12" height="5.09" fill="#b4ddab"/>
<rect x="57.04" y="173.91" width="8.12" height="5.09" fill="#6fbc74"/>
<rect x="65.11" y="173.91" width="8.12" height="5.09" fill="#258a42"/>
<rect x="73.18" y="173.91" width="8.12" height="5.09" fill="#fde7d3"/>
<rect x="81.25" y="173.91" width="8.12" height="5.09" fill="#fdcfa5"/>
<rect x="89.32" y="173.91" width="8.12" height="5.09" fill="#fdac6d"/>
<rect x="97.39" y="173.91" width="8.12" height="5.09" fill="#f98b3d"/>
<rect x="105.46" y="173.91" width="8.12" height="5.09" fill="#e2540f"/>
<line x1="33.40" y1="176.45" x2="36.20" y2="176.45" stroke="#231f20" stroke-width="0.8"/>
<text x="30.80" y="178.35" font-size="5.3" fill="#231f20" text-anchor="end" font-style="italic">LGALS1</text>
<rect x="40.90" y="179.49" width="8.12" height="5.09" fill="#b4ddab"/>
<rect x="48.97" y="179.49" width="8.12" height="5.09" fill="#6fbc74"/>
<rect x="57.04" y="179.49" width="8.12" height="5.09" fill="#258a42"/>
<rect x="65.11" y="179.49" width="8.12" height="5.09" fill="#fde7d3"/>
<rect x="73.18" y="179.49" width="8.12" height="5.09" fill="#fdcfa5"/>
<rect x="81.25" y="179.49" width="8.12" height="5.09" fill="#fdac6d"/>
<rect x="89.32" y="179.49" width="8.12" height="5.09" fill="#f98b3d"/>
<rect x="97.39" y="179.49" width="8.12" height="5.09" fill="#e2540f"/>
<rect x="105.46" y="179.49" width="8.12" height="5.09" fill="#a93b06"/>
<line x1="33.40" y1="182.04" x2="36.20" y2="182.04" stroke="#231f20" stroke-width="0.8"/>
<text x="30.80" y="183.94" font-size="5.3" fill="#231f20" text-anchor="end" font-style="italic">CD44</text>
<rect x="40.90" y="185.08" width="8.12" height="5.09" fill="#b5b3d8"/>
<rect x="48.97" y="185.08" width="8.12" height="5.09" fill="#e6e4f1"/>
<rect x="57.04" y="185.08" width="8.12" height="5.09" fill="#b4ddab"/>
<rect x="65.11" y="185.08" width="8.12" height="5.09" fill="#6fbc74"/>
<rect x="73.18" y="185.08" width="8.12" height="5.09" fill="#258a42"/>
<rect x="81.25" y="185.08" width="8.12" height="5.09" fill="#fde7d3"/>
<rect x="89.32" y="185.08" width="8.12" height="5.09" fill="#fdac6d"/>
<rect x="97.39" y="185.08" width="8.12" height="5.09" fill="#e2540f"/>
<rect x="105.46" y="185.08" width="8.12" height="5.09" fill="#a93b06"/>
<line x1="33.40" y1="187.62" x2="36.20" y2="187.62" stroke="#231f20" stroke-width="0.8"/>
<text x="30.80" y="189.52" font-size="5.3" fill="#231f20" text-anchor="end" font-style="italic">CASP3</text>
<rect x="40.90" y="190.67" width="8.12" height="5.09" fill="#b4ddab"/>
<rect x="48.97" y="190.67" width="8.12" height="5.09" fill="#6fbc74"/>
<rect x="57.04" y="190.67" width="8.12" height="5.09" fill="#258a42"/>
<rect x="65.11" y="190.67" width="8.12" height="5.09" fill="#fde7d3"/>
<rect x="73.18" y="190.67" width="8.12" height="5.09" fill="#fdcfa5"/>
<rect x="81.25" y="190.67" width="8.12" height="5.09" fill="#fdac6d"/>
<rect x="89.32" y="190.67" width="8.12" height="5.09" fill="#f98b3d"/>
<rect x="97.39" y="190.67" width="8.12" height="5.09" fill="#e2540f"/>
<line x1="33.40" y1="193.21" x2="36.20" y2="193.21" stroke="#231f20" stroke-width="0.8"/>
<text x="30.80" y="195.11" font-size="5.3" fill="#231f20" text-anchor="end" font-style="italic">TGFB1</text>
<rect x="40.90" y="196.25" width="8.12" height="5.09" fill="#6b5aa6"/>
<rect x="48.97" y="196.25" width="8.12" height="5.09" fill="#6fbc74"/>
<rect x="57.04" y="196.25" width="8.12" height="5.09" fill="#258a42"/>
<rect x="65.11" y="196.25" width="8.12" height="5.09" fill="#fde7d3"/>
<rect x="73.18" y="196.25" width="8.12" height="5.09" fill="#fdcfa5"/>
<rect x="81.25" y="196.25" width="8.12" height="5.09" fill="#fdac6d"/>
<rect x="89.32" y="196.25" width="8.12" height="5.09" fill="#f98b3d"/>
<rect x="97.39" y="196.25" width="8.12" height="5.09" fill="#e2540f"/>
<line x1="33.40" y1="198.80" x2="36.20" y2="198.80" stroke="#231f20" stroke-width="0.8"/>
<text x="30.80" y="200.70" font-size="5.3" fill="#231f20" text-anchor="end" font-style="italic">S100A4</text>
<rect x="40.90" y="201.84" width="8.12" height="5.09" fill="#b4ddab"/>
<rect x="48.97" y="201.84" width="8.12" height="5.09" fill="#6fbc74"/>
<rect x="57.04" y="201.84" width="8.12" height="5.09" fill="#258a42"/>
<rect x="65.11" y="201.84" width="8.12" height="5.09" fill="#fde7d3"/>
<rect x="73.18" y="201.84" width="8.12" height="5.09" fill="#fdcfa5"/>
<rect x="81.25" y="201.84" width="8.12" height="5.09" fill="#fdac6d"/>
<rect x="89.32" y="201.84" width="8.12" height="5.09" fill="#e2540f"/>
<rect x="97.39" y="201.84" width="8.12" height="5.09" fill="#a93b06"/>
<line x1="33.40" y1="204.38" x2="36.20" y2="204.38" stroke="#231f20" stroke-width="0.8"/>
<text x="30.80" y="206.28" font-size="5.3" fill="#231f20" text-anchor="end" font-style="italic">ITGA4</text>
<rect x="40.90" y="207.42" width="8.12" height="5.09" fill="#6b5aa6"/>
<rect x="48.97" y="207.42" width="8.12" height="5.09" fill="#b5b3d8"/>
<rect x="57.04" y="207.42" width="8.12" height="5.09" fill="#e6e4f1"/>
<rect x="65.11" y="207.42" width="8.12" height="5.09" fill="#b4ddab"/>
<rect x="73.18" y="207.42" width="8.12" height="5.09" fill="#6fbc74"/>
<rect x="81.25" y="207.42" width="8.12" height="5.09" fill="#258a42"/>
<rect x="89.32" y="207.42" width="8.12" height="5.09" fill="#e2540f"/>
<rect x="97.39" y="207.42" width="8.12" height="5.09" fill="#a93b06"/>
<line x1="33.40" y1="209.97" x2="36.20" y2="209.97" stroke="#231f20" stroke-width="0.8"/>
<text x="30.80" y="211.87" font-size="5.3" fill="#231f20" text-anchor="end" font-style="italic">IGF1R</text>
<rect x="40.90" y="213.01" width="8.12" height="5.09" fill="#6b5aa6"/>
<rect x="48.97" y="213.01" width="8.12" height="5.09" fill="#b5b3d8"/>
<rect x="57.04" y="213.01" width="8.12" height="5.09" fill="#6fbc74"/>
<rect x="65.11" y="213.01" width="8.12" height="5.09" fill="#258a42"/>
<rect x="73.18" y="213.01" width="8.12" height="5.09" fill="#fde7d3"/>
<rect x="81.25" y="213.01" width="8.12" height="5.09" fill="#fdac6d"/>
<rect x="89.32" y="213.01" width="8.12" height="5.09" fill="#e2540f"/>
<rect x="97.39" y="213.01" width="8.12" height="5.09" fill="#a93b06"/>
<line x1="33.40" y1="215.55" x2="36.20" y2="215.55" stroke="#231f20" stroke-width="0.8"/>
<text x="30.80" y="217.45" font-size="5.3" fill="#231f20" text-anchor="end" font-style="italic">CDK6</text>
<rect x="40.90" y="218.60" width="8.12" height="5.09" fill="#6b5aa6"/>
<rect x="48.97" y="218.60" width="8.12" height="5.09" fill="#b5b3d8"/>
<rect x="57.04" y="218.60" width="8.12" height="5.09" fill="#e6e4f1"/>
<rect x="65.11" y="218.60" width="8.12" height="5.09" fill="#6fbc74"/>
<rect x="73.18" y="218.60" width="8.12" height="5.09" fill="#fde7d3"/>
<rect x="81.25" y="218.60" width="8.12" height="5.09" fill="#fdac6d"/>
<rect x="89.32" y="218.60" width="8.12" height="5.09" fill="#e2540f"/>
<rect x="97.39" y="218.60" width="8.12" height="5.09" fill="#a93b06"/>
<line x1="33.40" y1="221.14" x2="36.20" y2="221.14" stroke="#231f20" stroke-width="0.8"/>
<text x="30.80" y="223.04" font-size="5.3" fill="#231f20" text-anchor="end" font-style="italic">BCR</text>
<rect x="40.90" y="224.18" width="8.12" height="5.09" fill="#6b5aa6"/>
<rect x="48.97" y="224.18" width="8.12" height="5.09" fill="#6fbc74"/>
<rect x="57.04" y="224.18" width="8.12" height="5.09" fill="#258a42"/>
<rect x="65.11" y="224.18" width="8.12" height="5.09" fill="#fde7d3"/>
<rect x="73.18" y="224.18" width="8.12" height="5.09" fill="#fdcfa5"/>
<rect x="81.25" y="224.18" width="8.12" height="5.09" fill="#fdac6d"/>
<rect x="89.32" y="224.18" width="8.12" height="5.09" fill="#e2540f"/>
<rect x="97.39" y="224.18" width="8.12" height="5.09" fill="#a93b06"/>
<line x1="33.40" y1="226.73" x2="36.20" y2="226.73" stroke="#231f20" stroke-width="0.8"/>
<text x="30.80" y="228.63" font-size="5.3" fill="#231f20" text-anchor="end" font-style="italic">ANXA1</text>
<rect x="40.90" y="229.77" width="8.12" height="5.09" fill="#b4ddab"/>
<rect x="48.97" y="229.77" width="8.12" height="5.09" fill="#6fbc74"/>
<rect x="57.04" y="229.77" width="8.12" height="5.09" fill="#258a42"/>
<rect x="65.11" y="229.77" width="8.12" height="5.09" fill="#fde7d3"/>
<rect x="73.18" y="229.77" width="8.12" height="5.09" fill="#fdac6d"/>
<rect x="81.25" y="229.77" width="8.12" height="5.09" fill="#f98b3d"/>
<rect x="89.32" y="229.77" width="8.12" height="5.09" fill="#a93b06"/>
<line x1="33.40" y1="232.31" x2="36.20" y2="232.31" stroke="#231f20" stroke-width="0.8"/>
<text x="30.80" y="234.21" font-size="5.3" fill="#231f20" text-anchor="end" font-style="italic">TFPI</text>
<rect x="40.90" y="235.35" width="8.12" height="5.09" fill="#b5b3d8"/>
<rect x="48.97" y="235.35" width="8.12" height="5.09" fill="#b4ddab"/>
<rect x="57.04" y="235.35" width="8.12" height="5.09" fill="#6fbc74"/>
<rect x="65.11" y="235.35" width="8.12" height="5.09" fill="#258a42"/>
<rect x="73.18" y="235.35" width="8.12" height="5.09" fill="#fdcfa5"/>
<rect x="81.25" y="235.35" width="8.12" height="5.09" fill="#f98b3d"/>
<rect x="89.32" y="235.35" width="8.12" height="5.09" fill="#a93b06"/>
<line x1="33.40" y1="237.90" x2="36.20" y2="237.90" stroke="#231f20" stroke-width="0.8"/>
<text x="30.80" y="239.80" font-size="5.3" fill="#231f20" text-anchor="end" font-style="italic">SELL</text>
<rect x="40.90" y="240.94" width="8.12" height="5.09" fill="#b4ddab"/>
<rect x="48.97" y="240.94" width="8.12" height="5.09" fill="#6fbc74"/>
<rect x="57.04" y="240.94" width="8.12" height="5.09" fill="#258a42"/>
<rect x="65.11" y="240.94" width="8.12" height="5.09" fill="#fde7d3"/>
<rect x="73.18" y="240.94" width="8.12" height="5.09" fill="#fdcfa5"/>
<rect x="81.25" y="240.94" width="8.12" height="5.09" fill="#f98b3d"/>
<rect x="89.32" y="240.94" width="8.12" height="5.09" fill="#a93b06"/>
<line x1="33.40" y1="243.48" x2="36.20" y2="243.48" stroke="#231f20" stroke-width="0.8"/>
<text x="30.80" y="245.38" font-size="5.3" fill="#231f20" text-anchor="end" font-style="italic">RTN4</text>
<rect x="40.90" y="246.53" width="8.12" height="5.09" fill="#e3f2dd"/>
<rect x="48.97" y="246.53" width="8.12" height="5.09" fill="#b4ddab"/>
<rect x="57.04" y="246.53" width="8.12" height="5.09" fill="#6fbc74"/>
<rect x="65.11" y="246.53" width="8.12" height="5.09" fill="#fde7d3"/>
<rect x="73.18" y="246.53" width="8.12" height="5.09" fill="#fdcfa5"/>
<rect x="81.25" y="246.53" width="8.12" height="5.09" fill="#fdac6d"/>
<rect x="89.32" y="246.53" width="8.12" height="5.09" fill="#a93b06"/>
<line x1="33.40" y1="249.07" x2="36.20" y2="249.07" stroke="#231f20" stroke-width="0.8"/>
<text x="30.80" y="250.97" font-size="5.3" fill="#231f20" text-anchor="end" font-style="italic">PIK3R1</text>
<rect x="40.90" y="252.11" width="8.12" height="5.09" fill="#6fbc74"/>
<rect x="48.97" y="252.11" width="8.12" height="5.09" fill="#258a42"/>
<rect x="57.04" y="252.11" width="8.12" height="5.09" fill="#fde7d3"/>
<rect x="65.11" y="252.11" width="8.12" height="5.09" fill="#fdcfa5"/>
<rect x="73.18" y="252.11" width="8.12" height="5.09" fill="#fdac6d"/>
<rect x="81.25" y="252.11" width="8.12" height="5.09" fill="#f98b3d"/>
<rect x="89.32" y="252.11" width="8.12" height="5.09" fill="#a93b06"/>
<line x1="33.40" y1="254.66" x2="36.20" y2="254.66" stroke="#231f20" stroke-width="0.8"/>
<text x="30.80" y="256.56" font-size="5.3" fill="#231f20" text-anchor="end" font-style="italic">NFKBIA</text>
<rect x="40.90" y="257.70" width="8.12" height="5.09" fill="#6b5aa6"/>
<rect x="48.97" y="257.70" width="8.12" height="5.09" fill="#b5b3d8"/>
<rect x="57.04" y="257.70" width="8.12" height="5.09" fill="#e6e4f1"/>
<rect x="65.11" y="257.70" width="8.12" height="5.09" fill="#6fbc74"/>
<rect x="73.18" y="257.70" width="8.12" height="5.09" fill="#258a42"/>
<rect x="81.25" y="257.70" width="8.12" height="5.09" fill="#fde7d3"/>
<rect x="89.32" y="257.70" width="8.12" height="5.09" fill="#f98b3d"/>
<line x1="33.40" y1="260.24" x2="36.20" y2="260.24" stroke="#231f20" stroke-width="0.8"/>
<text x="30.80" y="262.14" font-size="5.3" fill="#231f20" text-anchor="end" font-style="italic">LYN</text>
<rect x="40.90" y="263.28" width="8.12" height="5.09" fill="#6b5aa6"/>
<rect x="48.97" y="263.28" width="8.12" height="5.09" fill="#b5b3d8"/>
<rect x="57.04" y="263.28" width="8.12" height="5.09" fill="#e6e4f1"/>
<rect x="65.11" y="263.28" width="8.12" height="5.09" fill="#b4ddab"/>
<rect x="73.18" y="263.28" width="8.12" height="5.09" fill="#6fbc74"/>
<rect x="81.25" y="263.28" width="8.12" height="5.09" fill="#258a42"/>
<rect x="89.32" y="263.28" width="8.12" height="5.09" fill="#a93b06"/>
<line x1="33.40" y1="265.83" x2="36.20" y2="265.83" stroke="#231f20" stroke-width="0.8"/>
<text x="30.80" y="267.73" font-size="5.3" fill="#231f20" text-anchor="end" font-style="italic">KIT</text>
<rect x="40.90" y="268.87" width="8.12" height="5.09" fill="#b4ddab"/>
<rect x="48.97" y="268.87" width="8.12" height="5.09" fill="#6fbc74"/>
<rect x="57.04" y="268.87" width="8.12" height="5.09" fill="#258a42"/>
<rect x="65.11" y="268.87" width="8.12" height="5.09" fill="#fde7d3"/>
<rect x="73.18" y="268.87" width="8.12" height="5.09" fill="#fdac6d"/>
<rect x="81.25" y="268.87" width="8.12" height="5.09" fill="#e2540f"/>
<rect x="89.32" y="268.87" width="8.12" height="5.09" fill="#a93b06"/>
<line x1="33.40" y1="271.41" x2="36.20" y2="271.41" stroke="#231f20" stroke-width="0.8"/>
<text x="30.80" y="273.31" font-size="5.3" fill="#231f20" text-anchor="end" font-style="italic">CD47</text>
<rect x="40.90" y="274.46" width="8.12" height="5.09" fill="#6b5aa6"/>
<rect x="48.97" y="274.46" width="8.12" height="5.09" fill="#6fbc74"/>
<rect x="57.04" y="274.46" width="8.12" height="5.09" fill="#258a42"/>
<rect x="65.11" y="274.46" width="8.12" height="5.09" fill="#fdac6d"/>
<rect x="73.18" y="274.46" width="8.12" height="5.09" fill="#f98b3d"/>
<rect x="81.25" y="274.46" width="8.12" height="5.09" fill="#e2540f"/>
<rect x="89.32" y="274.46" width="8.12" height="5.09" fill="#a93b06"/>
<line x1="33.40" y1="277.00" x2="36.20" y2="277.00" stroke="#231f20" stroke-width="0.8"/>
<text x="30.80" y="278.90" font-size="5.3" fill="#231f20" text-anchor="end" font-style="italic">CAT</text>
<rect x="40.90" y="280.04" width="8.12" height="5.09" fill="#b5b3d8"/>
<rect x="48.97" y="280.04" width="8.12" height="5.09" fill="#b4ddab"/>
<rect x="57.04" y="280.04" width="8.12" height="5.09" fill="#6fbc74"/>
<rect x="65.11" y="280.04" width="8.12" height="5.09" fill="#258a42"/>
<rect x="73.18" y="280.04" width="8.12" height="5.09" fill="#fde7d3"/>
<rect x="81.25" y="280.04" width="8.12" height="5.09" fill="#fdac6d"/>
<rect x="89.32" y="280.04" width="8.12" height="5.09" fill="#f98b3d"/>
<line x1="33.40" y1="282.59" x2="36.20" y2="282.59" stroke="#231f20" stroke-width="0.8"/>
<text x="30.80" y="284.49" font-size="5.3" fill="#231f20" text-anchor="end" font-style="italic">ALOX5AP</text>
<rect x="40.90" y="285.63" width="8.12" height="5.09" fill="#e6e4f1"/>
<rect x="48.97" y="285.63" width="8.12" height="5.09" fill="#b4ddab"/>
<rect x="57.04" y="285.63" width="8.12" height="5.09" fill="#6fbc74"/>
<rect x="65.11" y="285.63" width="8.12" height="5.09" fill="#258a42"/>
<rect x="73.18" y="285.63" width="8.12" height="5.09" fill="#fde7d3"/>
<rect x="81.25" y="285.63" width="8.12" height="5.09" fill="#e2540f"/>
<rect x="89.32" y="285.63" width="8.12" height="5.09" fill="#a93b06"/>
<line x1="33.40" y1="288.17" x2="36.20" y2="288.17" stroke="#231f20" stroke-width="0.8"/>
<text x="30.80" y="290.07" font-size="5.3" fill="#231f20" text-anchor="end" font-style="italic">ADA</text>
<rect x="40.90" y="291.21" width="8.12" height="5.09" fill="#b4ddab"/>
<rect x="48.97" y="291.21" width="8.12" height="5.09" fill="#6fbc74"/>
<rect x="57.04" y="291.21" width="8.12" height="5.09" fill="#258a42"/>
<rect x="65.11" y="291.21" width="8.12" height="5.09" fill="#fdac6d"/>
<rect x="73.18" y="291.21" width="8.12" height="5.09" fill="#e2540f"/>
<rect x="81.25" y="291.21" width="8.12" height="5.09" fill="#a93b06"/>
<line x1="33.40" y1="293.76" x2="36.20" y2="293.76" stroke="#231f20" stroke-width="0.8"/>
<text x="30.80" y="295.66" font-size="5.3" fill="#231f20" text-anchor="end" font-style="italic">ENG</text>
<rect x="40.90" y="296.80" width="8.12" height="5.09" fill="#b4ddab"/>
<rect x="48.97" y="296.80" width="8.12" height="5.09" fill="#6fbc74"/>
<rect x="57.04" y="296.80" width="8.12" height="5.09" fill="#258a42"/>
<rect x="65.11" y="296.80" width="8.12" height="5.09" fill="#fdcfa5"/>
<rect x="73.18" y="296.80" width="8.12" height="5.09" fill="#e2540f"/>
<rect x="81.25" y="296.80" width="8.12" height="5.09" fill="#a93b06"/>
<line x1="33.40" y1="299.34" x2="36.20" y2="299.34" stroke="#231f20" stroke-width="0.8"/>
<text x="30.80" y="301.24" font-size="5.3" fill="#231f20" text-anchor="end" font-style="italic">EGFL7</text>
<rect x="40.90" y="302.39" width="8.12" height="5.09" fill="#6fbc74"/>
<rect x="48.97" y="302.39" width="8.12" height="5.09" fill="#258a42"/>
<rect x="57.04" y="302.39" width="8.12" height="5.09" fill="#fde7d3"/>
<rect x="65.11" y="302.39" width="8.12" height="5.09" fill="#fdac6d"/>
<rect x="73.18" y="302.39" width="8.12" height="5.09" fill="#e2540f"/>
<rect x="81.25" y="302.39" width="8.12" height="5.09" fill="#a93b06"/>
<line x1="33.40" y1="304.93" x2="36.20" y2="304.93" stroke="#231f20" stroke-width="0.8"/>
<text x="30.80" y="306.83" font-size="5.3" fill="#231f20" text-anchor="end" font-style="italic">CLK1</text>
<rect x="40.90" y="307.97" width="8.12" height="5.09" fill="#6fbc74"/>
<rect x="48.97" y="307.97" width="8.12" height="5.09" fill="#fde7d3"/>
<rect x="57.04" y="307.97" width="8.12" height="5.09" fill="#fdcfa5"/>
<rect x="65.11" y="307.97" width="8.12" height="5.09" fill="#fdac6d"/>
<rect x="73.18" y="307.97" width="8.12" height="5.09" fill="#e2540f"/>
<rect x="81.25" y="307.97" width="8.12" height="5.09" fill="#a93b06"/>
<line x1="33.40" y1="310.51" x2="36.20" y2="310.51" stroke="#231f20" stroke-width="0.8"/>
<text x="30.80" y="312.41" font-size="5.3" fill="#231f20" text-anchor="end" font-style="italic">CD63</text>
<rect x="40.90" y="313.56" width="8.12" height="5.09" fill="#6fbc74"/>
<rect x="48.97" y="313.56" width="8.12" height="5.09" fill="#258a42"/>
<rect x="57.04" y="313.56" width="8.12" height="5.09" fill="#fde7d3"/>
<rect x="65.11" y="313.56" width="8.12" height="5.09" fill="#fdcfa5"/>
<rect x="73.18" y="313.56" width="8.12" height="5.09" fill="#e2540f"/>
<rect x="81.25" y="313.56" width="8.12" height="5.09" fill="#a93b06"/>
<line x1="33.40" y1="316.10" x2="36.20" y2="316.10" stroke="#231f20" stroke-width="0.8"/>
<text x="30.80" y="318.00" font-size="5.3" fill="#231f20" text-anchor="end" font-style="italic">CD34</text>
<rect x="40.90" y="319.14" width="8.12" height="5.09" fill="#b4ddab"/>
<rect x="48.97" y="319.14" width="8.12" height="5.09" fill="#6fbc74"/>
<rect x="57.04" y="319.14" width="8.12" height="5.09" fill="#258a42"/>
<rect x="65.11" y="319.14" width="8.12" height="5.09" fill="#fde7d3"/>
<rect x="73.18" y="319.14" width="8.12" height="5.09" fill="#e2540f"/>
<rect x="81.25" y="319.14" width="8.12" height="5.09" fill="#a93b06"/>
<line x1="33.40" y1="321.69" x2="36.20" y2="321.69" stroke="#231f20" stroke-width="0.8"/>
<text x="30.80" y="323.59" font-size="5.3" fill="#231f20" text-anchor="end" font-style="italic">CASP8</text>
<line x1="36.20" y1="156.40" x2="36.20" y2="325.20" stroke="#231f20" stroke-width="0.9"/>
<line x1="35.80" y1="324.90" x2="130.00" y2="324.90" stroke="#231f20" stroke-width="0.9"/>
<line x1="40.90" y1="324.80" x2="40.90" y2="327.50" stroke="#231f20" stroke-width="0.8"/>
<text x="40.90" y="335.60" font-size="6.4" fill="#231f20" text-anchor="middle">0</text>
<line x1="65.11" y1="324.80" x2="65.11" y2="327.50" stroke="#231f20" stroke-width="0.8"/>
<text x="65.11" y="335.60" font-size="6.4" fill="#231f20" text-anchor="middle">3</text>
<line x1="89.32" y1="324.80" x2="89.32" y2="327.50" stroke="#231f20" stroke-width="0.8"/>
<text x="89.32" y="335.60" font-size="6.4" fill="#231f20" text-anchor="middle">6</text>
<line x1="113.53" y1="324.80" x2="113.53" y2="327.50" stroke="#231f20" stroke-width="0.8"/>
<text x="113.53" y="335.60" font-size="6.4" fill="#231f20" text-anchor="middle">9</text>
<text x="84.70" y="349.30" font-size="8.8" fill="#231f20" text-anchor="middle" textLength="90.5" lengthAdjust="spacingAndGlyphs" stroke="#231f20" stroke-width="0.12">Overall score (DE + databases)</text>
<rect x="109.90" y="238.60" width="4.20" height="4.50" fill="#a93b06"/>
<text x="117.10" y="242.20" font-size="4.2" fill="#333">AML vs Lineage</text>
<rect x="109.90" y="243.05" width="4.20" height="4.50" fill="#e2540f"/>
<text x="117.10" y="246.72" font-size="4.2" fill="#333">AML vs HD HSPC</text>
<rect x="109.90" y="247.50" width="4.20" height="4.50" fill="#f98b3d"/>
<text x="117.10" y="251.24" font-size="4.2" fill="#333">B-ALL vs Lineage</text>
<rect x="109.90" y="251.95" width="4.20" height="4.50" fill="#fdac6d"/>
<text x="117.10" y="255.76" font-size="4.2" fill="#333">B-ALL vs HD HSPC</text>
<rect x="109.90" y="256.40" width="4.20" height="4.50" fill="#fdcfa5"/>
<text x="117.10" y="260.28" font-size="4.2" fill="#333">T-ALL vs Lineage</text>
<rect x="109.90" y="260.85" width="4.20" height="4.50" fill="#fde7d3"/>
<text x="117.10" y="264.80" font-size="4.2" fill="#333">T-ALL vs HS HSPC</text>
<line x1="108.20" y1="240.00" x2="108.20" y2="263.70" stroke="#f0a060" stroke-width="0.6"/>
<text x="103.60" y="251.50" font-size="5.6" fill="#f5b98c" text-anchor="middle" textLength="33" lengthAdjust="spacingAndGlyphs" transform="rotate(-90 103.60 251.50)">DEG Analysis</text>
<rect x="110.00" y="272.60" width="4.20" height="4.65" fill="#258a42"/>
<text x="117.10" y="276.00" font-size="4.1" fill="#333">TTD</text>
<rect x="110.00" y="277.20" width="4.20" height="4.65" fill="#6fbc74"/>
<text x="117.10" y="280.60" font-size="4.1" fill="#333">DrugBank</text>
<rect x="110.00" y="281.80" width="4.20" height="4.65" fill="#b4ddab"/>
<text x="117.10" y="285.20" font-size="4.1" fill="#333">OpenTargets</text>
<rect x="110.00" y="286.40" width="4.20" height="4.65" fill="#e3f2dd"/>
<text x="117.10" y="289.80" font-size="4.1" fill="#333">DepMap</text>
<line x1="108.20" y1="275.20" x2="108.20" y2="287.80" stroke="#2a7a3e" stroke-width="0.6"/>
<text x="103.60" y="282.20" font-size="5.6" fill="#6fb879" text-anchor="middle" textLength="22" lengthAdjust="spacingAndGlyphs" transform="rotate(-90 103.60 282.20)">Database</text>
<rect x="110.00" y="297.40" width="4.20" height="4.05" fill="#e6e4f1"/>
<text x="117.10" y="300.60" font-size="4.1" fill="#333">AML</text>
<rect x="110.00" y="301.40" width="4.20" height="4.05" fill="#b5b3d8"/>
<text x="117.10" y="304.60" font-size="4.1" fill="#333">B-ALL</text>
<rect x="110.00" y="305.40" width="4.20" height="4.05" fill="#6b5aa6"/>
<text x="117.10" y="308.60" font-size="4.1" fill="#333">T-ALL</text>
<line x1="108.20" y1="298.00" x2="108.20" y2="304.00" stroke="#6b5aa6" stroke-width="0.6"/>
<text x="103.60" y="304.00" font-size="5.6" fill="#9d97c8" text-anchor="middle" textLength="14.4" lengthAdjust="spacingAndGlyphs" transform="rotate(-90 103.60 304.00)">LINCS</text>
<text x="162.80" y="149.90" font-size="10.2" fill="#000" font-weight="bold" stroke="#000" stroke-width="0.35">F</text>
<text x="168.30" y="201.80" font-size="7.8" fill="#231f20" text-anchor="middle" textLength="51" lengthAdjust="spacingAndGlyphs" transform="rotate(-90 168.30 201.80)">Essentiality score</text>
<line x1="192.20" y1="162.50" x2="192.20" y2="241.30" stroke="#231f20" stroke-width="0.9"/>
<line x1="192.20" y1="241.20" x2="243.30" y2="241.20" stroke="#231f20" stroke-width="0.9"/>
<line x1="189.00" y1="165.20" x2="192.20" y2="165.20" stroke="#231f20" stroke-width="0.8"/>
<text x="186.90" y="167.40" font-size="6.3" fill="#231f20" text-anchor="end">0.5</text>
<line x1="189.00" y1="182.70" x2="192.20" y2="182.70" stroke="#231f20" stroke-width="0.8"/>
<text x="186.90" y="184.90" font-size="6.3" fill="#231f20" text-anchor="end">0.0</text>
<line x1="189.00" y1="200.40" x2="192.20" y2="200.40" stroke="#231f20" stroke-width="0.8"/>
<text x="186.90" y="202.60" font-size="6.3" fill="#231f20" text-anchor="end">−0.5</text>
<line x1="189.00" y1="218.10" x2="192.20" y2="218.10" stroke="#231f20" stroke-width="0.8"/>
<text x="186.90" y="220.30" font-size="6.3" fill="#231f20" text-anchor="end">−1.0</text>
<line x1="189.00" y1="235.60" x2="192.20" y2="235.60" stroke="#231f20" stroke-width="0.8"/>
<text x="186.90" y="237.80" font-size="6.3" fill="#231f20" text-anchor="end">−1.5</text>
<text x="218.20" y="150.80" font-size="8.4" fill="#231f20" text-anchor="middle" font-style="italic" textLength="19.5" lengthAdjust="spacingAndGlyphs">BCL2</text>
<text x="218.50" y="159.90" font-size="6.2" fill="#231f20" text-anchor="middle" textLength="21.6" lengthAdjust="spacingAndGlyphs">1.49e-6</text>
<path d="M206.6 165.7 V163.7 H229.9 V165.7" fill="none" stroke="#555" stroke-width="0.6"/>
<path d="M207.00 170.00 L207.04 171.00 L207.10 172.00 L207.16 173.00 L207.23 174.00 L207.31 175.00 L207.40 176.00 L207.50 177.00 L207.60 178.00 L207.71 179.00 L207.84 180.00 L207.97 181.00 L208.11 182.00 L208.25 183.00 L208.40 184.00 L208.55 185.00 L208.70 186.00 L208.86 187.00 L209.04 188.00 L209.23 189.00 L209.42 190.00 L209.61 191.00 L209.77 192.00 L209.90 193.00 L210.00 194.00 L210.06 194.75 L210.09 195.50 L210.10 196.25 L210.09 197.00 L210.06 197.75 L210.02 198.50 L209.97 199.25 L209.90 200.00 L209.82 201.00 L209.71 202.00 L209.59 203.00 L209.46 204.00 L209.31 205.00 L209.17 206.00 L209.03 207.00 L208.90 208.00 L208.77 209.25 L208.64 210.50 L208.50 211.75 L208.37 213.00 L208.24 214.25 L208.11 215.50 L208.00 216.75 L207.90 218.00 L207.81 219.00 L207.74 220.00 L207.67 221.00 L207.61 222.00 L207.56 223.00 L207.51 224.00 L207.45 225.00 L207.40 226.00 L207.34 226.79 L207.28 227.57 L207.23 228.36 L207.17 229.15 L207.12 229.94 L207.07 230.73 L207.03 231.51 L207.00 232.30 L206.40 232.30 L206.37 231.51 L206.33 230.73 L206.28 229.94 L206.23 229.15 L206.17 228.36 L206.12 227.57 L206.06 226.79 L206.00 226.00 L205.95 225.00 L205.89 224.00 L205.84 223.00 L205.79 222.00 L205.73 221.00 L205.66 220.00 L205.59 219.00 L205.50 218.00 L205.40 216.75 L205.29 215.50 L205.16 214.25 L205.03 213.00 L204.90 211.75 L204.76 210.50 L204.63 209.25 L204.50 208.00 L204.37 207.00 L204.23 206.00 L204.09 205.00 L203.94 204.00 L203.81 203.00 L203.69 202.00 L203.58 201.00 L203.50 200.00 L203.43 199.25 L203.38 198.50 L203.34 197.75 L203.31 197.00 L203.30 196.25 L203.31 195.50 L203.34 194.75 L203.40 194.00 L203.50 193.00 L203.63 192.00 L203.79 191.00 L203.97 190.00 L204.17 189.00 L204.36 188.00 L204.54 187.00 L204.70 186.00 L204.85 185.00 L205.00 184.00 L205.15 183.00 L205.29 182.00 L205.43 181.00 L205.56 180.00 L205.69 179.00 L205.80 178.00 L205.90 177.00 L206.00 176.00 L206.09 175.00 L206.17 174.00 L206.24 173.00 L206.30 172.00 L206.36 171.00 L206.40 170.00Z" fill="#b9c0c4" stroke="#5f6a70" stroke-width="0.55"/>
<line x1="206.70" y1="172.00" x2="206.70" y2="230.80" stroke="#7c858a" stroke-width="0.5"/>
<line x1="206.70" y1="201.00" x2="206.70" y2="228.30" stroke="#8d969b" stroke-width="1.1"/>
<rect x="205.50" y="188.00" width="2.4" height="12.00" rx="0.8" fill="#fff" stroke="#444" stroke-width="0.35"/>
<line x1="205.50" y1="194.00" x2="207.90" y2="194.00" stroke="#444" stroke-width="0.4"/>
<line x1="229.70" y1="167.40" x2="229.70" y2="214.80" stroke="#111" stroke-width="1.6"/>
<line x1="229.70" y1="214.80" x2="229.70" y2="236.40" stroke="#222" stroke-width="0.5"/>
<circle cx="229.7" cy="217" r="0.85" fill="#111"/>
<circle cx="229.7" cy="219.5" r="0.85" fill="#111"/>
<circle cx="229.7" cy="222.3" r="0.85" fill="#111"/>
<circle cx="229.7" cy="235.6" r="0.85" fill="#111"/>
<path d="M229.70 175.80 Q232.58 180.49 239.30 182.50 Q232.58 184.93 229.70 190.60 Q226.82 184.93 220.10 182.50 Q226.82 180.49 229.70 175.80Z" fill="#a3cde2" stroke="#3a4850" stroke-width="0.6"/>
<ellipse cx="229.7" cy="182.50" rx="1.4" ry="3.2" fill="#fff" stroke="#333" stroke-width="0.4"/>
<line x1="228.40" y1="182.50" x2="231.00" y2="182.50" stroke="#333" stroke-width="0.4"/>
<line x1="206.70" y1="241.20" x2="206.70" y2="244.00" stroke="#231f20" stroke-width="0.8"/>
<line x1="229.70" y1="241.20" x2="229.70" y2="244.00" stroke="#231f20" stroke-width="0.8"/>
<text x="208.90" y="247.80" font-size="6.5" fill="#231f20" text-anchor="end" transform="rotate(-45 208.90 247.80)">Leukemia</text>
<text x="231.90" y="247.80" font-size="6.5" fill="#231f20" text-anchor="end" transform="rotate(-45 231.90 247.80)">Non Leukemia</text>
<line x1="258.70" y1="162.50" x2="258.70" y2="241.30" stroke="#231f20" stroke-width="0.9"/>
<line x1="258.70" y1="241.20" x2="308.00" y2="241.20" stroke="#231f20" stroke-width="0.9"/>
<line x1="255.50" y1="185.70" x2="258.70" y2="185.70" stroke="#231f20" stroke-width="0.8"/>
<text x="253.40" y="187.90" font-size="6.3" fill="#231f20" text-anchor="end">0</text>
<line x1="255.50" y1="216.30" x2="258.70" y2="216.30" stroke="#231f20" stroke-width="0.8"/>
<text x="253.40" y="218.50" font-size="6.3" fill="#231f20" text-anchor="end">−1</text>
<text x="283.80" y="148.80" font-size="8.4" fill="#231f20" text-anchor="middle" font-style="italic" textLength="17.6" lengthAdjust="spacingAndGlyphs">FLT3</text>
<text x="283.20" y="159.50" font-size="6.2" fill="#231f20" text-anchor="middle" textLength="21.6" lengthAdjust="spacingAndGlyphs">9.34e-3</text>
<path d="M271.7 164.4 V162.4 H294.3 V164.4" fill="none" stroke="#555" stroke-width="0.6"/>
<path d="M271.90 167.00 L271.94 167.88 L271.99 168.75 L272.05 169.62 L272.12 170.50 L272.20 171.38 L272.29 172.25 L272.39 173.12 L272.50 174.00 L272.63 174.75 L272.77 175.50 L272.93 176.25 L273.10 177.00 L273.27 177.75 L273.45 178.50 L273.63 179.25 L273.80 180.00 L273.99 180.79 L274.20 181.57 L274.43 182.36 L274.66 183.15 L274.86 183.94 L275.03 184.73 L275.15 185.51 L275.20 186.30 L275.17 187.01 L275.08 187.73 L274.93 188.44 L274.74 189.15 L274.54 189.86 L274.34 190.57 L274.15 191.29 L274.00 192.00 L273.87 192.75 L273.74 193.50 L273.61 194.25 L273.49 195.00 L273.38 195.75 L273.28 196.50 L273.18 197.25 L273.10 198.00 L273.03 199.50 L272.98 201.00 L272.94 202.50 L272.91 204.00 L272.89 205.50 L272.86 207.00 L272.83 208.50 L272.80 210.00 L272.76 211.88 L272.73 213.75 L272.70 215.62 L272.67 217.50 L272.63 219.38 L272.60 221.25 L272.55 223.12 L272.50 225.00 L272.44 226.60 L272.36 228.20 L272.27 229.80 L272.18 231.40 L272.09 233.00 L272.01 234.60 L271.95 236.20 L271.90 237.80 L271.30 237.80 L271.25 236.20 L271.19 234.60 L271.11 233.00 L271.02 231.40 L270.93 229.80 L270.84 228.20 L270.76 226.60 L270.70 225.00 L270.65 223.12 L270.60 221.25 L270.57 219.38 L270.53 217.50 L270.50 215.62 L270.47 213.75 L270.44 211.88 L270.40 210.00 L270.37 208.50 L270.34 207.00 L270.31 205.50 L270.29 204.00 L270.26 202.50 L270.22 201.00 L270.17 199.50 L270.10 198.00 L270.02 197.25 L269.92 196.50 L269.82 195.75 L269.71 195.00 L269.59 194.25 L269.46 193.50 L269.33 192.75 L269.20 192.00 L269.05 191.29 L268.86 190.57 L268.66 189.86 L268.46 189.15 L268.27 188.44 L268.12 187.73 L268.03 187.01 L268.00 186.30 L268.05 185.51 L268.17 184.73 L268.34 183.94 L268.54 183.15 L268.77 182.36 L269.00 181.57 L269.21 180.79 L269.40 180.00 L269.57 179.25 L269.75 178.50 L269.93 177.75 L270.10 177.00 L270.27 176.25 L270.43 175.50 L270.57 174.75 L270.70 174.00 L270.81 173.12 L270.91 172.25 L271.00 171.38 L271.08 170.50 L271.15 169.62 L271.21 168.75 L271.26 167.88 L271.30 167.00Z" fill="#eef1f2" stroke="#5f6a70" stroke-width="0.55"/>
<line x1="271.60" y1="169.00" x2="271.60" y2="236.30" stroke="#7c858a" stroke-width="0.5"/>
<line x1="271.60" y1="193.00" x2="271.60" y2="233.80" stroke="#8d969b" stroke-width="1.1"/>
<rect x="270.40" y="181.00" width="2.4" height="11.00" rx="0.8" fill="#fff" stroke="#444" stroke-width="0.35"/>
<line x1="270.40" y1="186.50" x2="272.80" y2="186.50" stroke="#444" stroke-width="0.4"/>
<line x1="294.30" y1="172.00" x2="294.30" y2="200.00" stroke="#111" stroke-width="1.6"/>
<line x1="294.30" y1="200.00" x2="294.30" y2="227.70" stroke="#222" stroke-width="0.5"/>
<circle cx="294.3" cy="204" r="0.85" fill="#111"/>
<circle cx="294.3" cy="207" r="0.85" fill="#111"/>
<circle cx="294.3" cy="210" r="0.85" fill="#111"/>
<circle cx="294.3" cy="213.5" r="0.85" fill="#111"/>
<circle cx="294.3" cy="216" r="0.85" fill="#111"/>
<circle cx="294.3" cy="218.5" r="0.85" fill="#111"/>
<circle cx="294.3" cy="221" r="0.85" fill="#111"/>
<circle cx="294.3" cy="224" r="0.85" fill="#111"/>
<circle cx="294.3" cy="227.7" r="0.85" fill="#111"/>
<path d="M294.30 180.20 Q297.48 185.87 304.90 188.30 Q297.48 191.03 294.30 197.40 Q291.12 191.03 283.70 188.30 Q291.12 185.87 294.30 180.20Z" fill="#a3cde2" stroke="#3a4850" stroke-width="0.6"/>
<ellipse cx="294.3" cy="188.30" rx="1.4" ry="3.2" fill="#fff" stroke="#333" stroke-width="0.4"/>
<line x1="293.00" y1="188.30" x2="295.60" y2="188.30" stroke="#333" stroke-width="0.4"/>
<line x1="271.60" y1="241.20" x2="271.60" y2="244.00" stroke="#231f20" stroke-width="0.8"/>
<line x1="294.30" y1="241.20" x2="294.30" y2="244.00" stroke="#231f20" stroke-width="0.8"/>
<text x="273.80" y="247.80" font-size="6.5" fill="#231f20" text-anchor="end" transform="rotate(-45 273.80 247.80)">Leukemia</text>
<text x="296.50" y="247.80" font-size="6.5" fill="#231f20" text-anchor="end" transform="rotate(-45 296.50 247.80)">Non Leukemia</text>
<line x1="328.00" y1="162.50" x2="328.00" y2="241.30" stroke="#231f20" stroke-width="0.9"/>
<line x1="328.00" y1="241.20" x2="378.00" y2="241.20" stroke="#231f20" stroke-width="0.9"/>
<line x1="324.80" y1="166.70" x2="328.00" y2="166.70" stroke="#231f20" stroke-width="0.8"/>
<text x="322.70" y="168.90" font-size="6.3" fill="#231f20" text-anchor="end">1.0</text>
<line x1="324.80" y1="182.50" x2="328.00" y2="182.50" stroke="#231f20" stroke-width="0.8"/>
<text x="322.70" y="184.70" font-size="6.3" fill="#231f20" text-anchor="end">0.5</text>
<line x1="324.80" y1="197.80" x2="328.00" y2="197.80" stroke="#231f20" stroke-width="0.8"/>
<text x="322.70" y="200.00" font-size="6.3" fill="#231f20" text-anchor="end">0.0</text>
<line x1="324.80" y1="212.80" x2="328.00" y2="212.80" stroke="#231f20" stroke-width="0.8"/>
<text x="322.70" y="215.00" font-size="6.3" fill="#231f20" text-anchor="end">−0.5</text>
<line x1="324.80" y1="228.10" x2="328.00" y2="228.10" stroke="#231f20" stroke-width="0.8"/>
<text x="322.70" y="230.30" font-size="6.3" fill="#231f20" text-anchor="end">−1.0</text>
<text x="353.60" y="148.20" font-size="8.4" fill="#231f20" text-anchor="middle" font-style="italic" textLength="25.7" lengthAdjust="spacingAndGlyphs">PIK3R1</text>
<text x="353.80" y="158.90" font-size="6.2" fill="#231f20" text-anchor="middle" textLength="20.7" lengthAdjust="spacingAndGlyphs">1.59e-3</text>
<path d="M342.1 164.4 V162.4 H364.3 V164.4" fill="none" stroke="#555" stroke-width="0.6"/>
<path d="M342.50 183.80 L342.67 184.45 L342.89 185.10 L343.16 185.75 L343.45 186.40 L343.76 187.05 L344.06 187.70 L344.35 188.35 L344.60 189.00 L344.83 189.75 L345.06 190.50 L345.28 191.25 L345.49 192.00 L345.70 192.75 L345.88 193.50 L346.05 194.25 L346.20 195.00 L346.33 195.80 L346.46 196.60 L346.57 197.40 L346.66 198.20 L346.74 199.00 L346.79 199.80 L346.81 200.60 L346.80 201.40 L346.76 202.10 L346.68 202.80 L346.57 203.50 L346.44 204.20 L346.29 204.90 L346.13 205.60 L345.96 206.30 L345.80 207.00 L345.62 207.75 L345.43 208.50 L345.22 209.25 L345.00 210.00 L344.78 210.75 L344.57 211.50 L344.38 212.25 L344.20 213.00 L344.04 213.62 L343.89 214.25 L343.75 214.88 L343.62 215.50 L343.50 216.12 L343.39 216.75 L343.29 217.38 L343.20 218.00 L343.13 219.00 L343.08 220.00 L343.04 221.00 L343.01 222.00 L342.99 223.00 L342.97 224.00 L342.94 225.00 L342.90 226.00 L342.85 227.30 L342.80 228.60 L342.74 229.90 L342.68 231.20 L342.63 232.50 L342.57 233.80 L342.53 235.10 L342.50 236.40 L341.90 236.40 L341.87 235.10 L341.83 233.80 L341.77 232.50 L341.72 231.20 L341.66 229.90 L341.60 228.60 L341.55 227.30 L341.50 226.00 L341.46 225.00 L341.43 224.00 L341.41 223.00 L341.39 222.00 L341.36 221.00 L341.32 220.00 L341.27 219.00 L341.20 218.00 L341.11 217.38 L341.01 216.75 L340.90 216.12 L340.78 215.50 L340.65 214.88 L340.51 214.25 L340.36 213.62 L340.20 213.00 L340.02 212.25 L339.83 211.50 L339.62 210.75 L339.40 210.00 L339.18 209.25 L338.97 208.50 L338.78 207.75 L338.60 207.00 L338.44 206.30 L338.27 205.60 L338.11 204.90 L337.96 204.20 L337.83 203.50 L337.72 202.80 L337.64 202.10 L337.60 201.40 L337.59 200.60 L337.61 199.80 L337.66 199.00 L337.74 198.20 L337.83 197.40 L337.94 196.60 L338.07 195.80 L338.20 195.00 L338.35 194.25 L338.52 193.50 L338.70 192.75 L338.91 192.00 L339.12 191.25 L339.34 190.50 L339.57 189.75 L339.80 189.00 L340.05 188.35 L340.34 187.70 L340.64 187.05 L340.95 186.40 L341.24 185.75 L341.51 185.10 L341.73 184.45 L341.90 183.80Z" fill="#eef1f2" stroke="#5f6a70" stroke-width="0.55"/>
<line x1="342.20" y1="185.80" x2="342.20" y2="234.90" stroke="#7c858a" stroke-width="0.5"/>
<line x1="342.20" y1="207.00" x2="342.20" y2="232.40" stroke="#8d969b" stroke-width="1.1"/>
<rect x="341.00" y="196.00" width="2.4" height="10.00" rx="0.8" fill="#fff" stroke="#444" stroke-width="0.35"/>
<line x1="341.00" y1="201.00" x2="343.40" y2="201.00" stroke="#444" stroke-width="0.4"/>
<line x1="364.60" y1="168.00" x2="364.60" y2="236.80" stroke="#111" stroke-width="1.6"/>
<line x1="364.60" y1="236.80" x2="364.60" y2="236.80" stroke="#222" stroke-width="0.5"/>
<path d="M364.60 192.30 Q367.72 197.97 375.00 200.40 Q367.72 202.83 364.60 208.50 Q361.48 202.83 354.20 200.40 Q361.48 197.97 364.60 192.30Z" fill="#a3cde2" stroke="#3a4850" stroke-width="0.6"/>
<ellipse cx="364.6" cy="200.40" rx="1.4" ry="3.2" fill="#fff" stroke="#333" stroke-width="0.4"/>
<line x1="363.30" y1="200.40" x2="365.90" y2="200.40" stroke="#333" stroke-width="0.4"/>
<line x1="342.20" y1="241.20" x2="342.20" y2="244.00" stroke="#231f20" stroke-width="0.8"/>
<line x1="364.60" y1="241.20" x2="364.60" y2="244.00" stroke="#231f20" stroke-width="0.8"/>
<text x="344.40" y="247.80" font-size="6.5" fill="#231f20" text-anchor="end" transform="rotate(-45 344.40 247.80)">Leukemia</text>
<text x="366.80" y="247.80" font-size="6.5" fill="#231f20" text-anchor="end" transform="rotate(-45 366.80 247.80)">Non Leukemia</text>
<text x="162.20" y="297.90" font-size="10.5" fill="#000" font-weight="bold" stroke="#000" stroke-width="0.35">G</text>
<text x="220.50" y="299.30" font-size="8.0" fill="#231f20" textLength="96.5" lengthAdjust="spacingAndGlyphs">LC50 Multiple Regression</text>
<rect x="204.2" y="304.0" width="129.10" height="34.00" fill="none" stroke="#231f20" stroke-width="1"/>
<rect x="333.3" y="304.0" width="6.1" height="34.00" fill="#9157a3" stroke="#231f20" stroke-width="0.6"/>
<text x="334.75" y="321.00" font-size="4.6" fill="#fff" text-anchor="middle" font-weight="bold" transform="rotate(90 334.75 321.00)">B-ALL</text>
<rect x="204.2" y="341.3" width="129.10" height="34.00" fill="none" stroke="#231f20" stroke-width="1"/>
<rect x="333.3" y="341.3" width="6.1" height="34.00" fill="#9157a3" stroke="#231f20" stroke-width="0.6"/>
<text x="334.75" y="358.30" font-size="4.6" fill="#fff" text-anchor="middle" font-weight="bold" transform="rotate(90 334.75 358.30)">T-ALL</text>
<line x1="201.00" y1="313.30" x2="204.20" y2="313.30" stroke="#231f20" stroke-width="0.8"/>
<text x="199.00" y="315.50" font-size="6.5" fill="#231f20" text-anchor="end">HSPC−like</text>
<line x1="201.00" y1="329.20" x2="204.20" y2="329.20" stroke="#231f20" stroke-width="0.8"/>
<text x="199.00" y="331.40" font-size="6.5" fill="#231f20" text-anchor="end">Lineage−like</text>
<line x1="201.00" y1="350.20" x2="204.20" y2="350.20" stroke="#231f20" stroke-width="0.8"/>
<text x="199.00" y="352.40" font-size="6.5" fill="#231f20" text-anchor="end">HSPC−like</text>
<line x1="201.00" y1="365.80" x2="204.20" y2="365.80" stroke="#231f20" stroke-width="0.8"/>
<text x="199.00" y="368.00" font-size="6.5" fill="#231f20" text-anchor="end">Lineage−like</text>
<line x1="212.70" y1="375.30" x2="212.70" y2="378.00" stroke="#231f20" stroke-width="0.8"/>
<text x="215.60" y="382.90" font-size="6.3" fill="#231f20" text-anchor="end" transform="rotate(-45 215.60 382.90)">Bortezomib</text>
<line x1="226.66" y1="375.30" x2="226.66" y2="378.00" stroke="#231f20" stroke-width="0.8"/>
<text x="229.56" y="382.90" font-size="6.3" fill="#231f20" text-anchor="end" transform="rotate(-45 229.56 382.90)">CHZ868</text>
<line x1="240.62" y1="375.30" x2="240.62" y2="378.00" stroke="#231f20" stroke-width="0.8"/>
<text x="243.52" y="382.90" font-size="6.3" fill="#231f20" text-anchor="end" transform="rotate(-45 243.52 382.90)">Dasatinib</text>
<line x1="254.58" y1="375.30" x2="254.58" y2="378.00" stroke="#231f20" stroke-width="0.8"/>
<text x="257.48" y="382.90" font-size="6.3" fill="#231f20" text-anchor="end" transform="rotate(-45 257.48 382.90)">Ibrutinib</text>
<line x1="268.54" y1="375.30" x2="268.54" y2="378.00" stroke="#231f20" stroke-width="0.8"/>
<text x="271.44" y="382.90" font-size="6.3" fill="#231f20" text-anchor="end" transform="rotate(-45 271.44 382.90)">Panobinostat</text>
<line x1="282.50" y1="375.30" x2="282.50" y2="378.00" stroke="#231f20" stroke-width="0.8"/>
<text x="285.40" y="382.90" font-size="6.3" fill="#231f20" text-anchor="end" transform="rotate(-45 285.40 382.90)">Ruxolitinib</text>
<line x1="296.46" y1="375.30" x2="296.46" y2="378.00" stroke="#231f20" stroke-width="0.8"/>
<text x="299.36" y="382.90" font-size="6.3" fill="#231f20" text-anchor="end" transform="rotate(-45 299.36 382.90)">Trametinib</text>
<line x1="310.42" y1="375.30" x2="310.42" y2="378.00" stroke="#231f20" stroke-width="0.8"/>
<text x="313.32" y="382.90" font-size="6.3" fill="#231f20" text-anchor="end" transform="rotate(-45 313.32 382.90)">Venetoclax</text>
<line x1="324.38" y1="375.30" x2="324.38" y2="378.00" stroke="#231f20" stroke-width="0.8"/>
<text x="327.28" y="382.90" font-size="6.3" fill="#231f20" text-anchor="end" transform="rotate(-45 327.28 382.90)">Vorinostat</text>
<circle cx="212.70" cy="313.30" r="0.97" fill="#b5b0b8" stroke="#888" stroke-width="0.3"/>
<circle cx="226.66" cy="313.30" r="1.67" fill="#dfb3b8" stroke="#999" stroke-width="0.5"/>
<circle cx="240.62" cy="313.30" r="2.90" fill="#f2a0a3" stroke="#5a1010" stroke-width="0.9"/>
<circle cx="254.58" cy="313.30" r="1.67" fill="#e8e6ea" stroke="#999" stroke-width="0.6"/>
<circle cx="268.54" cy="313.30" r="1.94" fill="#f6f4f6" stroke="#999" stroke-width="0.6"/>
<circle cx="282.50" cy="313.30" r="1.06" fill="#c8c4ca" stroke="#999" stroke-width="0.3"/>
<circle cx="296.46" cy="313.30" r="1.23" fill="#d0ccd2" stroke="#999" stroke-width="0.4"/>
<circle cx="310.42" cy="313.30" r="1.85" fill="#c2bec4" stroke="#888" stroke-width="0.5"/>
<circle cx="324.38" cy="313.30" r="1.23" fill="#d6d2d8" stroke="#999" stroke-width="0.4"/>
<circle cx="212.70" cy="329.20" r="1.67" fill="#ebe8ec" stroke="#999" stroke-width="0.6"/>
<circle cx="226.66" cy="329.20" r="0.97" fill="#b5b0b8" stroke="#888" stroke-width="0.3"/>
<circle cx="240.62" cy="329.20" r="1.67" fill="#dcd9dd" stroke="#999" stroke-width="0.5"/>
<circle cx="254.58" cy="329.20" r="2.02" fill="#d4d0d6" stroke="#888" stroke-width="0.6"/>
<circle cx="268.54" cy="329.20" r="1.50" fill="#d6d2d8" stroke="#999" stroke-width="0.4"/>
<circle cx="282.50" cy="329.20" r="1.85" fill="#f4f2f4" stroke="#999" stroke-width="0.6"/>
<circle cx="296.46" cy="329.20" r="0.70" fill="#b5b0b8" stroke="#888" stroke-width="0.3"/>
<circle cx="310.42" cy="329.20" r="1.67" fill="#c8c4ca" stroke="#888" stroke-width="0.5"/>
<circle cx="324.38" cy="329.20" r="2.90" fill="#f7f6f7" stroke="#111" stroke-width="1.1"/>
<circle cx="212.70" cy="350.20" r="2.90" fill="#ec5a50" stroke="#5a1010" stroke-width="0.9"/>
<circle cx="226.66" cy="350.20" r="0.88" fill="#b0abb3" stroke="#888" stroke-width="0.3"/>
<circle cx="240.62" cy="350.20" r="1.50" fill="#cf4a3c" stroke="#8a2a20" stroke-width="0.5"/>
<circle cx="254.58" cy="350.20" r="2.90" fill="#dd3a32" stroke="#4a0808" stroke-width="0.9"/>
<circle cx="268.54" cy="350.20" r="1.14" fill="#e0b8bc" stroke="#999" stroke-width="0.3"/>
<circle cx="282.50" cy="350.20" r="0.88" fill="#c8c4ca" stroke="#999" stroke-width="0.3"/>
<circle cx="296.46" cy="350.20" r="1.32" fill="#d2a8b0" stroke="#999" stroke-width="0.4"/>
<circle cx="310.42" cy="350.20" r="2.90" fill="#262060" stroke="#0a0820" stroke-width="0.9"/>
<circle cx="324.38" cy="350.20" r="1.50" fill="#c8c4ca" stroke="#999" stroke-width="0.4"/>
<circle cx="212.70" cy="365.80" r="1.23" fill="#c0bcc2" stroke="#999" stroke-width="0.4"/>
<circle cx="226.66" cy="365.80" r="1.06" fill="#222" stroke="#111" stroke-width="0.3"/>
<circle cx="240.62" cy="365.80" r="1.32" fill="#d0b8bc" stroke="#999" stroke-width="0.4"/>
<circle cx="254.58" cy="365.80" r="1.06" fill="#c8c4ca" stroke="#999" stroke-width="0.3"/>
<circle cx="268.54" cy="365.80" r="1.85" fill="#c4c0c6" stroke="#888" stroke-width="0.5"/>
<circle cx="282.50" cy="365.80" r="1.85" fill="#bdb9c0" stroke="#888" stroke-width="0.5"/>
<circle cx="296.46" cy="365.80" r="1.58" fill="#7a72b0" stroke="#555" stroke-width="0.4"/>
<circle cx="310.42" cy="365.80" r="1.58" fill="#c0bcc2" stroke="#888" stroke-width="0.4"/>
<circle cx="324.38" cy="365.80" r="1.58" fill="#c8c4ca" stroke="#888" stroke-width="0.4"/>
<defs><linearGradient id="cb" x1="0" x2="0" y1="0" y2="1"><stop offset="0" stop-color="#e42d2a"/><stop offset="0.14" stop-color="#ef6a55"/><stop offset="0.28" stop-color="#fbd5c4"/><stop offset="0.38" stop-color="#fffcf2"/><stop offset="0.5" stop-color="#cfc6e4"/><stop offset="0.7" stop-color="#6d52b2"/><stop offset="0.86" stop-color="#3b2190"/><stop offset="1" stop-color="#1e0d5c"/></linearGradient></defs>
<rect x="342.80" y="306.00" width="6.20" height="31.20" fill="url(#cb)"/>
<text x="342.80" y="303.60" font-size="5.3" fill="#231f20" textLength="24" lengthAdjust="spacingAndGlyphs">coefficient</text>
<line x1="342.80" y1="310.80" x2="343.90" y2="310.80" stroke="#fff" stroke-width="0.5"/>
<line x1="347.90" y1="310.80" x2="349.00" y2="310.80" stroke="#fff" stroke-width="0.5"/>
<text x="350.60" y="312.80" font-size="5.6" fill="#231f20">0.1</text>
<line x1="342.80" y1="318.70" x2="343.90" y2="318.70" stroke="#fff" stroke-width="0.5"/>
<line x1="347.90" y1="318.70" x2="349.00" y2="318.70" stroke="#fff" stroke-width="0.5"/>
<text x="350.60" y="320.70" font-size="5.6" fill="#231f20">0.0</text>
<line x1="342.80" y1="326.60" x2="343.90" y2="326.60" stroke="#fff" stroke-width="0.5"/>
<line x1="347.90" y1="326.60" x2="349.00" y2="326.60" stroke="#fff" stroke-width="0.5"/>
<text x="350.60" y="328.60" font-size="5.6" fill="#231f20">−0.1</text>
<line x1="342.80" y1="334.50" x2="343.90" y2="334.50" stroke="#fff" stroke-width="0.5"/>
<line x1="347.90" y1="334.50" x2="349.00" y2="334.50" stroke="#fff" stroke-width="0.5"/>
<text x="350.60" y="336.50" font-size="5.6" fill="#231f20">−0.2</text>
<text x="342.80" y="348.20" font-size="5.8" fill="#231f20" textLength="36.6" lengthAdjust="spacingAndGlyphs">−log10(P.value)</text>
<circle cx="345.6" cy="353.5" r="1.1" fill="#fff" stroke="#333" stroke-width="0.8"/>
<text x="352.40" y="355.50" font-size="5.8" fill="#231f20">.5</text>
<circle cx="345.6" cy="359.5" r="1.5" fill="#fff" stroke="#333" stroke-width="0.8"/>
<text x="350.80" y="361.50" font-size="5.8" fill="#231f20">1.0</text>
<circle cx="345.6" cy="365.4" r="1.9" fill="#fff" stroke="#333" stroke-width="0.8"/>
<text x="350.80" y="367.40" font-size="5.8" fill="#231f20">1.5</text>
<circle cx="345.6" cy="371.6" r="2.3" fill="#fff" stroke="#333" stroke-width="0.8"/>
<text x="350.80" y="373.60" font-size="5.8" fill="#231f20">2.0</text>
<circle cx="345.6" cy="379.6" r="1.3" fill="#111"/>
<text x="350.80" y="381.60" font-size="5.6" fill="#231f20"><tspan font-style="italic">P</tspan> &lt; .05</text>
<text x="388.00" y="149.90" font-size="10.2" fill="#000" font-weight="bold" stroke="#000" stroke-width="0.35">H</text>
<text x="463.40" y="151.20" font-size="8.6" fill="#231f20" text-anchor="middle" textLength="37.4" lengthAdjust="spacingAndGlyphs">Sorafenib</text>
<line x1="416.30" y1="159.60" x2="416.30" y2="224.00" stroke="#231f20" stroke-width="0.9"/>
<line x1="416.30" y1="223.60" x2="511.50" y2="223.60" stroke="#231f20" stroke-width="0.9"/>
<line x1="413.10" y1="223.60" x2="416.30" y2="223.60" stroke="#231f20" stroke-width="0.8"/>
<text x="411.70" y="225.80" font-size="6.4" fill="#231f20" text-anchor="end">0</text>
<line x1="413.10" y1="208.25" x2="416.30" y2="208.25" stroke="#231f20" stroke-width="0.8"/>
<text x="411.70" y="210.45" font-size="6.4" fill="#231f20" text-anchor="end">50</text>
<line x1="413.10" y1="192.90" x2="416.30" y2="192.90" stroke="#231f20" stroke-width="0.8"/>
<text x="411.70" y="195.10" font-size="6.4" fill="#231f20" text-anchor="end">100</text>
<line x1="413.10" y1="177.55" x2="416.30" y2="177.55" stroke="#231f20" stroke-width="0.8"/>
<text x="411.70" y="179.75" font-size="6.4" fill="#231f20" text-anchor="end">150</text>
<line x1="413.10" y1="162.20" x2="416.30" y2="162.20" stroke="#231f20" stroke-width="0.8"/>
<text x="411.70" y="164.40" font-size="6.4" fill="#231f20" text-anchor="end">200</text>
<line x1="416.50" y1="223.60" x2="416.50" y2="226.40" stroke="#231f20" stroke-width="0.8"/>
<text x="419.10" y="230.00" font-size="6.4" fill="#231f20" text-anchor="end" transform="rotate(-45 419.10 230.00)">10</text>
<line x1="439.90" y1="223.60" x2="439.90" y2="226.40" stroke="#231f20" stroke-width="0.8"/>
<text x="442.50" y="230.00" font-size="6.4" fill="#231f20" text-anchor="end" transform="rotate(-45 442.50 230.00)">100</text>
<line x1="463.30" y1="223.60" x2="463.30" y2="226.40" stroke="#231f20" stroke-width="0.8"/>
<text x="465.90" y="230.00" font-size="6.4" fill="#231f20" text-anchor="end" transform="rotate(-45 465.90 230.00)">1000</text>
<line x1="486.70" y1="223.60" x2="486.70" y2="226.40" stroke="#231f20" stroke-width="0.8"/>
<text x="489.30" y="230.00" font-size="6.4" fill="#231f20" text-anchor="end" transform="rotate(-45 489.30 230.00)">10000</text>
<line x1="510.10" y1="223.60" x2="510.10" y2="226.40" stroke="#231f20" stroke-width="0.8"/>
<text x="512.70" y="230.00" font-size="6.4" fill="#231f20" text-anchor="end" transform="rotate(-45 512.70 230.00)">100000</text>
<text x="394.00" y="191.80" font-size="7.4" fill="#231f20" text-anchor="middle" textLength="35.3" lengthAdjust="spacingAndGlyphs" transform="rotate(-90 394.00 191.80)">Viability (%)</text>
<path d="M431.94 177.55 L432.41 177.55 L432.88 177.55 L433.35 177.55 L433.82 177.55 L434.28 177.55 L434.75 177.55 L435.22 177.55 L435.69 177.55 L436.16 177.55 L436.62 177.55 L437.09 177.55 L437.56 177.55 L438.03 177.55 L438.50 177.55 L438.96 177.55 L439.43 177.55 L439.90 177.55 L440.37 177.55 L440.84 177.55 L441.30 177.55 L441.77 177.55 L442.24 177.55 L442.71 177.55 L443.18 177.55 L443.64 177.55 L444.11 177.55 L444.58 177.55 L445.05 177.55 L445.52 177.55 L445.98 177.55 L446.45 177.55 L446.92 177.55 L447.39 177.55 L447.86 177.55 L448.32 177.55 L448.79 177.55 L449.26 177.55 L449.73 177.55 L450.20 177.55 L450.66 177.55 L451.13 177.55 L451.60 177.55 L452.07 177.55 L452.54 177.55 L453.00 177.55 L453.47 177.55 L453.94 177.55 L454.41 177.55 L454.88 177.55 L455.34 177.55 L455.81 177.55 L456.28 177.55 L456.75 177.55 L457.22 177.55 L457.68 177.55 L458.15 177.55 L458.62 177.55 L459.09 177.55 L459.56 177.55 L460.02 177.55 L460.49 177.55 L460.96 177.55 L461.43 177.55 L461.90 177.55 L462.36 177.55 L462.83 177.55 L463.30 177.55 L463.77 177.55 L464.24 177.55 L464.70 177.55 L465.17 177.55 L465.64 177.55 L466.11 177.55 L466.58 177.55 L467.04 177.55 L467.51 177.55 L467.98 177.55 L468.45 177.55 L468.92 177.55 L469.38 177.55 L469.85 177.55 L470.32 177.55 L470.79 177.55 L471.26 177.55 L471.72 177.55 L472.19 177.55 L472.66 177.55 L473.13 177.55 L473.60 177.55 L474.06 177.55 L474.53 177.56 L475.00 177.56 L475.47 177.56 L475.94 177.57 L476.40 177.57 L476.87 177.58 L477.34 177.60 L477.81 177.62 L478.28 177.65 L478.74 177.70 L479.21 177.77 L479.68 177.87 L480.15 178.00 L480.62 178.20 L481.08 178.49 L481.55 178.90 L482.02 179.47 L482.49 180.27 L482.96 181.39 L483.42 182.90 L483.89 184.90 L484.36 187.46 L484.83 190.62 L485.30 194.31 L485.76 198.39 L486.23 202.61 L486.70 206.68 L487.17 210.38 L487.64 213.54 L488.10 216.10 L488.57 218.10 L489.04 219.61 L489.51 220.72 L489.98 221.53 L490.44 222.10 L490.91 222.51 L491.38 222.79 L491.85 222.99 L492.32 223.13 L492.78 223.23 L493.25 223.30 L493.72 223.34 L494.19 223.37 L494.66 223.40 L495.12 223.41 L495.59 223.42 L496.06 223.43 L496.53 223.43 L497.00 223.44 L497.46 223.44 L497.93 223.44 L498.40 223.44 L498.87 223.44 L499.34 223.45 L499.80 223.45 L500.27 223.45 L500.74 223.45 L501.21 223.45 L501.68 223.45 L502.14 223.45" fill="none" stroke="#2f55a4" stroke-width="1.2"/>
<path d="M431.94 195.36 L432.41 195.36 L432.88 195.36 L433.35 195.36 L433.82 195.36 L434.28 195.36 L434.75 195.36 L435.22 195.36 L435.69 195.36 L436.16 195.36 L436.62 195.36 L437.09 195.36 L437.56 195.36 L438.03 195.36 L438.50 195.36 L438.96 195.36 L439.43 195.36 L439.90 195.36 L440.37 195.36 L440.84 195.36 L441.30 195.36 L441.77 195.36 L442.24 195.36 L442.71 195.36 L443.18 195.36 L443.64 195.36 L444.11 195.37 L444.58 195.37 L445.05 195.37 L445.52 195.38 L445.98 195.38 L446.45 195.39 L446.92 195.40 L447.39 195.41 L447.86 195.42 L448.32 195.44 L448.79 195.46 L449.26 195.48 L449.73 195.52 L450.20 195.56 L450.66 195.61 L451.13 195.68 L451.60 195.76 L452.07 195.86 L452.54 195.99 L453.00 196.14 L453.47 196.34 L453.94 196.58 L454.41 196.88 L454.88 197.24 L455.34 197.68 L455.81 198.21 L456.28 198.83 L456.75 199.57 L457.22 200.42 L457.68 201.39 L458.15 202.47 L458.62 203.64 L459.09 204.90 L459.56 206.21 L460.02 207.53 L460.49 208.84 L460.96 210.09 L461.43 211.27 L461.90 212.35 L462.36 213.32 L462.83 214.17 L463.30 214.90 L463.77 215.53 L464.24 216.06 L464.70 216.50 L465.17 216.86 L465.64 217.16 L466.11 217.40 L466.58 217.59 L467.04 217.75 L467.51 217.88 L467.98 217.98 L468.45 218.06 L468.92 218.13 L469.38 218.18 L469.85 218.22 L470.32 218.25 L470.79 218.28 L471.26 218.30 L471.72 218.32 L472.19 218.33 L472.66 218.34 L473.13 218.35 L473.60 218.36 L474.06 218.36 L474.53 218.36 L475.00 218.37 L475.47 218.37 L475.94 218.37 L476.40 218.37 L476.87 218.38 L477.34 218.38 L477.81 218.38 L478.28 218.38 L478.74 218.38 L479.21 218.38 L479.68 218.38 L480.15 218.38 L480.62 218.38 L481.08 218.38 L481.55 218.38 L482.02 218.38 L482.49 218.38 L482.96 218.38 L483.42 218.38 L483.89 218.38 L484.36 218.38 L484.83 218.38 L485.30 218.38 L485.76 218.38 L486.23 218.38 L486.70 218.38 L487.17 218.38 L487.64 218.38 L488.10 218.38 L488.57 218.38 L489.04 218.38 L489.51 218.38 L489.98 218.38 L490.44 218.38 L490.91 218.38 L491.38 218.38 L491.85 218.38 L492.32 218.38 L492.78 218.38 L493.25 218.38 L493.72 218.38 L494.19 218.38 L494.66 218.38 L495.12 218.38 L495.59 218.38 L496.06 218.38 L496.53 218.38 L497.00 218.38 L497.46 218.38 L497.93 218.38 L498.40 218.38 L498.87 218.38 L499.34 218.38 L499.80 218.38 L500.27 218.38 L500.74 218.38 L501.21 218.38 L501.68 218.38 L502.14 218.38" fill="none" stroke="#e0262a" stroke-width="1.2"/>
<rect x="431.60" y="174.10" width="2.2" height="2.2" fill="#2f55a4"/>
<rect x="431.60" y="185.10" width="2.2" height="2.2" fill="#2f55a4"/>
<rect x="444.90" y="173.70" width="2.2" height="2.2" fill="#2f55a4"/>
<rect x="444.90" y="175.10" width="2.2" height="2.2" fill="#2f55a4"/>
<rect x="459.10" y="176.50" width="2.2" height="2.2" fill="#2f55a4"/>
<rect x="459.10" y="181.60" width="2.2" height="2.2" fill="#2f55a4"/>
<rect x="473.10" y="168.10" width="2.2" height="2.2" fill="#2f55a4"/>
<rect x="473.10" y="172.40" width="2.2" height="2.2" fill="#2f55a4"/>
<rect x="487.10" y="213.30" width="2.2" height="2.2" fill="#2f55a4"/>
<rect x="501.40" y="221.10" width="2.2" height="2.2" fill="#2f55a4"/>
<rect x="431.60" y="197.20" width="2.2" height="2.2" fill="#e0262a"/>
<rect x="444.90" y="190.90" width="2.2" height="2.2" fill="#e0262a"/>
<rect x="459.10" y="211.20" width="2.2" height="2.2" fill="#e0262a"/>
<rect x="473.10" y="218.20" width="2.2" height="2.2" fill="#e0262a"/>
<rect x="487.10" y="217.40" width="2.2" height="2.2" fill="#e0262a"/>
<rect x="501.40" y="215.20" width="2.2" height="2.2" fill="#e0262a"/>
<rect x="501.40" y="216.70" width="2.2" height="2.2" fill="#e0262a"/>
<text x="464.70" y="258.70" font-size="9.3" fill="#231f20" text-anchor="middle" textLength="57.5" lengthAdjust="spacingAndGlyphs" stroke="#231f20" stroke-width="0.12">Concentration (nM)</text>
<text x="465.20" y="274.30" font-size="8.6" fill="#231f20" text-anchor="middle" textLength="37.4" lengthAdjust="spacingAndGlyphs">Buparlisib</text>
<line x1="416.20" y1="278.70" x2="416.20" y2="336.20" stroke="#231f20" stroke-width="0.9"/>
<line x1="416.20" y1="335.80" x2="512.00" y2="335.80" stroke="#231f20" stroke-width="0.9"/>
<line x1="413.00" y1="335.80" x2="416.20" y2="335.80" stroke="#231f20" stroke-width="0.8"/>
<text x="411.60" y="338.00" font-size="6.4" fill="#231f20" text-anchor="end">0</text>
<line x1="413.00" y1="323.42" x2="416.20" y2="323.42" stroke="#231f20" stroke-width="0.8"/>
<text x="411.60" y="325.62" font-size="6.4" fill="#231f20" text-anchor="end">50</text>
<line x1="413.00" y1="311.04" x2="416.20" y2="311.04" stroke="#231f20" stroke-width="0.8"/>
<text x="411.60" y="313.24" font-size="6.4" fill="#231f20" text-anchor="end">100</text>
<line x1="413.00" y1="298.66" x2="416.20" y2="298.66" stroke="#231f20" stroke-width="0.8"/>
<text x="411.60" y="300.86" font-size="6.4" fill="#231f20" text-anchor="end">150</text>
<line x1="413.00" y1="286.28" x2="416.20" y2="286.28" stroke="#231f20" stroke-width="0.8"/>
<text x="411.60" y="288.48" font-size="6.4" fill="#231f20" text-anchor="end">200</text>
<line x1="417.70" y1="335.80" x2="417.70" y2="338.60" stroke="#231f20" stroke-width="0.8"/>
<text x="420.30" y="342.20" font-size="6.4" fill="#231f20" text-anchor="end" transform="rotate(-45 420.30 342.20)">1</text>
<line x1="435.90" y1="335.80" x2="435.90" y2="338.60" stroke="#231f20" stroke-width="0.8"/>
<text x="438.50" y="342.20" font-size="6.4" fill="#231f20" text-anchor="end" transform="rotate(-45 438.50 342.20)">10</text>
<line x1="454.10" y1="335.80" x2="454.10" y2="338.60" stroke="#231f20" stroke-width="0.8"/>
<text x="456.70" y="342.20" font-size="6.4" fill="#231f20" text-anchor="end" transform="rotate(-45 456.70 342.20)">100</text>
<line x1="472.30" y1="335.80" x2="472.30" y2="338.60" stroke="#231f20" stroke-width="0.8"/>
<text x="474.90" y="342.20" font-size="6.4" fill="#231f20" text-anchor="end" transform="rotate(-45 474.90 342.20)">1000</text>
<line x1="490.50" y1="335.80" x2="490.50" y2="338.60" stroke="#231f20" stroke-width="0.8"/>
<text x="493.10" y="342.20" font-size="6.4" fill="#231f20" text-anchor="end" transform="rotate(-45 493.10 342.20)">10000</text>
<line x1="508.70" y1="335.80" x2="508.70" y2="338.60" stroke="#231f20" stroke-width="0.8"/>
<text x="511.30" y="342.20" font-size="6.4" fill="#231f20" text-anchor="end" transform="rotate(-45 511.30 342.20)">100000</text>
<text x="394.00" y="306.70" font-size="7.4" fill="#231f20" text-anchor="middle" textLength="35.3" lengthAdjust="spacingAndGlyphs" transform="rotate(-90 394.00 306.70)">Viability (%)</text>
<path d="M435.35 296.68 L435.72 296.68 L436.08 296.68 L436.45 296.68 L436.81 296.68 L437.17 296.68 L437.54 296.68 L437.90 296.68 L438.27 296.68 L438.63 296.68 L438.99 296.68 L439.36 296.68 L439.72 296.68 L440.09 296.68 L440.45 296.68 L440.81 296.68 L441.18 296.68 L441.54 296.68 L441.91 296.68 L442.27 296.68 L442.63 296.68 L443.00 296.68 L443.36 296.68 L443.73 296.68 L444.09 296.68 L444.45 296.68 L444.82 296.68 L445.18 296.68 L445.55 296.68 L445.91 296.68 L446.27 296.68 L446.64 296.68 L447.00 296.68 L447.37 296.68 L447.73 296.68 L448.09 296.68 L448.46 296.68 L448.82 296.68 L449.19 296.68 L449.55 296.68 L449.91 296.68 L450.28 296.68 L450.64 296.68 L451.01 296.68 L451.37 296.68 L451.73 296.68 L452.10 296.68 L452.46 296.68 L452.83 296.68 L453.19 296.68 L453.55 296.68 L453.92 296.68 L454.28 296.68 L454.65 296.68 L455.01 296.68 L455.37 296.68 L455.74 296.68 L456.10 296.68 L456.47 296.68 L456.83 296.68 L457.19 296.68 L457.56 296.68 L457.92 296.68 L458.29 296.68 L458.65 296.68 L459.01 296.68 L459.38 296.68 L459.74 296.68 L460.11 296.68 L460.47 296.68 L460.83 296.68 L461.20 296.68 L461.56 296.68 L461.93 296.68 L462.29 296.68 L462.65 296.68 L463.02 296.68 L463.38 296.68 L463.75 296.68 L464.11 296.68 L464.47 296.68 L464.84 296.68 L465.20 296.68 L465.57 296.68 L465.93 296.68 L466.29 296.68 L466.66 296.68 L467.02 296.68 L467.39 296.68 L467.75 296.68 L468.11 296.68 L468.48 296.68 L468.84 296.68 L469.21 296.68 L469.57 296.68 L469.93 296.68 L470.30 296.68 L470.66 296.69 L471.03 296.69 L471.39 296.70 L471.75 296.70 L472.12 296.71 L472.48 296.73 L472.85 296.75 L473.21 296.79 L473.57 296.83 L473.94 296.90 L474.30 297.00 L474.67 297.14 L475.03 297.35 L475.39 297.63 L475.76 298.05 L476.12 298.62 L476.49 299.43 L476.85 300.53 L477.21 302.01 L477.58 303.95 L477.94 306.38 L478.31 309.30 L478.67 312.63 L479.03 316.18 L479.40 319.73 L479.76 323.05 L480.13 325.98 L480.49 328.41 L480.85 330.34 L481.22 331.82 L481.58 332.93 L481.95 333.73 L482.31 334.31 L482.67 334.72 L483.04 335.01 L483.40 335.21 L483.77 335.35 L484.13 335.45 L484.49 335.52 L484.86 335.57 L485.22 335.60 L485.59 335.62 L485.95 335.64 L486.31 335.65 L486.68 335.66 L487.04 335.66 L487.41 335.67 L487.77 335.67 L488.13 335.67 L488.50 335.67 L488.86 335.67 L489.23 335.67 L489.59 335.68 L489.95 335.68 L490.32 335.68" fill="none" stroke="#2f55a4" stroke-width="1.2"/>
<path d="M446.82 303.75 L447.18 304.13 L447.55 304.51 L447.91 304.90 L448.28 305.29 L448.64 305.70 L449.00 306.11 L449.37 306.52 L449.73 306.94 L450.10 307.37 L450.46 307.80 L450.82 308.23 L451.19 308.67 L451.55 309.11 L451.92 309.56 L452.28 310.01 L452.64 310.46 L453.01 310.91 L453.37 311.37 L453.74 311.82 L454.10 312.28 L454.46 312.73 L454.83 313.19 L455.19 313.64 L455.56 314.10 L455.92 314.55 L456.28 315.00 L456.65 315.44 L457.01 315.89 L457.38 316.33 L457.74 316.76 L458.10 317.19 L458.47 317.62 L458.83 318.04 L459.20 318.45 L459.56 318.86 L459.92 319.26 L460.29 319.66 L460.65 320.05 L461.02 320.43 L461.38 320.81 L461.74 321.17 L462.11 321.53 L462.47 321.89 L462.84 322.23 L463.20 322.57 L463.56 322.90 L463.93 323.22 L464.29 323.53 L464.66 323.84 L465.02 324.13 L465.38 324.42 L465.75 324.70 L466.11 324.97 L466.48 325.24 L466.84 325.50 L467.20 325.75 L467.57 325.99 L467.93 326.22 L468.30 326.45 L468.66 326.67 L469.02 326.88 L469.39 327.08 L469.75 327.28 L470.12 327.47 L470.48 327.66 L470.84 327.83 L471.21 328.01 L471.57 328.17 L471.94 328.33 L472.30 328.48 L472.66 328.63 L473.03 328.77 L473.39 328.91 L473.76 329.04 L474.12 329.17 L474.48 329.29 L474.85 329.41 L475.21 329.52 L475.58 329.63 L475.94 329.73 L476.30 329.83 L476.67 329.93 L477.03 330.02 L477.40 330.11 L477.76 330.20 L478.12 330.28 L478.49 330.35 L478.85 330.43 L479.22 330.50 L479.58 330.57 L479.94 330.64 L480.31 330.70 L480.67 330.76 L481.04 330.82 L481.40 330.87 L481.76 330.92 L482.13 330.98 L482.49 331.02 L482.86 331.07 L483.22 331.12 L483.58 331.16 L483.95 331.20 L484.31 331.24 L484.68 331.28 L485.04 331.31 L485.40 331.35 L485.77 331.38 L486.13 331.41 L486.50 331.44 L486.86 331.47 L487.22 331.50 L487.59 331.52 L487.95 331.55 L488.32 331.57 L488.68 331.59 L489.04 331.62 L489.41 331.64 L489.77 331.66 L490.14 331.68" fill="none" stroke="#e0262a" stroke-width="1.2"/>
<rect x="434.10" y="295.90" width="2.2" height="2.2" fill="#2f55a4"/>
<rect x="434.10" y="303.10" width="2.2" height="2.2" fill="#2f55a4"/>
<rect x="449.90" y="298.60" width="2.2" height="2.2" fill="#2f55a4"/>
<rect x="456.40" y="289.10" width="2.2" height="2.2" fill="#2f55a4"/>
<rect x="456.40" y="293.40" width="2.2" height="2.2" fill="#2f55a4"/>
<rect x="466.90" y="286.40" width="2.2" height="2.2" fill="#2f55a4"/>
<rect x="466.90" y="291.60" width="2.2" height="2.2" fill="#2f55a4"/>
<rect x="478.70" y="310.90" width="2.2" height="2.2" fill="#2f55a4"/>
<rect x="478.70" y="321.30" width="2.2" height="2.2" fill="#2f55a4"/>
<rect x="488.90" y="332.90" width="2.2" height="2.2" fill="#2f55a4"/>
<rect x="445.70" y="302.60" width="2.2" height="2.2" fill="#e0262a"/>
<rect x="445.70" y="304.70" width="2.2" height="2.2" fill="#e0262a"/>
<rect x="456.40" y="312.10" width="2.2" height="2.2" fill="#e0262a"/>
<rect x="456.40" y="321.30" width="2.2" height="2.2" fill="#e0262a"/>
<rect x="466.90" y="320.20" width="2.2" height="2.2" fill="#e0262a"/>
<rect x="466.90" y="324.60" width="2.2" height="2.2" fill="#e0262a"/>
<rect x="478.70" y="328.90" width="2.2" height="2.2" fill="#e0262a"/>
<rect x="488.90" y="329.50" width="2.2" height="2.2" fill="#e0262a"/>
<rect x="488.90" y="331.10" width="2.2" height="2.2" fill="#e0262a"/>
<text x="464.80" y="371.40" font-size="9.3" fill="#231f20" text-anchor="middle" textLength="58.3" lengthAdjust="spacingAndGlyphs" stroke="#231f20" stroke-width="0.12">Concentration (nM)</text>
<line x1="444.80" y1="381.20" x2="452.60" y2="381.20" stroke="#c4222c" stroke-width="1.0"/>
<circle cx="448.7" cy="381.2" r="1.2" fill="#c4222c"/>
<text x="455.90" y="383.20" font-size="5.7" fill="#231f20" textLength="23.1" lengthAdjust="spacingAndGlyphs">HSPC-like</text>
<line x1="444.80" y1="390.30" x2="452.60" y2="390.30" stroke="#2b3f80" stroke-width="1.0"/>
<circle cx="448.7" cy="390.3" r="1.2" fill="#2b3f80"/>
<text x="455.90" y="392.30" font-size="5.7" fill="#231f20" textLength="27.9" lengthAdjust="spacingAndGlyphs">Lineage-like</text>
<rect x="0.5" y="0.5" width="519" height="416" fill="none" stroke="#3c3c3c" stroke-width="1.1"/>
</svg>
</body></html>
